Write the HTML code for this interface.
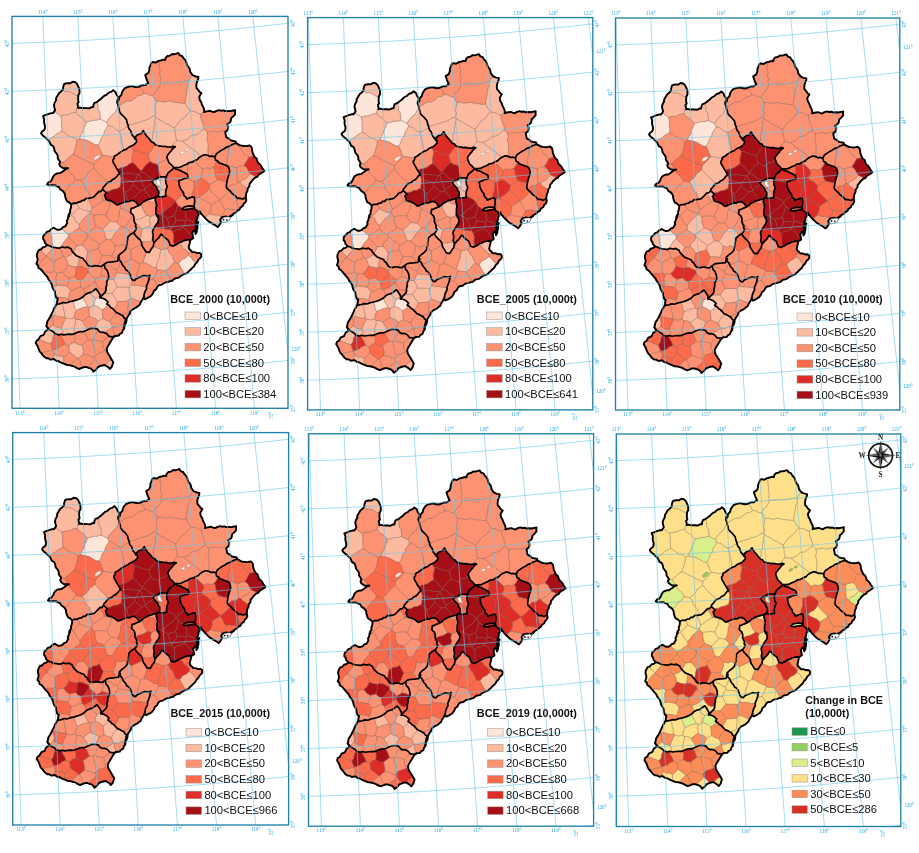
<!DOCTYPE html><html><head><meta charset="utf-8"><title>BCE maps</title>
<style>html,body{margin:0;padding:0;background:#fff}svg{display:block}text{font-family:"Liberation Sans",sans-serif}.g{font-family:"Liberation Serif",serif;font-size:5.1px;fill:#22a9e8}.lt{font-weight:bold;font-size:10.6px;fill:#111}.ll{font-size:11.2px;fill:#111}.cb{fill:none;stroke:#000;stroke-width:1.7;stroke-linejoin:round;stroke-linecap:round}.ob{fill:none;stroke:#000;stroke-width:1.9;stroke-linejoin:round}</style></head><body>
<svg width="919" height="853" viewBox="0 0 919 853">
<rect width="919" height="853" fill="#fff"/>
<defs>
<path id="k0" d="M79.4,138.8 83.1,139.4 86.6,140.3 88.6,141.1 91.1,142.5 95.0,144.7 98.0,145.1 100.0,142.2 101.2,138.3 103.8,134.5 104.3,131.8 106.5,128.3 108.2,125.2 106.6,122.2 103.3,120.7 100.2,119.1 96.2,120.3 93.3,120.2 89.7,121.3 86.4,122.0 85.3,125.3 83.9,128.0 82.9,132.1 81.1,134.8 79.4,138.8Z"/>
<path id="k1" d="M100.2,119.1 103.3,120.7 106.6,122.2 108.2,119.6 110.5,116.5 112.1,115.1 115.2,112.4 116.8,108.9 118.4,106.9 118.3,106.7 118.0,105.0 117.2,102.5 117.3,100.5 118.3,98.5 118.6,98.1 117.8,96.6 116.2,94.1 115.6,92.2 113.2,90.1 111.2,91.9 109.2,92.4 107.2,93.9 106.2,95.1 104.6,95.5 102.6,97.2 101.2,98.7 99.2,100.1 97.2,101.8 96.9,102.0 97.8,104.9 98.0,109.7 99.6,111.4 100.4,116.2 100.2,119.1Z"/>
<path id="k2" d="M77.9,105.9 77.4,103.7 78.7,102.2 78.1,100.1 78.2,98.0 78.3,95.8 74.9,94.8 72.1,93.0 69.3,91.6 65.7,91.6 62.3,90.0 61.2,91.5 59.1,93.1 57.6,95.6 56.1,98.1 56.1,100.1 54.5,103.1 54.0,105.0 54.4,107.7 55.1,110.1 54.4,111.2 57.7,113.9 60.7,116.0 65.1,114.9 68.8,114.7 71.2,113.2 76.0,112.2 76.7,108.5 77.9,105.9Z"/>
<path id="k3" d="M61.6,131.3 61.9,128.2 61.5,123.7 61.6,119.7 60.7,116.0 57.7,113.9 54.4,111.2 53.1,113.1 50.9,113.2 48.1,114.1 45.2,115.2 43.0,116.1 44.2,119.1 44.0,121.1 44.2,123.3 45.0,126.2 44.8,128.8 44.0,130.2 42.1,131.4 41.0,133.2 42.7,135.5 45.0,137.2 46.5,138.6 48.4,140.5 51.0,137.9 54.1,136.3 56.3,134.3 58.5,133.0 61.6,131.3Z"/>
<path id="k4" d="M94.2,164.2 97.3,161.2 99.5,158.9 102.5,155.4 100.7,151.3 100.0,149.0 98.0,145.1 95.0,144.7 91.1,142.5 88.6,141.1 86.6,140.3 83.1,139.4 79.4,138.8 76.9,140.1 76.5,143.5 75.7,146.7 74.2,151.8 72.9,154.6 76.8,155.9 79.1,157.5 82.3,159.0 85.1,160.3 87.3,161.5 91.7,163.7 94.2,164.2Z"/>
<path id="k5" d="M67.4,168.3 68.1,168.2 67.5,168.5 68.5,171.2 71.7,174.3 74.1,176.6 75.2,179.5 81.2,180.5 84.5,177.7 86.8,175.4 88.7,171.9 91.4,170.4 93.8,167.9 94.2,164.2 91.7,163.7 87.3,161.5 85.1,160.3 82.3,159.0 79.1,157.5 76.8,155.9 72.9,154.6 69.3,157.2 67.0,159.5 63.3,162.4 65.6,165.8 67.4,168.3Z"/>
<path id="k6" d="M63.3,162.4 60.0,162.4 59.2,163.9 60.1,166.2 63.1,168.2 65.9,168.3 67.4,168.3 65.6,165.8 63.3,162.4Z"/>
<path id="k7" d="M75.2,179.5 74.1,176.6 71.7,174.3 68.5,171.2 67.5,168.5 65.4,169.4 63.1,171.2 60.3,173.1 58.1,173.2 56.1,173.9 54.1,175.2 53.0,177.0 52.1,179.3 50.4,181.8 48.5,182.1 47.0,184.3 49.0,185.3 51.1,185.3 52.9,185.2 55.0,185.2 57.1,186.3 59.0,187.1 60.1,189.3 63.1,191.3 63.8,192.2 66.4,189.9 68.0,187.7 70.3,184.3 73.2,182.9 75.2,179.5Z"/>
<path id="k8" d="M75.2,179.5 73.2,182.9 70.3,184.3 68.0,187.7 66.4,189.9 63.8,192.2 64.9,193.9 65.1,196.3 66.1,199.6 67.1,201.3 69.0,202.3 71.1,204.3 73.4,203.2 76.1,203.3 78.5,202.1 80.8,201.7 82.1,200.3 84.1,200.3 86.1,198.3 88.1,198.3 91.4,197.8 91.8,197.7 89.5,195.2 88.8,191.7 86.1,189.7 84.1,186.0 83.4,183.1 81.2,180.5 75.2,179.5Z"/>
<path id="k9" d="M93.8,167.9 96.2,170.9 98.4,173.3 99.9,175.0 102.6,177.2 105.4,180.0 107.3,183.1 108.4,182.2 110.8,181.4 112.4,179.6 114.6,178.7 116.4,176.9 118.1,174.7 119.8,173.6 117.8,170.2 116.0,167.4 115.1,165.5 113.2,162.4 112.8,160.2 114.2,158.1 114.4,156.6 110.1,156.5 106.4,155.6 102.5,155.4 99.5,158.9 97.3,161.2 94.2,164.2 93.8,167.9Z"/>
<path id="k10" d="M114.4,156.6 114.4,156.1 116.8,154.9 119.1,153.2 120.7,152.0 123.8,150.1 123.8,150.1 123.1,147.2 122.2,143.0 121.8,140.4 121.0,136.9 120.2,133.7 119.2,131.0 115.5,129.5 112.8,126.9 108.2,125.2 106.5,128.3 104.3,131.8 103.8,134.5 101.2,138.3 100.0,142.2 98.0,145.1 100.0,149.0 100.7,151.3 102.5,155.4 106.4,155.6 110.1,156.5 114.4,156.6Z"/>
<path id="k11" d="M79.4,138.8 81.1,134.8 82.9,132.1 83.9,128.0 85.3,125.3 86.4,122.0 83.5,119.0 81.7,117.0 78.5,115.5 76.0,112.2 71.2,113.2 68.8,114.7 65.1,114.9 60.7,116.0 61.6,119.7 61.5,123.7 61.9,128.2 61.6,131.3 65.0,132.8 67.0,134.9 70.9,136.9 74.1,137.8 76.9,140.1 79.4,138.8Z"/>
<path id="k12" d="M72.9,154.6 74.2,151.8 75.7,146.7 76.5,143.5 76.9,140.1 74.1,137.8 70.9,136.9 67.0,134.9 65.0,132.8 61.6,131.3 58.5,133.0 56.3,134.3 54.1,136.3 51.0,137.9 48.4,140.5 49.2,141.3 50.1,143.2 50.8,144.9 53.0,145.8 54.1,148.2 54.6,151.1 55.8,152.7 57.1,154.2 57.9,156.7 57.7,158.2 59.1,160.2 60.2,162.1 60.0,162.4 63.3,162.4 67.0,159.5 69.3,157.2 72.9,154.6Z"/>
<path id="k13" d="M93.8,167.9 91.4,170.4 88.7,171.9 86.8,175.4 84.5,177.7 81.2,180.5 83.4,183.1 84.1,186.0 86.1,189.7 88.8,191.7 89.5,195.2 91.8,197.7 93.2,197.3 95.6,195.1 97.2,193.3 99.0,191.4 100.6,191.6 102.4,189.6 103.0,187.8 105.0,185.6 106.0,184.0 107.3,183.1 105.4,180.0 102.6,177.2 99.9,175.0 98.4,173.3 96.2,170.9 93.8,167.9Z"/>
<path id="k14" d="M106.6,122.2 108.2,125.2 112.8,126.9 115.5,129.5 119.2,131.0 122.5,130.1 124.7,128.3 128.2,126.6 128.2,125.6 127.2,123.2 126.5,119.7 125.2,118.1 123.9,116.6 121.2,114.1 119.6,112.0 119.2,109.1 118.4,106.9 116.8,108.9 115.2,112.4 112.1,115.1 110.5,116.5 108.2,119.6 106.6,122.2Z"/>
<path id="k15" d="M119.2,131.0 120.2,133.7 121.0,136.9 121.8,140.4 122.2,143.0 123.1,147.2 123.8,150.1 126.6,149.1 128.5,147.4 131.8,145.8 133.8,144.8 136.5,142.1 136.5,139.9 135.2,138.1 134.6,137.5 134.5,137.3 132.2,135.2 131.2,132.4 130.6,130.6 129.2,129.2 128.3,126.7 128.2,126.6 124.7,128.3 122.5,130.1 119.2,131.0Z"/>
<path id="k16" d="M78.3,95.8 78.3,95.4 79.5,93.1 79.5,90.6 79.2,88.6 78.1,86.1 77.0,83.8 75.1,82.1 72.6,81.7 70.3,83.3 68.1,83.1 65.8,83.4 64.1,84.1 63.1,87.2 63.1,89.1 62.3,90.0 65.7,91.6 69.3,91.6 72.1,93.0 74.9,94.8 78.3,95.8Z"/>
<path id="k17" d="M76.0,112.2 78.5,115.5 81.7,117.0 83.5,119.0 86.4,122.0 89.7,121.3 93.3,120.2 96.2,120.3 100.2,119.1 100.4,116.2 99.6,111.4 98.0,109.7 97.8,104.9 96.9,102.0 94.2,103.1 93.4,105.2 93.2,107.1 91.4,107.2 89.2,108.4 86.1,108.1 83.7,108.0 82.2,108.2 79.6,107.5 78.1,108.1 77.9,105.9 77.9,105.9 76.7,108.5 76.0,112.2Z"/>
<path id="k18" d="M193.2,75.3 192.3,74.8 190.3,72.0 189.8,69.7 189.3,68.0 187.6,66.0 186.8,64.0 186.3,62.0 185.1,59.9 183.3,58.0 182.2,56.0 179.9,55.3 178.3,53.0 176.6,53.6 174.2,54.3 172.3,54.0 169.6,55.7 167.3,56.0 165.5,58.1 165.3,60.0 163.0,59.7 161.1,60.4 159.1,60.8 159.1,64.8 159.4,67.1 160.1,71.1 159.4,74.6 160.9,77.2 160.0,80.1 160.7,83.5 165.0,82.9 168.4,82.4 171.0,83.0 174.0,82.6 178.4,82.5 182.0,81.8 185.7,80.9 188.7,81.1 190.5,77.6 193.2,75.3Z"/>
<path id="k19" d="M188.7,81.1 185.7,80.9 182.0,81.8 178.4,82.5 174.0,82.6 171.0,83.0 168.4,82.4 165.0,82.9 160.7,83.5 159.4,86.8 157.0,90.5 154.8,91.9 153.3,96.0 156.2,101.2 160.2,101.1 162.6,102.0 166.6,101.8 169.3,101.1 172.5,101.8 175.9,102.7 178.5,102.5 181.1,103.3 185.1,103.0 185.3,99.3 186.0,96.3 186.9,91.2 186.7,89.0 188.6,85.6 188.7,81.1Z"/>
<path id="k20" d="M155.0,115.9 156.0,111.9 154.8,109.1 156.0,104.4 156.2,101.2 153.3,96.0 149.6,95.2 146.9,93.7 143.9,93.4 141.6,95.1 137.2,96.0 135.1,98.3 130.7,101.0 127.4,101.0 124.6,102.2 121.9,104.0 118.2,106.4 118.3,106.7 119.2,109.1 119.6,112.0 121.2,114.1 123.9,116.6 125.2,118.1 126.5,119.7 127.2,123.2 128.1,125.5 132.2,124.4 134.6,123.3 138.4,122.6 142.1,121.1 146.0,120.1 147.9,119.2 152.2,116.7 155.0,115.9Z"/>
<path id="k21" d="M156.2,101.2 156.0,104.4 154.8,109.1 156.0,111.9 155.0,115.9 155.8,117.3 158.6,119.3 162.2,121.0 165.0,123.3 168.3,124.4 170.7,126.1 174.6,128.0 176.4,125.4 178.4,122.8 180.6,120.1 183.7,118.1 186.0,116.2 187.3,113.6 190.3,110.9 187.4,107.3 185.1,103.0 181.1,103.3 178.5,102.5 175.9,102.7 172.5,101.8 169.3,101.1 166.6,101.8 162.6,102.0 160.2,101.1 156.2,101.2Z"/>
<path id="k22" d="M200.5,114.0 200.8,118.1 202.0,121.0 203.5,125.2 204.3,129.1 207.1,132.1 211.0,131.7 214.3,130.9 216.7,132.0 220.2,131.6 223.7,130.5 227.0,130.6 227.5,130.1 228.2,128.2 228.2,126.4 227.2,124.2 230.2,122.1 230.8,120.7 231.2,118.1 233.2,116.4 235.2,114.1 235.0,112.5 235.2,110.1 233.2,110.5 230.2,111.1 228.4,110.9 225.2,111.1 223.8,110.4 220.8,110.7 219.2,110.1 216.5,110.8 214.2,112.1 212.8,111.8 209.9,110.8 208.2,111.1 206.3,111.4 204.2,112.1 204.2,111.6 200.5,114.0Z"/>
<path id="k23" d="M182.4,141.2 185.7,143.8 187.9,145.6 191.3,148.1 193.1,149.8 196.6,151.9 198.6,154.1 201.5,156.1 204.2,154.8 205.9,154.8 208.2,155.5 208.5,155.7 207.8,151.8 208.1,148.6 208.3,146.2 207.9,142.5 206.9,138.6 207.8,135.3 207.1,132.1 204.3,129.1 201.0,130.7 198.5,133.3 195.4,135.0 191.6,135.2 188.4,138.7 186.1,139.8 182.4,141.2Z"/>
<path id="k24" d="M176.5,140.6 173.8,143.6 171.0,147.2 173.2,146.3 175.3,146.8 172.6,148.8 171.1,151.1 170.0,152.1 168.5,154.1 167.3,155.5 167.0,157.7 168.0,160.2 169.1,162.9 171.3,164.8 173.7,167.5 177.4,167.5 179.9,167.3 182.1,166.2 184.0,165.3 186.8,164.2 188.9,162.7 192.1,162.2 194.3,160.8 197.5,159.5 198.8,157.8 201.5,156.1 201.5,156.1 198.6,154.1 196.6,151.9 193.1,149.8 191.3,148.1 187.9,145.6 185.7,143.8 182.4,141.2 176.5,140.6Z"/>
<path id="k25" d="M176.5,140.6 175.6,135.8 175.3,133.0 174.6,128.0 170.7,126.1 168.3,124.4 165.0,123.3 162.2,121.0 158.6,119.3 155.8,117.3 154.6,120.9 154.9,123.4 153.9,127.2 153.7,132.0 152.4,133.8 152.5,138.2 151.4,141.6 151.9,142.1 153.9,142.8 155.2,144.8 158.5,145.8 160.6,146.1 162.7,146.5 164.5,146.3 167.3,146.8 169.4,147.0 171.0,147.2 171.0,147.2 173.8,143.6 176.5,140.6Z"/>
<path id="k26" d="M207.1,132.1 207.8,135.3 206.9,138.6 207.9,142.5 208.3,146.2 208.1,148.6 207.8,151.8 208.5,155.7 209.9,156.4 212.2,156.1 214.9,156.8 216.2,154.1 217.9,152.6 219.6,151.5 222.0,149.9 224.3,148.8 226.4,147.3 229.6,146.1 231.8,144.7 233.6,144.1 236.1,142.9 235.6,141.4 232.3,140.8 230.2,140.2 229.0,138.7 226.2,137.2 225.8,134.9 225.2,132.2 227.0,130.6 223.7,130.5 220.2,131.6 216.7,132.0 214.3,130.9 211.0,131.7 207.1,132.1Z"/>
<path id="k27" d="M155.8,117.3 155.0,115.9 152.2,116.7 147.9,119.2 146.0,120.1 142.1,121.1 138.4,122.6 134.6,123.3 132.2,124.4 128.1,125.5 128.2,125.6 128.3,126.7 129.2,129.2 130.6,130.6 131.2,132.4 132.2,135.2 134.5,137.3 134.6,137.5 135.2,138.1 135.9,136.4 137.8,134.7 141.2,133.4 143.2,130.7 145.2,134.1 146.4,135.8 148.6,138.1 150.6,140.6 151.4,141.6 152.5,138.2 152.4,133.8 153.7,132.0 153.9,127.2 154.9,123.4 154.6,120.9 155.8,117.3Z"/>
<path id="k28" d="M174.6,128.0 175.3,133.0 175.6,135.8 176.5,140.6 182.4,141.2 186.1,139.8 188.4,138.7 191.6,135.2 195.4,135.0 198.5,133.3 201.0,130.7 204.3,129.1 203.5,125.2 202.0,121.0 200.8,118.1 200.5,114.0 197.7,113.3 194.6,111.5 190.3,110.9 187.3,113.6 186.0,116.2 183.7,118.1 180.6,120.1 178.4,122.8 176.4,125.4 174.6,128.0Z"/>
<path id="k29" d="M143.9,93.4 142.3,90.0 139.9,86.3 138.8,86.9 136.2,87.1 133.7,86.7 132.2,86.1 129.3,86.5 127.2,87.1 124.9,88.1 123.2,90.1 121.9,92.4 121.5,94.7 120.2,96.1 118.6,98.1 119.2,99.1 117.2,102.5 118.0,105.0 118.2,106.4 121.9,104.0 124.6,102.2 127.4,101.0 130.7,101.0 135.1,98.3 137.2,96.0 141.6,95.1 143.9,93.4Z"/>
<path id="k30" d="M190.3,110.9 194.6,111.5 197.7,113.3 200.5,114.0 204.2,111.6 204.1,109.1 203.2,107.1 201.8,104.1 201.2,102.1 199.9,100.2 199.2,97.1 200.0,95.4 201.4,93.1 199.6,91.9 198.4,90.1 196.5,88.0 196.3,86.1 196.5,83.3 197.3,81.1 198.2,78.8 198.4,77.0 196.0,76.5 194.3,76.0 193.2,75.3 190.5,77.6 188.7,81.1 188.6,85.6 186.7,89.0 186.9,91.2 186.0,96.3 185.3,99.3 185.1,103.0 187.4,107.3 190.3,110.9Z"/>
<path id="k31" d="M159.1,60.8 158.3,61.0 155.6,62.6 152.8,62.0 151.3,63.0 150.2,65.8 149.3,68.0 149.4,70.0 148.3,73.0 145.2,75.0 146.2,78.1 147.0,80.4 148.3,83.1 145.2,85.1 142.7,85.2 140.2,86.1 139.9,86.3 142.3,90.0 143.9,93.4 146.9,93.7 149.6,95.2 153.3,96.0 154.8,91.9 157.0,90.5 159.4,86.8 160.7,83.5 160.0,80.1 160.9,77.2 159.4,74.6 160.1,71.1 159.4,67.1 159.1,64.8 159.1,60.8Z"/>
<path id="k32" d="M226.3,165.0 230.5,166.0 232.8,166.6 236.2,167.8 239.8,166.4 244.0,165.4 246.6,161.3 248.7,157.4 246.6,155.3 243.7,153.3 241.7,149.6 240.8,148.1 237.9,145.5 235.3,143.3 233.6,144.1 231.8,144.7 229.6,146.1 229.4,146.2 228.3,149.4 228.5,154.6 227.1,156.7 227.2,161.2 226.3,165.0Z"/>
<path id="k33" d="M238.0,182.0 240.0,182.6 242.1,179.8 245.4,179.0 247.8,176.3 250.4,173.9 248.5,171.1 246.9,167.8 244.0,165.4 239.8,166.4 236.2,167.8 237.0,171.4 237.0,175.4 237.1,177.7 238.0,182.0Z"/>
<path id="k34" d="M240.0,182.6 238.0,182.0 235.1,184.4 230.8,185.0 227.0,188.1 228.3,189.6 230.3,191.0 231.6,193.0 233.1,194.1 235.0,195.6 237.6,198.3 240.2,198.2 241.7,199.0 243.7,198.7 245.7,197.6 245.8,197.6 245.7,197.0 246.0,195.5 246.3,193.0 247.5,190.8 247.6,189.7 245.4,187.1 241.8,184.9 240.0,182.6Z"/>
<path id="k35" d="M225.9,165.2 226.1,165.3 228.3,166.8 229.0,168.2 229.6,170.9 229.4,173.3 228.3,176.2 227.6,178.7 226.9,181.6 226.6,184.1 226.3,185.6 226.4,187.4 227.0,188.1 230.8,185.0 235.1,184.4 238.0,182.0 237.1,177.7 237.0,175.4 237.0,171.4 236.2,167.8 232.8,166.6 230.5,166.0 226.3,165.0 225.9,165.2Z"/>
<path id="k36" d="M248.7,157.4 246.6,161.3 244.0,165.4 246.9,167.8 248.5,171.1 250.4,173.9 253.4,175.2 256.4,177.0 257.4,176.7 258.4,174.9 261.7,172.9 264.4,170.9 262.4,168.2 261.0,165.7 259.7,164.2 257.9,162.7 257.1,160.2 256.6,158.6 254.4,156.8 254.1,156.2 248.7,157.4Z"/>
<path id="k37" d="M250.4,173.9 247.8,176.3 245.4,179.0 242.1,179.8 240.0,182.6 241.8,184.9 245.4,187.1 247.6,189.7 247.7,188.3 249.3,186.4 249.7,183.6 251.2,182.0 252.4,180.2 255.1,177.6 256.4,177.0 253.4,175.2 250.4,173.9Z"/>
<path id="k38" d="M226.3,165.0 227.2,161.2 227.1,156.7 228.5,154.6 228.3,149.4 229.4,146.2 226.4,147.3 224.3,148.8 222.0,149.9 219.6,151.5 217.9,152.6 216.2,154.1 214.9,156.8 215.6,160.2 217.6,160.9 218.9,162.8 222.0,163.9 224.3,164.8 225.9,165.2 226.3,165.0Z"/>
<path id="k39" d="M248.7,157.4 254.1,156.2 253.1,153.9 252.4,152.1 252.1,149.8 251.7,147.4 249.7,145.4 247.1,146.0 245.7,146.1 242.6,145.8 240.3,145.4 238.0,144.1 236.3,143.4 236.1,142.9 235.3,143.3 237.9,145.5 240.8,148.1 241.7,149.6 243.7,153.3 246.6,155.3 248.7,157.4Z"/>
<path id="k40" d="M194.0,181.5 198.2,179.9 201.1,178.7 201.0,175.1 202.8,172.2 202.4,169.2 199.2,165.9 196.1,163.2 194.1,160.9 192.1,162.2 189.0,162.7 187.5,166.2 187.8,169.9 186.7,173.9 187.4,174.2 188.0,177.6 188.0,177.6 190.6,180.0 194.0,181.5Z"/>
<path id="k41" d="M202.4,169.2 205.9,167.8 210.3,168.6 213.3,167.2 215.6,164.5 216.8,160.6 215.6,160.2 214.9,156.8 212.2,156.1 209.9,156.4 208.2,155.5 205.9,154.8 204.2,154.8 201.5,156.1 198.8,157.8 197.5,159.5 194.3,160.8 194.1,160.9 196.1,163.2 199.2,165.9 202.4,169.2Z"/>
<path id="k42" d="M226.9,181.6 226.9,181.6 227.6,178.7 228.3,176.2 229.4,173.3 229.6,170.9 229.0,168.2 228.3,166.8 226.1,165.3 224.3,164.8 222.0,163.9 218.9,162.8 217.6,160.9 216.8,160.6 215.6,164.5 213.3,167.2 214.5,169.8 214.8,172.9 216.2,177.5 217.7,179.6 222.7,180.9 226.9,181.6Z"/>
<path id="k43" d="M199.2,197.4 201.5,195.0 204.8,193.3 206.6,191.6 209.0,188.4 209.7,184.4 206.8,181.5 203.8,179.5 201.1,178.7 198.2,179.9 194.0,181.5 194.0,186.0 194.1,188.7 192.2,193.4 192.4,197.0 192.6,196.9 194.1,197.0 194.3,198.1 199.2,197.4Z"/>
<path id="k44" d="M194.0,181.5 190.6,180.0 188.0,177.6 186.2,178.1 183.3,178.9 181.7,179.8 178.7,180.9 179.1,183.3 179.3,185.6 180.8,189.1 182.0,190.9 183.4,192.6 184.0,195.6 186.1,197.4 186.7,199.0 190.1,197.6 192.4,197.0 192.2,193.4 194.1,188.7 194.0,186.0 194.0,181.5Z"/>
<path id="k45" d="M217.7,179.6 213.4,182.5 209.7,184.4 209.0,188.4 211.0,190.9 213.5,193.8 217.1,196.8 219.2,199.8 222.7,197.6 225.0,195.4 227.4,193.0 229.6,190.6 228.3,189.6 226.4,187.4 226.3,185.6 226.6,184.1 226.9,181.6 222.7,180.9 217.7,179.6Z"/>
<path id="k46" d="M209.4,213.7 211.2,208.6 211.1,204.9 207.9,202.0 204.8,200.7 202.7,199.8 199.2,197.4 194.3,198.1 194.5,198.6 194.7,201.7 194.4,203.6 194.1,205.7 194.7,209.0 197.4,211.0 198.6,212.8 198.8,212.9 198.8,212.4 199.5,211.0 200.8,213.0 202.8,215.7 204.6,217.5 209.4,213.7Z"/>
<path id="k47" d="M221.1,216.7 223.9,212.8 225.2,209.5 223.0,207.1 221.7,203.5 219.2,199.9 215.4,202.3 211.1,204.9 211.2,208.6 209.4,213.7 213.6,214.9 218.1,215.1 221.1,216.7Z"/>
<path id="k48" d="M219.2,199.8 219.2,199.9 221.7,203.5 223.0,207.1 225.2,209.5 227.8,208.9 231.6,209.3 235.6,209.9 238.3,209.4 238.0,206.6 237.0,203.2 236.4,199.7 236.1,196.7 235.0,195.6 233.1,194.1 231.6,193.0 230.3,191.0 229.6,190.6 227.4,193.0 225.0,195.4 222.7,197.6 219.2,199.8Z"/>
<path id="k49" d="M204.6,217.5 205.5,218.4 208.2,221.1 211.5,223.1 214.9,225.1 217.6,227.1 218.9,225.8 220.9,222.4 220.2,219.7 221.6,218.0 221.1,216.7 218.1,215.1 213.6,214.9 209.4,213.7 204.6,217.5Z"/>
<path id="k50" d="M219.2,199.9 219.2,199.8 217.1,196.8 213.5,193.8 211.0,190.9 209.0,188.4 206.6,191.6 204.8,193.3 201.5,195.0 199.2,197.4 202.7,199.8 204.8,200.7 207.9,202.0 211.1,204.9 215.4,202.3 219.2,199.9Z"/>
<path id="k51" d="M189.0,162.7 188.9,162.7 186.8,164.2 184.0,165.3 182.1,166.2 179.9,167.3 177.4,167.5 173.7,167.5 175.4,168.8 177.3,169.5 179.9,170.2 182.0,171.5 184.1,172.4 186.7,173.9 187.8,169.9 187.5,166.2 189.0,162.7Z"/>
<path id="k52" d="M238.3,209.4 238.8,210.0 239.5,209.6 240.3,207.7 242.9,205.8 243.7,203.7 245.2,202.6 246.3,200.3 245.8,197.6 245.7,197.6 243.7,198.7 241.7,199.0 240.2,198.2 237.6,198.3 236.1,196.7 236.4,199.7 237.0,203.2 238.0,206.6 238.3,209.4Z"/>
<path id="k53" d="M217.7,179.6 216.2,177.5 214.8,172.9 214.5,169.8 213.3,167.2 210.3,168.6 205.9,167.8 202.4,169.2 202.8,172.2 201.0,175.1 201.1,178.7 203.8,179.5 206.8,181.5 209.7,184.4 213.4,182.5 217.7,179.6Z"/>
<path id="k54" d="M238.3,209.4 235.6,209.9 231.6,209.3 227.8,208.9 225.2,209.5 223.9,212.8 221.1,216.7 221.6,218.0 222.2,217.1 225.6,216.4 228.3,217.1 230.9,215.7 233.6,213.7 236.0,212.3 237.0,211.0 238.8,210.0 238.3,209.4Z"/>
<path id="k55" d="M178.7,181.3 178.7,180.9 181.7,179.8 183.3,178.9 186.2,178.1 188.0,177.6 187.4,174.2 184.1,172.4 182.0,171.5 179.9,170.2 177.3,169.5 175.4,168.8 173.7,167.5 172.6,169.3 170.6,170.9 168.0,172.9 166.6,176.2 165.9,178.3 168.9,178.5 171.5,179.7 175.0,180.1 178.7,181.3Z"/>
<path id="k56" d="M165.9,178.3 165.5,179.5 165.9,181.6 166.0,183.5 167.3,186.3 166.3,188.9 165.9,190.9 165.5,192.9 165.8,195.1 169.9,196.9 172.7,198.4 175.6,201.3 177.5,198.6 180.8,196.3 183.5,193.1 183.4,192.6 182.0,190.9 180.8,189.1 179.3,185.6 179.1,183.3 178.7,181.3 175.0,180.1 171.5,179.7 168.9,178.5 165.9,178.3Z"/>
<path id="k57" d="M160.2,214.4 163.6,212.5 165.8,209.4 167.4,208.4 171.1,206.5 173.6,203.1 175.7,201.6 175.6,201.3 172.7,198.4 169.9,196.9 165.8,195.1 165.9,196.3 164.0,196.4 161.9,197.0 159.9,196.7 157.9,196.3 155.9,197.1 155.2,200.3 156.2,203.1 156.6,205.7 156.0,207.6 155.9,211.0 155.9,213.9 156.5,214.9 160.2,214.4Z"/>
<path id="k58" d="M194.4,207.5 194.1,205.7 194.4,203.6 194.7,201.7 194.5,198.6 194.1,197.0 192.6,196.9 190.1,197.6 186.7,199.0 186.1,197.4 184.0,195.6 183.5,193.1 180.8,196.3 177.5,198.6 175.6,201.3 175.7,201.6 177.7,205.2 182.6,208.5 184.1,207.0 188.8,205.9 193.9,206.3 193.6,207.7 194.4,207.5Z"/>
<path id="k59" d="M177.7,205.2 175.7,201.6 173.6,203.1 171.1,206.5 167.4,208.4 165.8,209.4 163.6,212.5 160.2,214.4 164.3,216.2 166.7,217.9 171.0,216.8 174.3,215.4 175.9,211.9 176.7,208.4 177.7,205.2Z"/>
<path id="k60" d="M185.2,221.0 186.5,219.7 185.4,216.6 186.0,213.2 184.4,209.7 184.1,209.5 182.1,209.0 182.6,208.5 177.7,205.2 176.7,208.4 175.9,211.9 174.3,215.4 175.9,220.1 181.1,220.3 185.2,221.0Z"/>
<path id="k61" d="M174.3,215.4 171.0,216.8 166.7,217.9 168.5,222.4 169.3,225.8 171.1,228.9 172.9,225.2 174.6,224.0 175.9,220.1 174.3,215.4Z"/>
<path id="k62" d="M171.0,229.6 171.1,228.9 169.3,225.8 168.5,222.4 166.7,217.9 164.3,216.2 160.2,214.4 156.5,214.9 157.2,216.4 157.9,215.0 157.9,217.4 158.6,219.0 157.9,222.4 155.9,225.0 154.4,227.6 157.1,227.5 161.6,228.2 164.1,228.9 166.9,229.1 171.0,229.6Z"/>
<path id="k63" d="M171.1,228.9 171.0,229.6 172.9,232.2 176.1,230.0 179.3,229.6 183.0,227.4 184.8,224.5 185.2,221.0 181.1,220.3 175.9,220.1 174.6,224.0 172.9,225.2 171.1,228.9Z"/>
<path id="k64" d="M184.4,209.7 186.0,213.2 185.4,216.6 186.5,219.7 190.0,220.5 193.1,221.9 196.2,222.3 196.1,221.7 197.4,218.9 197.5,216.4 198.8,214.6 198.8,212.9 198.6,212.8 197.4,211.0 194.7,209.0 194.4,207.5 193.6,207.7 193.5,208.3 188.8,209.0 184.8,209.7 184.7,209.7 184.4,209.7Z"/>
<path id="k65" d="M192.9,236.5 192.7,235.6 192.2,233.1 193.6,230.8 195.2,230.0 196.2,228.0 196.1,227.3 195.5,225.8 196.4,224.0 196.2,222.3 193.1,221.9 190.0,220.5 186.5,219.7 185.2,221.0 184.8,224.5 183.0,227.4 186.1,229.3 188.7,232.2 190.2,235.1 192.9,236.5Z"/>
<path id="k66" d="M172.9,232.2 171.0,229.6 166.9,229.1 164.1,228.9 161.6,228.2 157.1,227.5 154.4,227.6 153.9,228.4 152.6,231.1 152.6,232.6 153.2,235.1 153.1,237.1 152.6,239.1 153.3,240.6 153.9,243.1 155.2,241.5 156.6,239.8 158.7,237.9 160.0,235.7 161.1,234.1 162.8,235.2 164.1,237.1 166.3,238.6 168.1,240.1 169.1,242.2 170.1,245.1 173.1,246.1 174.3,245.5 173.6,241.7 173.6,239.0 173.8,235.8 172.9,232.2Z"/>
<path id="k67" d="M183.0,227.4 179.3,229.6 176.1,230.0 172.9,232.2 173.8,235.8 173.6,239.0 173.6,241.7 174.3,245.5 175.1,245.0 177.1,244.1 178.9,242.7 181.1,242.1 183.1,240.9 186.2,240.1 188.4,239.7 190.2,240.1 193.2,238.1 192.9,236.5 190.2,235.1 188.7,232.2 186.1,229.3 183.0,227.4Z"/>
<path id="k68" d="M188.2,255.3 188.3,253.3 185.9,250.1 182.8,248.1 181.0,245.0 178.2,243.3 177.1,244.1 175.1,245.0 173.1,246.1 170.3,245.1 167.4,248.5 169.4,253.0 171.9,255.1 173.2,258.3 174.9,262.5 178.6,263.4 181.7,259.6 185.8,257.7 188.2,255.3Z"/>
<path id="k69" d="M184.9,273.9 187.2,273.1 188.5,271.4 190.2,270.1 191.5,268.6 194.2,266.1 195.1,264.1 196.3,263.0 192.8,260.2 191.8,257.9 188.2,255.3 185.8,257.7 181.7,259.6 178.6,263.4 180.5,267.2 182.9,271.2 184.9,273.9Z"/>
<path id="k70" d="M130.5,249.7 134.3,247.8 137.9,246.3 141.7,243.9 141.6,242.8 140.5,240.4 137.8,237.8 135.2,235.1 133.8,232.4 130.5,234.4 127.8,237.1 127.6,239.8 127.1,241.8 127.3,244.1 126.5,246.5 126.4,246.6 130.5,249.7Z"/>
<path id="k71" d="M165.4,270.7 162.1,270.3 157.6,269.8 156.1,273.7 155.2,275.9 153.3,279.3 155.6,281.9 157.8,286.3 159.1,285.1 162.0,284.6 164.1,283.1 165.8,282.3 168.7,281.8 170.1,281.1 171.7,280.9 169.4,276.6 168.0,274.0 165.4,270.7Z"/>
<path id="k72" d="M121.8,263.6 121.9,264.0 123.1,265.9 124.5,267.2 125.8,269.9 127.7,270.8 129.1,272.6 130.5,275.9 131.1,278.1 132.5,279.9 134.5,280.6 136.0,278.9 136.3,278.8 136.7,274.8 137.6,270.8 138.7,268.6 139.5,264.0 136.4,261.8 131.3,259.1 128.3,260.7 124.4,262.4 121.8,263.6Z"/>
<path id="k73" d="M143.0,262.6 146.0,263.0 150.0,265.4 152.8,267.2 156.3,267.8 157.0,263.8 158.0,260.6 159.6,257.7 160.0,253.2 161.2,249.7 158.0,248.3 153.2,246.5 151.2,249.1 149.2,252.5 146.8,252.0 145.8,254.7 143.9,259.2 143.0,262.6Z"/>
<path id="k74" d="M126.4,246.6 126.0,248.7 124.5,250.5 123.1,251.9 121.1,253.2 118.4,255.8 118.4,255.8 119.4,257.8 118.4,259.5 119.5,260.1 121.1,261.9 121.8,263.6 124.4,262.4 128.3,260.7 131.3,259.1 131.1,254.7 130.5,249.7 126.4,246.6Z"/>
<path id="k75" d="M178.6,263.4 174.9,262.5 172.0,264.2 169.3,268.4 165.4,270.7 168.0,274.0 169.4,276.6 171.7,280.9 172.2,280.8 174.0,279.1 176.1,278.1 178.5,277.8 180.4,276.2 182.1,275.1 184.0,274.2 184.9,273.9 182.9,271.2 180.5,267.2 178.6,263.4Z"/>
<path id="k76" d="M161.2,249.7 167.4,248.5 170.3,245.1 170.1,245.1 169.1,242.2 168.1,240.1 166.3,238.6 164.1,237.1 162.8,235.2 161.1,234.1 160.0,235.7 158.7,237.9 156.6,239.8 155.2,241.5 153.9,243.1 153.2,246.5 153.2,246.5 158.0,248.3 161.2,249.7Z"/>
<path id="k77" d="M153.3,279.3 148.6,280.3 148.6,280.6 147.7,283.1 146.5,285.9 146.6,288.6 145.2,291.3 144.3,293.5 143.9,296.7 143.6,298.5 145.1,299.2 147.2,298.2 149.1,297.2 151.2,295.8 153.1,293.2 153.8,290.9 156.1,289.2 157.5,286.5 157.8,286.3 155.6,281.9 153.3,279.3Z"/>
<path id="k78" d="M153.3,279.3 155.2,275.9 156.1,273.7 157.6,269.8 156.3,267.8 152.8,267.2 150.0,265.4 146.0,263.0 143.0,262.6 139.5,264.0 138.7,268.6 137.6,270.8 136.7,274.8 136.3,278.8 137.8,277.9 141.2,276.6 143.8,275.6 145.9,275.9 147.9,276.3 149.9,275.2 149.4,277.1 148.6,280.3 153.3,279.3Z"/>
<path id="k79" d="M130.5,249.7 131.1,254.7 131.3,259.1 136.4,261.8 139.5,264.0 143.0,262.6 143.9,259.2 145.8,254.7 146.8,252.0 145.9,251.8 143.9,248.5 142.4,246.5 141.8,244.4 141.7,243.9 137.9,246.3 134.3,247.8 130.5,249.7Z"/>
<path id="k80" d="M188.3,253.3 191.2,251.0 190.5,250.0 189.2,249.1 188.7,247.1 189.2,245.1 189.8,243.0 190.2,240.1 188.4,239.7 186.2,240.1 183.1,240.9 181.1,242.1 178.9,242.7 178.2,243.3 181.0,245.0 182.8,248.1 185.9,250.1 188.3,253.3Z"/>
<path id="k81" d="M167.4,248.5 161.2,249.7 160.0,253.2 159.6,257.7 158.0,260.6 157.0,263.8 156.3,267.8 157.6,269.8 162.1,270.3 165.4,270.7 169.3,268.4 172.0,264.2 174.9,262.5 173.2,258.3 171.9,255.1 169.4,253.0 167.4,248.5Z"/>
<path id="k82" d="M196.3,263.0 197.2,262.1 198.6,259.4 200.2,258.1 201.3,256.5 201.2,254.1 199.6,252.9 197.2,253.1 194.5,252.1 192.2,252.1 191.2,251.0 188.3,253.3 188.2,255.3 191.8,257.9 192.8,260.2 196.3,263.0Z"/>
<path id="k83" d="M117.1,287.1 114.3,290.3 112.2,293.5 113.8,296.1 116.3,299.6 117.6,301.8 121.0,301.6 124.5,301.3 128.0,300.8 130.7,298.1 130.0,294.7 128.9,290.5 129.4,287.4 125.7,287.2 121.2,287.1 117.1,287.1Z"/>
<path id="k84" d="M116.3,269.6 113.2,269.0 111.2,266.7 107.8,265.7 104.3,264.3 104.0,264.5 104.5,266.0 105.3,268.6 106.8,269.9 108.0,272.6 108.5,274.8 108.7,277.9 107.9,279.3 113.7,279.3 115.1,275.8 117.5,272.4 116.3,269.6Z"/>
<path id="k85" d="M128.7,312.4 127.6,309.4 128.5,304.1 128.0,300.8 124.5,301.3 121.0,301.6 117.6,301.8 116.6,305.0 113.6,309.5 114.7,310.8 116.2,312.4 118.7,313.5 121.1,315.0 124.6,313.7 128.7,312.4Z"/>
<path id="k86" d="M131.1,284.7 129.4,287.4 128.9,290.5 130.0,294.7 130.7,298.1 134.4,299.3 138.3,301.0 141.5,301.2 141.8,300.7 142.7,299.2 143.1,298.2 143.1,298.2 143.9,296.7 144.3,293.5 145.2,291.3 146.6,288.6 146.6,286.6 142.3,286.5 139.5,285.5 134.2,285.4 131.1,284.7Z"/>
<path id="k87" d="M131.0,277.6 130.5,275.9 130.1,275.0 127.2,274.0 124.1,273.5 120.0,273.2 117.5,272.4 115.1,275.8 113.7,279.3 115.5,283.4 117.1,287.1 121.2,287.1 125.7,287.2 129.4,287.4 131.1,284.7 131.9,281.1 131.0,277.6Z"/>
<path id="k88" d="M146.6,286.6 146.5,285.9 147.7,283.1 148.6,280.6 149.4,277.1 149.9,275.2 147.9,276.3 145.9,275.9 143.8,275.6 141.2,276.6 137.8,277.9 136.0,278.9 134.5,280.6 132.5,279.9 131.1,278.1 131.0,277.6 131.9,281.1 131.1,284.7 134.2,285.4 139.5,285.5 142.3,286.5 146.6,286.6Z"/>
<path id="k89" d="M117.6,301.8 116.3,299.6 113.8,296.1 112.2,293.5 107.2,293.6 103.6,293.7 103.3,294.1 102.0,295.3 100.3,297.5 103.1,298.4 105.3,299.4 108.0,302.1 106.7,304.1 109.2,305.6 110.7,307.4 112.6,308.5 113.6,309.5 116.6,305.0 117.6,301.8Z"/>
<path id="k90" d="M129.9,313.3 130.5,311.4 131.6,310.2 133.8,308.7 136.5,307.4 138.0,306.0 139.8,304.7 140.5,302.6 141.5,301.2 138.3,301.0 134.4,299.3 130.7,298.1 128.0,300.8 128.5,304.1 127.6,309.4 128.7,312.4 129.9,313.3Z"/>
<path id="k91" d="M116.3,269.6 117.5,272.4 120.0,273.2 124.1,273.5 127.2,274.0 130.1,275.0 129.1,272.6 127.7,270.8 125.8,269.9 124.5,267.2 123.1,265.9 121.9,264.0 121.1,261.9 120.6,261.3 118.6,266.8 116.3,269.6Z"/>
<path id="k92" d="M112.2,293.5 114.3,290.3 117.1,287.1 115.5,283.4 113.7,279.3 107.9,279.3 107.7,279.7 106.7,281.9 106.8,284.5 106.0,287.3 106.0,290.1 105.3,292.0 103.6,293.7 107.2,293.6 112.2,293.5Z"/>
<path id="k93" d="M116.3,269.6 118.6,266.8 120.6,261.3 119.5,260.1 118.4,259.5 117.4,261.2 115.3,261.5 112.0,261.9 109.7,262.1 106.7,262.5 104.3,264.3 107.8,265.7 111.2,266.7 113.2,269.0 116.3,269.6Z"/>
<path id="k94" d="M128.7,312.4 124.6,313.7 121.1,315.0 121.2,315.0 122.7,315.5 123.8,317.5 125.4,318.8 125.7,320.2 126.1,322.2 126.5,320.8 126.7,318.3 128.5,315.4 129.8,313.6 129.9,313.3 128.7,312.4Z"/>
<path id="k95" d="M61.4,328.3 62.7,324.5 64.0,321.6 66.1,318.0 64.7,316.7 62.1,317.3 58.7,316.6 54.3,315.2 51.6,315.6 53.2,320.8 52.9,324.9 56.3,327.2 61.4,328.3Z"/>
<path id="k96" d="M76.3,310.5 80.3,308.6 83.9,307.3 87.8,306.8 85.8,303.0 84.1,300.4 82.5,297.2 79.9,298.7 77.8,299.5 75.9,300.1 72.6,301.1 72.0,301.2 73.7,303.2 74.8,307.7 76.3,310.5Z"/>
<path id="k97" d="M96.0,298.3 94.4,301.7 94.1,305.5 98.3,306.9 102.1,309.8 104.7,308.2 108.2,305.0 106.7,304.1 108.0,302.1 105.3,299.4 103.1,298.4 100.3,297.5 100.0,298.0 100.0,297.4 100.0,296.5 96.0,298.3Z"/>
<path id="k98" d="M102.1,309.8 98.3,306.9 94.1,305.5 89.5,307.4 89.0,311.1 89.5,316.1 92.3,317.9 95.7,318.8 97.9,321.1 103.0,318.5 102.6,314.8 102.1,309.8Z"/>
<path id="k99" d="M87.8,306.8 83.9,307.3 80.3,308.6 76.3,310.5 74.9,313.5 74.2,317.9 75.5,319.4 79.0,319.4 82.6,321.1 86.6,318.1 89.5,316.1 89.0,311.1 89.5,307.4 87.8,306.8Z"/>
<path id="k100" d="M74.2,317.9 74.9,313.5 76.3,310.5 74.8,307.7 73.7,303.2 72.0,301.2 70.5,301.4 67.4,302.5 65.2,302.8 63.4,302.5 62.5,302.8 63.1,306.2 63.6,310.0 64.5,312.3 64.7,316.7 66.1,318.0 70.2,318.9 74.2,317.9Z"/>
<path id="k101" d="M63.1,334.7 63.8,334.9 67.2,334.4 69.2,334.2 72.6,334.3 73.5,334.0 74.4,330.2 74.0,327.3 75.7,322.7 75.5,319.4 74.2,317.9 70.2,318.9 66.1,318.0 64.0,321.6 62.7,324.5 61.4,328.3 63.0,332.0 63.1,334.7Z"/>
<path id="k102" d="M113.1,327.1 117.4,327.0 120.8,325.3 124.3,325.6 124.4,325.5 124.4,324.5 124.8,322.6 125.4,320.2 125.4,322.3 124.8,324.7 124.9,324.4 125.9,323.1 126.1,322.2 125.7,320.2 125.4,318.8 123.8,317.5 122.7,315.5 121.2,315.0 118.7,313.5 116.7,312.6 114.1,315.5 112.1,317.8 110.2,321.7 112.6,326.8 113.1,327.1Z"/>
<path id="k103" d="M82.6,321.1 79.0,319.4 75.5,319.4 75.7,322.7 74.0,327.3 74.4,330.2 73.5,334.0 74.5,333.6 77.9,332.2 81.2,331.5 82.8,331.8 85.2,330.9 87.1,330.0 87.3,329.9 85.8,326.0 84.0,324.5 82.6,321.1Z"/>
<path id="k104" d="M112.6,326.8 110.2,321.7 106.3,320.3 103.0,318.5 97.9,321.1 95.9,325.6 95.0,328.5 95.5,328.6 97.3,328.9 99.3,331.5 101.6,332.5 103.3,332.2 104.4,332.7 106.6,330.8 109.6,329.3 112.6,326.8Z"/>
<path id="k105" d="M116.7,312.6 116.2,312.4 114.7,310.8 112.6,308.5 110.7,307.4 109.2,305.6 108.2,305.0 104.7,308.2 102.1,309.8 102.6,314.8 103.0,318.5 106.3,320.3 110.2,321.7 112.1,317.8 114.1,315.5 116.7,312.6Z"/>
<path id="k106" d="M100.0,296.5 100.0,294.7 98.0,291.4 96.0,288.7 93.3,290.7 90.8,292.4 90.2,292.5 92.9,296.1 96.0,298.3 100.0,296.5Z"/>
<path id="k107" d="M48.3,328.8 48.4,328.9 51.8,330.9 53.4,331.8 55.1,333.6 58.5,334.9 61.2,334.2 63.1,334.7 63.0,332.0 61.4,328.3 56.3,327.2 52.9,324.9 48.3,328.8Z"/>
<path id="k108" d="M97.9,321.1 95.7,318.8 92.3,317.9 89.5,316.1 86.6,318.1 82.6,321.1 84.0,324.5 85.8,326.0 87.3,329.9 89.3,328.9 90.7,328.4 93.3,328.2 95.0,328.5 95.9,325.6 97.9,321.1Z"/>
<path id="k109" d="M113.1,327.1 112.6,326.8 109.6,329.3 106.6,330.8 104.4,332.7 106.7,333.6 108.7,336.2 112.0,336.9 114.7,336.2 115.4,336.1 113.4,331.4 113.1,327.1Z"/>
<path id="k110" d="M51.6,315.6 54.3,315.2 58.7,316.6 62.1,317.3 64.7,316.7 64.5,312.3 63.6,310.0 63.1,306.2 62.5,302.8 61.1,303.4 57.8,304.1 56.5,304.4 56.2,304.9 55.1,306.8 53.9,308.6 53.1,310.8 52.1,313.1 51.1,314.8 51.0,315.1 51.6,315.6Z"/>
<path id="k111" d="M87.8,306.8 89.5,307.4 94.1,305.5 94.4,301.7 96.0,298.3 92.9,296.1 90.2,292.5 89.3,292.7 85.9,294.1 83.2,296.7 82.5,297.2 84.1,300.4 85.8,303.0 87.8,306.8Z"/>
<path id="k112" d="M124.4,325.6 124.4,327.1 123.8,329.1 123.9,326.4 124.3,325.6 120.8,325.3 117.4,327.0 113.1,327.1 113.4,331.4 115.4,336.1 116.8,335.8 118.7,335.6 119.8,334.0 122.0,332.9 122.9,330.1 124.1,328.9 124.6,326.4 124.7,325.6 124.4,325.6Z"/>
<path id="k113" d="M52.9,324.9 53.2,320.8 51.6,315.6 51.0,315.1 50.5,316.3 49.1,318.8 47.4,321.2 47.1,322.8 46.4,326.2 48.3,328.8 52.9,324.9Z"/>
<path id="k114" d="M64.9,344.2 63.4,340.4 61.3,337.1 61.2,334.2 58.5,334.9 55.1,333.6 54.8,333.3 53.0,337.4 52.6,340.7 50.5,343.7 52.8,349.6 55.7,349.0 58.9,347.7 61.0,345.6 64.9,344.2Z"/>
<path id="k115" d="M74.5,342.5 77.8,344.3 81.9,344.8 85.1,342.4 88.4,340.1 87.1,337.7 85.9,334.4 83.5,331.5 82.8,331.8 81.2,331.5 77.9,332.2 74.5,333.6 74.3,333.6 75.0,337.9 74.5,342.5Z"/>
<path id="k116" d="M81.9,344.8 77.8,344.3 74.5,342.5 71.2,343.4 68.8,345.9 69.3,352.0 71.7,353.8 74.4,355.8 77.5,358.3 78.4,358.3 83.1,354.4 83.6,351.9 82.8,347.8 81.9,344.8Z"/>
<path id="k117" d="M104.9,350.8 102.5,352.2 97.8,353.5 95.3,355.6 94.4,357.1 95.0,359.7 97.9,362.4 101.2,365.7 101.3,365.7 104.7,365.0 104.7,365.1 107.8,361.8 111.8,359.7 111.3,359.0 109.3,355.6 107.3,352.3 107.2,351.5 104.9,350.8Z"/>
<path id="k118" d="M52.7,350.0 52.8,349.6 50.5,343.7 46.0,342.3 42.7,340.7 38.5,339.4 38.4,339.6 36.5,340.7 35.7,342.9 37.7,346.3 38.6,348.8 39.1,350.3 40.0,351.9 41.3,353.2 45.2,351.6 49.7,350.7 52.7,350.0Z"/>
<path id="k119" d="M93.6,339.5 97.6,340.7 102.9,341.9 106.1,338.4 109.5,336.4 108.7,336.2 106.7,333.6 103.3,332.2 101.6,332.5 99.3,331.5 97.3,328.9 97.1,332.1 94.9,335.9 93.6,339.5Z"/>
<path id="k120" d="M92.3,340.3 88.4,340.1 85.1,342.4 81.9,344.8 82.8,347.8 83.6,351.9 83.1,354.4 87.7,355.0 91.3,356.6 94.4,357.1 95.3,355.6 95.0,350.8 94.4,347.4 92.9,344.3 92.3,340.3Z"/>
<path id="k121" d="M63.7,357.3 61.3,355.9 57.9,355.9 54.3,354.1 52.8,359.2 53.8,359.0 56.5,361.0 58.0,360.9 60.5,362.3 63.8,363.7 65.1,364.2 63.8,361.4 63.7,357.3Z"/>
<path id="k122" d="M83.1,354.4 78.4,358.3 80.2,361.0 80.8,364.3 82.6,367.7 83.9,367.1 86.6,367.0 88.1,367.6 89.9,364.7 93.2,362.6 95.0,359.7 94.4,357.1 91.3,356.6 87.7,355.0 83.1,354.4Z"/>
<path id="k123" d="M77.5,358.3 74.4,355.8 71.7,353.8 69.3,352.0 66.8,354.9 63.7,357.3 63.8,361.4 65.1,364.2 67.2,365.0 69.5,365.1 70.1,365.3 72.5,362.9 74.6,360.6 77.5,358.3Z"/>
<path id="k124" d="M93.6,339.5 94.9,335.9 97.1,332.1 97.3,328.9 97.3,328.9 95.5,328.6 93.3,328.2 90.7,328.4 89.3,328.9 87.1,330.0 85.2,330.9 83.5,331.5 85.9,334.4 87.1,337.7 88.4,340.1 92.3,340.3 93.6,339.5Z"/>
<path id="k125" d="M50.5,343.7 52.6,340.7 53.0,337.4 54.8,333.3 53.4,331.8 51.8,330.9 48.4,328.9 46.7,330.5 45.1,331.5 43.7,334.9 40.4,336.2 38.5,339.4 42.7,340.7 46.0,342.3 50.5,343.7Z"/>
<path id="k126" d="M64.9,344.2 68.8,345.9 71.2,343.4 74.5,342.5 75.0,337.9 74.3,333.6 72.6,334.3 69.2,334.2 67.2,334.4 63.8,334.9 61.2,334.2 61.2,334.2 61.3,337.1 63.4,340.4 64.9,344.2Z"/>
<path id="k127" d="M78.4,358.3 77.5,358.3 74.6,360.6 72.5,362.9 70.1,365.3 71.2,365.7 72.9,366.0 75.2,367.0 76.9,368.1 79.2,369.0 82.6,367.7 82.6,367.7 80.8,364.3 80.2,361.0 78.4,358.3Z"/>
<path id="k128" d="M102.9,341.9 103.2,346.8 104.9,350.8 107.2,351.5 106.7,348.9 107.6,346.7 108.7,344.9 110.7,341.6 112.7,338.2 114.7,336.2 112.0,336.9 109.5,336.4 106.1,338.4 102.9,341.9Z"/>
<path id="k129" d="M88.1,367.6 88.4,367.8 90.6,368.4 92.3,369.9 93.3,371.7 96.0,369.7 98.0,367.0 101.2,365.7 97.9,362.4 95.0,359.7 93.2,362.6 89.9,364.7 88.1,367.6Z"/>
<path id="k130" d="M54.3,354.1 52.7,350.0 49.7,350.7 45.2,351.6 41.3,353.2 41.7,353.6 43.7,356.3 46.4,358.3 48.2,358.3 50.4,359.6 52.8,359.2 54.3,354.1Z"/>
<path id="k131" d="M104.9,350.8 103.2,346.8 102.9,341.9 97.6,340.7 93.6,339.5 92.3,340.3 92.9,344.3 94.4,347.4 95.0,350.8 95.3,355.6 97.8,353.5 102.5,352.2 104.9,350.8Z"/>
<path id="k132" d="M68.8,345.9 64.9,344.2 61.0,345.6 58.9,347.7 55.7,349.0 52.8,349.6 52.7,350.0 54.3,354.1 57.9,355.9 61.3,355.9 63.7,357.3 66.8,354.9 69.3,352.0 68.8,345.9Z"/>
<path id="k133" d="M104.7,365.1 108.0,367.0 110.0,369.0 112.0,366.4 112.5,364.4 113.3,362.3 111.8,359.7 107.8,361.8 104.7,365.1Z"/>
<path id="k134" d="M99.5,288.0 102.4,289.3 106.0,288.8 106.0,287.3 106.8,284.5 106.7,281.9 107.7,279.7 108.5,278.2 104.6,276.3 100.8,275.6 95.4,278.9 95.1,282.0 97.1,285.4 99.5,288.0Z"/>
<path id="k135" d="M87.8,269.3 84.6,267.9 81.7,266.5 77.9,266.2 76.2,267.0 76.1,272.1 74.8,276.4 76.6,278.6 80.2,280.6 83.7,278.2 86.1,274.5 88.3,272.4 87.8,269.3Z"/>
<path id="k136" d="M69.0,277.9 74.8,276.4 76.1,272.1 76.2,267.0 72.8,266.5 68.1,265.0 65.5,269.8 62.6,272.2 65.5,275.9 69.0,277.9Z"/>
<path id="k137" d="M95.4,278.9 92.6,275.8 88.3,272.4 86.1,274.5 83.7,278.2 80.2,280.6 80.3,283.9 81.2,287.5 83.2,288.9 86.3,287.3 89.9,285.6 91.8,283.5 95.1,282.0 95.4,278.9Z"/>
<path id="k138" d="M37.8,265.4 38.3,265.9 38.4,267.9 40.4,269.0 42.4,271.2 43.7,272.7 47.3,271.9 51.0,272.5 54.4,271.1 53.5,267.9 53.9,264.7 54.2,261.2 50.5,259.5 46.4,256.5 43.4,258.3 40.0,263.1 37.8,265.4Z"/>
<path id="k139" d="M83.2,288.9 81.2,287.5 77.7,287.8 74.2,289.8 70.4,290.4 69.2,294.9 68.2,299.0 69.3,301.8 70.5,301.4 72.6,301.1 75.9,300.1 77.8,299.5 79.9,298.7 83.2,296.7 85.4,294.5 83.2,288.9Z"/>
<path id="k140" d="M62.9,256.2 65.3,257.3 69.4,255.6 73.8,253.0 72.0,251.1 71.2,249.1 67.8,247.1 65.3,247.7 63.1,247.1 61.6,247.2 60.0,247.9 61.9,252.9 62.9,256.2Z"/>
<path id="k141" d="M56.1,285.4 59.6,285.0 62.6,285.4 66.9,286.3 68.5,282.5 69.0,277.9 65.5,275.9 62.6,272.2 57.1,273.1 55.9,277.8 56.4,280.8 56.1,285.4Z"/>
<path id="k142" d="M100.8,275.6 101.9,271.1 101.8,266.1 101.3,266.5 98.8,266.2 97.3,265.9 94.2,265.7 91.9,266.5 90.2,266.1 87.8,269.3 88.3,272.4 92.6,275.8 95.4,278.9 100.8,275.6Z"/>
<path id="k143" d="M77.9,266.2 81.7,266.5 84.6,267.9 87.8,269.3 90.2,266.1 89.3,265.9 87.9,265.2 85.9,261.9 84.0,260.2 83.2,258.5 79.9,257.2 79.3,256.9 78.8,260.8 77.9,266.2Z"/>
<path id="k144" d="M54.4,271.1 51.0,272.5 47.3,271.9 43.7,272.7 44.5,273.8 45.8,275.2 47.8,277.6 48.4,279.3 49.8,281.0 50.7,282.3 51.8,284.6 52.5,287.6 53.0,288.4 56.1,285.4 56.4,280.8 55.9,277.8 57.1,273.1 54.4,271.1Z"/>
<path id="k145" d="M54.2,261.2 57.2,258.9 60.1,258.4 62.9,256.2 61.9,252.9 60.0,247.9 59.1,248.2 57.1,247.8 53.8,247.4 53.1,247.3 51.4,250.0 48.3,253.3 46.3,255.7 46.4,256.5 50.5,259.5 54.2,261.2Z"/>
<path id="k146" d="M62.6,272.2 65.5,269.8 68.1,265.0 66.9,260.4 65.3,257.3 62.9,256.2 60.1,258.4 57.2,258.9 54.2,261.2 53.9,264.7 53.5,267.9 54.4,271.1 57.1,273.1 62.6,272.2Z"/>
<path id="k147" d="M79.3,256.9 76.5,255.8 73.9,253.2 73.8,253.0 69.4,255.6 65.3,257.3 66.9,260.4 68.1,265.0 72.8,266.5 76.2,267.0 77.9,266.2 78.8,260.8 79.3,256.9Z"/>
<path id="k148" d="M68.2,299.0 69.2,294.9 70.4,290.4 66.9,286.3 62.6,285.4 59.6,285.0 56.1,285.4 53.0,288.4 53.8,290.0 54.9,291.4 55.1,294.0 55.6,295.9 58.4,297.0 61.4,297.4 64.4,297.7 68.2,299.0Z"/>
<path id="k149" d="M99.5,288.0 97.7,291.0 98.0,291.4 100.0,294.7 100.0,297.4 100.3,297.5 102.0,295.3 103.3,294.1 105.3,292.0 106.0,290.1 106.0,288.8 102.4,289.3 99.5,288.0Z"/>
<path id="k150" d="M46.4,256.5 46.3,255.7 43.3,252.9 40.4,249.6 39.1,249.8 38.1,251.4 37.0,253.8 36.8,256.2 37.7,259.2 37.2,261.9 36.4,263.9 37.8,265.4 40.0,263.1 43.4,258.3 46.4,256.5Z"/>
<path id="k151" d="M99.5,288.0 97.1,285.4 95.1,282.0 91.8,283.5 89.9,285.6 86.3,287.3 83.2,288.9 85.4,294.5 85.9,294.1 89.3,292.7 90.8,292.4 93.3,290.7 96.0,288.7 97.7,291.0 99.5,288.0Z"/>
<path id="k152" d="M68.2,299.0 64.4,297.7 61.4,297.4 58.4,297.0 55.6,295.9 55.8,296.6 56.5,298.0 57.8,298.7 57.1,301.2 57.1,302.8 56.5,304.4 57.8,304.1 61.1,303.4 63.4,302.5 65.2,302.8 67.4,302.5 69.3,301.8 68.2,299.0Z"/>
<path id="k153" d="M74.8,276.4 69.0,277.9 68.5,282.5 66.9,286.3 70.4,290.4 74.2,289.8 77.7,287.8 81.2,287.5 80.3,283.9 80.2,280.6 76.6,278.6 74.8,276.4Z"/>
<path id="k154" d="M100.8,275.6 104.6,276.3 108.5,278.2 108.7,277.9 108.5,274.8 108.0,272.6 106.8,269.9 105.3,268.6 104.5,266.0 104.0,264.5 101.8,266.1 101.9,271.1 100.8,275.6Z"/>
<path id="k155" d="M46.3,255.7 48.3,253.3 51.4,250.0 53.1,247.3 51.8,247.1 50.3,246.0 47.1,245.1 44.8,246.9 43.1,247.1 40.9,249.5 40.4,249.6 43.3,252.9 46.3,255.7Z"/>
<path id="k156" d="M87.9,252.2 86.9,255.7 86.8,258.1 85.5,261.5 85.9,261.9 87.9,265.2 89.3,265.9 91.9,266.5 94.2,265.7 97.3,265.9 97.5,265.9 99.8,262.3 100.8,259.1 102.2,255.5 99.7,250.9 98.3,248.1 95.7,249.7 91.9,250.2 87.9,252.2Z"/>
<path id="k157" d="M68.3,236.9 68.4,234.6 64.4,231.3 61.5,228.7 61.1,229.1 59.5,229.6 57.1,229.7 53.8,227.7 51.1,229.1 49.8,230.6 50.4,234.0 51.7,236.6 51.6,241.4 52.6,244.6 53.4,247.4 53.8,247.4 57.1,247.8 59.0,248.2 61.4,246.0 63.6,242.4 65.8,239.7 68.3,236.9Z"/>
<path id="k158" d="M110.4,239.9 112.8,237.3 113.9,235.1 116.4,231.4 118.5,229.4 120.8,226.5 116.8,222.2 110.8,221.3 108.2,223.7 104.8,227.0 102.6,229.0 103.8,231.5 105.0,235.6 106.5,239.3 110.4,239.9Z"/>
<path id="k159" d="M110.7,201.7 107.8,200.7 103.7,200.5 100.7,202.2 98.0,203.6 94.4,206.8 92.0,207.9 90.5,211.6 90.7,212.5 93.8,215.5 97.8,214.7 101.9,214.5 106.2,214.9 107.2,212.0 109.2,208.5 109.8,204.7 110.7,201.7Z"/>
<path id="k160" d="M103.7,200.5 102.4,197.7 100.8,195.2 98.1,192.3 97.2,193.3 95.6,195.1 93.2,197.3 91.4,197.8 88.7,198.2 89.5,202.1 90.9,204.5 92.0,207.9 94.4,206.8 98.0,203.6 100.7,202.2 103.7,200.5Z"/>
<path id="k161" d="M79.1,228.3 75.6,230.0 72.2,232.8 68.4,234.6 68.3,236.9 70.3,239.4 73.9,242.3 76.7,245.8 82.2,245.3 83.7,240.9 86.3,239.6 87.8,235.4 87.4,233.7 84.2,232.4 82.1,230.7 79.1,228.3Z"/>
<path id="k162" d="M90.7,212.5 90.5,211.6 86.6,211.1 82.2,209.5 78.9,207.7 76.6,210.1 73.8,213.3 70.9,215.1 73.9,217.1 76.2,222.2 79.1,224.2 81.9,221.2 83.5,218.6 86.0,216.6 88.2,214.5 90.7,212.5Z"/>
<path id="k163" d="M98.3,248.1 99.7,250.9 102.2,255.5 107.1,255.3 111.7,256.1 113.6,252.4 114.7,248.5 115.0,244.7 113.1,242.6 110.4,239.9 106.5,239.3 102.4,242.7 99.4,244.2 98.3,248.1Z"/>
<path id="k164" d="M82.2,245.3 76.7,245.8 74.9,249.6 73.4,252.7 73.9,253.2 76.5,255.8 79.9,257.2 83.2,258.5 84.0,260.2 85.5,261.5 86.8,258.1 86.9,255.7 87.9,252.2 84.9,247.5 82.2,245.3Z"/>
<path id="k165" d="M115.7,261.4 117.4,261.2 118.4,259.5 117.8,259.2 118.4,255.8 118.4,255.8 118.4,255.8 121.1,253.2 123.1,251.9 124.5,250.5 126.0,248.7 126.5,246.5 126.7,245.7 122.0,244.5 119.6,245.9 115.0,244.7 114.7,248.5 113.6,252.4 111.7,256.1 113.9,257.9 115.7,261.4Z"/>
<path id="k166" d="M124.7,227.4 127.5,223.7 129.4,220.4 131.1,218.4 133.0,214.8 130.5,212.4 130.6,211.8 127.3,210.8 123.7,209.3 121.0,208.0 119.4,210.9 119.4,214.9 118.4,218.6 116.8,222.2 120.8,226.5 124.7,227.4Z"/>
<path id="k167" d="M124.7,227.4 120.8,226.5 118.5,229.4 116.4,231.4 113.9,235.1 112.8,237.3 110.4,239.9 113.1,242.6 115.0,244.7 119.6,245.9 122.0,244.5 126.7,245.7 127.3,244.1 127.1,241.8 127.6,239.8 127.8,237.1 130.5,234.4 131.2,234.0 128.5,230.0 124.7,227.4Z"/>
<path id="k168" d="M97.5,265.9 98.8,266.2 101.3,266.5 104.0,264.5 106.7,262.5 109.7,262.1 112.0,261.9 115.3,261.5 115.7,261.4 113.9,257.9 111.7,256.1 107.1,255.3 102.2,255.5 100.8,259.1 99.8,262.3 97.5,265.9Z"/>
<path id="k169" d="M121.0,208.0 123.7,209.3 127.3,210.8 130.6,211.8 130.8,210.9 131.1,208.3 132.7,208.2 135.2,207.0 138.5,205.7 137.3,203.9 135.8,201.7 132.5,200.3 130.9,200.5 128.5,201.7 126.4,201.6 123.8,202.3 120.4,203.7 119.0,204.2 121.0,208.0Z"/>
<path id="k170" d="M96.1,226.6 94.5,222.3 94.1,219.9 93.8,215.5 90.7,212.5 88.2,214.5 86.0,216.6 83.5,218.6 81.9,221.2 79.1,224.2 79.1,228.3 82.1,230.7 84.2,232.4 87.4,233.7 90.7,230.6 93.3,229.4 96.1,226.6Z"/>
<path id="k171" d="M49.8,230.6 49.3,231.1 47.1,231.7 45.4,233.9 43.7,235.1 43.1,237.0 43.1,239.1 44.3,240.4 45.1,243.1 47.1,245.1 50.3,246.0 51.8,247.1 53.4,247.4 52.6,244.6 51.6,241.4 51.7,236.6 50.4,234.0 49.8,230.6Z"/>
<path id="k172" d="M70.9,215.1 68.9,214.9 69.1,216.3 68.5,215.0 68.1,217.4 67.8,219.0 66.7,221.1 67.2,223.0 65.2,226.4 63.0,227.1 61.5,228.7 64.4,231.3 68.4,234.6 72.2,232.8 75.6,230.0 79.1,228.3 79.1,224.2 76.2,222.2 73.9,217.1 70.9,215.1Z"/>
<path id="k173" d="M124.7,227.4 128.5,230.0 131.2,234.0 133.8,232.4 135.4,230.6 136.5,228.4 135.5,226.4 135.8,224.4 134.9,223.0 133.8,220.3 134.1,218.2 133.2,215.0 133.0,214.8 131.1,218.4 129.4,220.4 127.5,223.7 124.7,227.4Z"/>
<path id="k174" d="M87.8,235.4 86.3,239.6 83.7,240.9 82.2,245.3 84.9,247.5 87.9,252.2 91.9,250.2 95.7,249.7 98.3,248.1 99.4,244.2 96.7,241.5 93.8,240.4 90.3,237.0 87.8,235.4Z"/>
<path id="k175" d="M59.0,248.2 59.1,248.2 61.6,247.2 63.1,247.1 65.3,247.7 67.8,247.1 71.2,249.1 72.0,251.1 73.4,252.7 74.9,249.6 76.7,245.8 73.9,242.3 70.3,239.4 68.3,236.9 65.8,239.7 63.6,242.4 61.4,246.0 59.0,248.2Z"/>
<path id="k176" d="M78.9,207.7 82.2,209.5 86.6,211.1 90.5,211.6 92.0,207.9 90.9,204.5 89.5,202.1 88.7,198.2 88.1,198.3 86.1,198.3 84.1,200.3 82.1,200.3 80.8,201.7 78.5,202.1 77.1,202.8 78.9,207.7Z"/>
<path id="k177" d="M106.5,239.3 105.0,235.6 103.8,231.5 102.6,229.0 99.0,227.5 96.1,226.6 93.3,229.4 90.7,230.6 87.4,233.7 87.8,235.4 90.3,237.0 93.8,240.4 96.7,241.5 99.4,244.2 102.4,242.7 106.5,239.3Z"/>
<path id="k178" d="M103.7,200.5 107.8,200.7 110.7,201.7 111.9,201.3 109.7,200.3 107.8,200.3 105.7,199.0 105.5,197.3 104.4,195.0 106.4,193.0 103.7,190.3 102.4,189.6 100.6,191.6 99.0,191.4 98.1,192.3 100.8,195.2 102.4,197.7 103.7,200.5Z"/>
<path id="k179" d="M121.0,208.0 119.0,204.2 117.1,205.0 115.6,204.1 113.7,202.3 112.0,201.4 111.9,201.3 110.7,201.7 109.8,204.7 109.2,208.5 107.2,212.0 106.2,214.9 107.7,218.5 110.8,221.3 116.8,222.2 118.4,218.6 119.4,214.9 119.4,210.9 121.0,208.0Z"/>
<path id="k180" d="M106.2,214.9 101.9,214.5 97.8,214.7 93.8,215.5 94.1,219.9 94.5,222.3 96.1,226.6 99.0,227.5 102.6,229.0 104.8,227.0 108.2,223.7 110.8,221.3 107.7,218.5 106.2,214.9Z"/>
<path id="k181" d="M70.9,215.1 73.8,213.3 76.6,210.1 78.9,207.7 77.1,202.8 76.1,203.3 73.4,203.2 71.1,204.3 71.2,206.0 70.9,207.9 70.1,210.3 70.1,212.9 68.8,214.1 68.9,214.9 70.9,215.1Z"/>
<path id="k182" d="M132.2,162.4 131.9,157.3 132.9,153.6 133.3,150.2 130.5,146.5 128.5,147.4 126.6,149.1 123.8,150.1 120.7,152.0 119.1,153.2 116.8,154.9 114.4,156.1 114.2,158.1 112.8,160.2 113.2,162.4 115.1,165.5 116.0,167.4 117.3,169.5 120.8,167.7 124.4,167.1 127.1,165.8 129.0,164.3 132.2,162.4Z"/>
<path id="k183" d="M133.3,150.2 136.5,150.4 141.6,152.7 144.9,153.4 148.3,154.1 150.5,151.2 152.5,148.5 155.2,144.7 153.9,142.8 151.9,142.1 150.6,140.6 148.6,138.1 146.4,135.8 145.2,134.1 143.2,130.7 141.2,133.4 137.8,134.7 135.9,136.4 135.2,138.1 136.5,139.9 136.5,142.1 133.8,144.8 131.8,145.8 130.5,146.5 133.3,150.2Z"/>
<path id="k184" d="M150.1,161.4 148.9,157.4 148.3,154.1 144.9,153.4 141.6,152.7 136.5,150.4 133.3,150.2 132.9,153.6 131.9,157.3 132.2,162.4 135.7,164.9 138.2,168.4 141.2,170.8 143.4,168.6 145.5,165.3 147.8,163.5 150.1,161.4Z"/>
<path id="k185" d="M148.3,154.1 148.9,157.4 150.1,161.4 153.1,163.3 157.5,164.4 160.8,161.5 164.0,161.0 167.3,158.4 167.0,157.7 167.3,155.5 168.5,154.1 170.0,152.1 171.1,151.1 172.6,148.8 175.3,146.8 173.2,146.3 171.0,147.2 169.4,147.0 167.3,146.8 164.5,146.3 162.7,146.5 160.6,146.1 158.5,145.8 155.2,144.8 155.2,144.7 152.5,148.5 150.5,151.2 148.3,154.1Z"/>
<path id="k186" d="M157.5,164.4 158.5,167.4 158.9,170.9 159.4,173.4 161.0,176.9 161.9,176.9 164.9,176.9 166.6,176.2 168.0,172.9 170.6,170.9 172.6,169.3 173.7,167.5 171.3,164.8 169.1,162.9 168.0,160.2 167.3,158.4 164.0,161.0 160.8,161.5 157.5,164.4Z"/>
<path id="k187" d="M141.2,170.8 138.2,168.4 135.7,164.9 132.2,162.4 129.0,164.3 127.1,165.8 124.4,167.1 120.8,167.7 117.3,169.5 117.8,170.2 118.8,171.9 119.9,173.5 124.6,173.6 127.7,173.0 132.1,173.9 134.9,174.0 139.0,174.5 139.3,174.3 141.1,171.6 141.2,170.8Z"/>
<path id="k188" d="M157.5,164.4 153.1,163.3 150.1,161.4 147.8,163.5 145.5,165.3 143.4,168.6 141.2,170.8 141.1,171.6 145.4,173.3 147.8,176.1 151.9,177.9 154.8,179.4 156.2,179.2 157.9,177.8 159.5,176.9 161.0,176.9 159.4,173.4 158.9,170.9 158.5,167.4 157.5,164.4Z"/>
<path id="k189" d="M119.9,173.5 118.8,171.9 119.8,173.6 118.1,174.7 116.4,176.9 114.6,178.7 112.4,179.6 110.8,181.4 108.4,182.2 106.0,184.0 105.0,185.6 103.0,187.8 102.4,189.6 103.7,190.3 105.2,191.7 109.2,191.3 113.3,189.3 116.2,189.1 120.2,187.0 120.9,181.7 121.2,178.5 119.9,173.5Z"/>
<path id="k190" d="M133.2,182.1 135.9,179.8 136.5,176.9 139.0,174.5 134.9,174.0 132.1,173.9 127.7,173.0 124.6,173.6 119.9,173.5 121.2,178.5 124.7,179.5 128.5,180.4 133.2,182.1Z"/>
<path id="k191" d="M141.1,171.6 139.3,174.3 140.6,177.8 142.3,182.4 143.2,185.7 144.7,188.9 146.7,186.9 149.9,184.7 153.0,183.1 151.9,181.6 153.9,179.6 154.8,179.4 151.9,177.9 147.8,176.1 145.4,173.3 141.1,171.6Z"/>
<path id="k192" d="M141.3,190.5 144.3,189.8 144.7,188.9 143.2,185.7 142.3,182.4 140.6,177.8 139.3,174.3 139.0,174.5 136.5,176.9 135.9,179.8 133.2,182.1 133.2,184.9 135.7,186.6 138.2,189.3 141.3,190.5Z"/>
<path id="k193" d="M133.2,184.9 133.2,182.1 128.5,180.4 124.7,179.5 121.2,178.5 120.9,181.7 120.2,187.0 123.2,189.3 125.6,192.5 128.0,191.1 130.8,188.4 133.2,184.9Z"/>
<path id="k194" d="M141.3,190.5 138.2,189.3 135.7,186.6 133.2,184.9 130.8,188.4 128.0,191.1 125.6,192.5 126.9,198.0 128.4,201.7 128.5,201.7 129.6,201.1 131.9,198.7 136.3,195.5 137.9,193.4 141.3,190.5Z"/>
<path id="k195" d="M120.2,187.0 116.2,189.1 113.3,189.3 109.2,191.3 105.2,191.7 106.4,193.0 104.4,195.0 105.5,197.3 105.7,199.0 107.8,200.3 109.7,200.3 112.0,201.4 113.7,202.3 115.6,204.1 117.1,205.0 120.4,203.7 123.8,202.3 126.4,201.6 128.4,201.7 126.9,198.0 125.6,192.5 123.2,189.3 120.2,187.0Z"/>
<path id="k196" d="M144.3,189.8 141.3,190.5 137.9,193.4 136.3,195.5 131.9,198.7 129.6,201.1 130.9,200.5 132.5,200.3 135.8,201.7 137.3,203.9 138.5,205.7 141.2,203.7 143.2,201.8 145.2,201.0 147.9,199.5 149.9,199.0 150.4,198.8 149.5,196.0 146.4,192.5 144.3,189.8Z"/>
<path id="k197" d="M144.7,188.9 144.3,189.8 146.4,192.5 149.5,196.0 150.4,198.8 151.5,198.5 154.6,197.6 155.9,197.1 155.9,197.0 157.9,196.3 158.8,193.7 158.6,190.9 157.3,189.6 156.6,186.9 153.9,184.3 153.0,183.1 149.9,184.7 146.7,186.9 144.7,188.9Z"/>
<path id="k198" d="M159.0,187.1 161.9,189.4 165.9,191.1 165.9,190.9 166.3,188.9 167.3,186.3 166.0,183.5 165.9,181.6 165.5,179.5 166.6,176.2 164.9,176.9 161.9,176.9 160.9,176.9 161.1,179.8 159.4,184.2 159.0,187.1Z"/>
<path id="k199" d="M159.0,187.1 156.8,188.0 157.3,189.6 158.6,190.9 158.8,193.7 157.9,196.3 159.9,196.7 161.9,197.0 164.0,196.4 165.9,196.3 165.5,192.9 165.9,191.1 161.9,189.4 159.0,187.1Z"/>
<path id="k200" d="M160.9,176.9 159.5,176.9 157.9,177.8 156.2,179.2 153.9,179.6 151.9,181.6 153.9,184.3 156.6,186.9 156.8,188.0 159.0,187.1 159.4,184.2 161.1,179.8 160.9,176.9Z"/>
<path id="k201" d="M150.5,216.5 146.7,215.2 144.2,216.9 141.1,218.5 137.0,219.5 134.2,221.2 137.1,223.9 139.9,227.3 142.8,228.8 145.8,227.6 149.5,226.7 150.3,223.6 149.3,220.5 150.5,216.5Z"/>
<path id="k202" d="M156.1,214.2 155.9,213.9 155.9,211.0 156.0,207.6 156.6,205.7 156.5,205.3 153.2,202.4 150.6,202.1 147.4,199.8 145.2,201.0 143.2,201.8 141.2,203.7 140.9,203.9 142.4,208.1 144.2,211.9 146.7,215.2 150.5,216.5 156.1,214.2Z"/>
<path id="k203" d="M141.2,241.9 141.6,242.8 141.8,244.4 142.4,246.5 143.9,248.5 145.9,251.8 149.2,252.5 151.2,249.1 153.2,246.5 153.9,243.1 153.4,240.9 149.6,241.3 146.0,241.9 141.2,241.9Z"/>
<path id="k204" d="M149.5,226.7 145.8,227.6 142.8,228.8 141.6,231.8 140.4,237.0 140.1,240.0 140.5,240.4 141.2,241.9 146.0,241.9 149.6,241.3 153.4,240.9 153.3,240.6 152.6,239.1 153.1,237.1 153.2,235.1 152.6,232.6 152.6,231.1 153.2,229.9 149.5,226.7Z"/>
<path id="k205" d="M134.2,221.2 137.0,219.5 141.1,218.5 144.2,216.9 146.7,215.2 144.2,211.9 142.4,208.1 140.9,203.9 138.5,205.7 135.2,207.0 132.7,208.2 131.1,208.3 130.8,210.9 130.5,212.4 133.2,215.0 134.1,218.2 133.8,220.3 134.2,221.2 134.2,221.2Z"/>
<path id="k206" d="M150.5,216.5 149.3,220.5 150.3,223.6 149.5,226.7 153.2,229.9 153.9,228.4 155.9,225.0 157.9,222.4 158.6,219.0 157.9,217.4 157.9,215.0 157.2,216.4 156.1,214.2 150.5,216.5Z"/>
<path id="k207" d="M134.2,221.2 134.2,221.2 134.9,223.0 135.8,224.4 135.5,226.4 136.5,228.4 135.4,230.6 133.8,232.4 135.2,235.1 137.8,237.8 140.1,240.0 140.4,237.0 141.6,231.8 142.8,228.8 139.9,227.3 137.1,223.9 134.2,221.2Z"/>
<path id="k208" d="M156.5,205.3 156.2,203.1 155.2,200.3 155.9,197.1 154.6,197.6 151.5,198.5 149.9,199.0 147.9,199.5 147.4,199.8 150.6,202.1 153.2,202.4 156.5,205.3Z"/>
<path id="k209" d="M184.8,209.7 188.8,209.0 193.5,208.3 193.9,206.3 188.8,205.9 184.1,207.0 182.1,209.0 184.8,209.7Z"/>
<g id="cl" fill="none" stroke="#7a6f6a" stroke-opacity="0.7" stroke-width="0.4" stroke-linejoin="round"><use href="#k0"/><use href="#k1"/><use href="#k2"/><use href="#k3"/><use href="#k4"/><use href="#k5"/><use href="#k6"/><use href="#k7"/><use href="#k8"/><use href="#k9"/><use href="#k10"/><use href="#k11"/><use href="#k12"/><use href="#k13"/><use href="#k14"/><use href="#k15"/><use href="#k16"/><use href="#k17"/><use href="#k18"/><use href="#k19"/><use href="#k20"/><use href="#k21"/><use href="#k22"/><use href="#k23"/><use href="#k24"/><use href="#k25"/><use href="#k26"/><use href="#k27"/><use href="#k28"/><use href="#k29"/><use href="#k30"/><use href="#k31"/><use href="#k32"/><use href="#k33"/><use href="#k34"/><use href="#k35"/><use href="#k36"/><use href="#k37"/><use href="#k38"/><use href="#k39"/><use href="#k40"/><use href="#k41"/><use href="#k42"/><use href="#k43"/><use href="#k44"/><use href="#k45"/><use href="#k46"/><use href="#k47"/><use href="#k48"/><use href="#k49"/><use href="#k50"/><use href="#k51"/><use href="#k52"/><use href="#k53"/><use href="#k54"/><use href="#k55"/><use href="#k56"/><use href="#k57"/><use href="#k58"/><use href="#k59"/><use href="#k60"/><use href="#k61"/><use href="#k62"/><use href="#k63"/><use href="#k64"/><use href="#k65"/><use href="#k66"/><use href="#k67"/><use href="#k68"/><use href="#k69"/><use href="#k70"/><use href="#k71"/><use href="#k72"/><use href="#k73"/><use href="#k74"/><use href="#k75"/><use href="#k76"/><use href="#k77"/><use href="#k78"/><use href="#k79"/><use href="#k80"/><use href="#k81"/><use href="#k82"/><use href="#k83"/><use href="#k84"/><use href="#k85"/><use href="#k86"/><use href="#k87"/><use href="#k88"/><use href="#k89"/><use href="#k90"/><use href="#k91"/><use href="#k92"/><use href="#k93"/><use href="#k94"/><use href="#k95"/><use href="#k96"/><use href="#k97"/><use href="#k98"/><use href="#k99"/><use href="#k100"/><use href="#k101"/><use href="#k102"/><use href="#k103"/><use href="#k104"/><use href="#k105"/><use href="#k106"/><use href="#k107"/><use href="#k108"/><use href="#k109"/><use href="#k110"/><use href="#k111"/><use href="#k112"/><use href="#k113"/><use href="#k114"/><use href="#k115"/><use href="#k116"/><use href="#k117"/><use href="#k118"/><use href="#k119"/><use href="#k120"/><use href="#k121"/><use href="#k122"/><use href="#k123"/><use href="#k124"/><use href="#k125"/><use href="#k126"/><use href="#k127"/><use href="#k128"/><use href="#k129"/><use href="#k130"/><use href="#k131"/><use href="#k132"/><use href="#k133"/><use href="#k134"/><use href="#k135"/><use href="#k136"/><use href="#k137"/><use href="#k138"/><use href="#k139"/><use href="#k140"/><use href="#k141"/><use href="#k142"/><use href="#k143"/><use href="#k144"/><use href="#k145"/><use href="#k146"/><use href="#k147"/><use href="#k148"/><use href="#k149"/><use href="#k150"/><use href="#k151"/><use href="#k152"/><use href="#k153"/><use href="#k154"/><use href="#k155"/><use href="#k156"/><use href="#k157"/><use href="#k158"/><use href="#k159"/><use href="#k160"/><use href="#k161"/><use href="#k162"/><use href="#k163"/><use href="#k164"/><use href="#k165"/><use href="#k166"/><use href="#k167"/><use href="#k168"/><use href="#k169"/><use href="#k170"/><use href="#k171"/><use href="#k172"/><use href="#k173"/><use href="#k174"/><use href="#k175"/><use href="#k176"/><use href="#k177"/><use href="#k178"/><use href="#k179"/><use href="#k180"/><use href="#k181"/><use href="#k182"/><use href="#k183"/><use href="#k184"/><use href="#k185"/><use href="#k186"/><use href="#k187"/><use href="#k188"/><use href="#k189"/><use href="#k190"/><use href="#k191"/><use href="#k192"/><use href="#k193"/><use href="#k194"/><use href="#k195"/><use href="#k196"/><use href="#k197"/><use href="#k198"/><use href="#k199"/><use href="#k200"/><use href="#k201"/><use href="#k202"/><use href="#k203"/><use href="#k204"/><use href="#k205"/><use href="#k206"/><use href="#k207"/><use href="#k208"/><use href="#k209"/></g>
<path id="ob" d="M64.1,84.1 65.8,83.4 68.1,83.1 70.3,83.3 72.6,81.7 75.1,82.1 77.0,83.8 78.1,86.1 79.2,88.6 79.5,90.6 79.5,93.1 78.3,95.4 78.2,98.0 78.1,100.1 78.7,102.2 77.4,103.7 77.9,105.9 78.1,108.1 79.6,107.5 82.2,108.2 83.7,108.0 86.1,108.1 89.2,108.4 91.4,107.2 93.2,107.1 93.4,105.2 94.2,103.1 97.2,101.8 99.2,100.1 101.2,98.7 102.6,97.2 104.6,95.5 106.2,95.1 107.2,93.9 109.2,92.4 111.2,91.9 113.2,90.1 115.6,92.2 116.2,94.1 117.8,96.6 119.2,99.1 117.2,102.5 117.3,100.5 118.3,98.5 120.2,96.1 121.5,94.7 121.9,92.4 123.2,90.1 124.9,88.1 127.2,87.1 129.3,86.5 132.2,86.1 133.7,86.7 136.2,87.1 138.8,86.9 140.2,86.1 142.7,85.2 145.2,85.1 148.3,83.1 147.0,80.4 146.2,78.1 145.2,75.0 148.3,73.0 149.4,70.0 149.3,68.0 150.2,65.8 151.3,63.0 152.8,62.0 155.6,62.6 158.3,61.0 161.1,60.4 163.0,59.7 165.3,60.0 165.5,58.1 167.3,56.0 169.6,55.7 172.3,54.0 174.2,54.3 176.6,53.6 178.3,53.0 179.9,55.3 182.2,56.0 183.3,58.0 185.1,59.9 186.3,62.0 186.8,64.0 187.6,66.0 189.3,68.0 189.8,69.7 190.3,72.0 192.3,74.8 194.3,76.0 196.0,76.5 198.4,77.0 198.2,78.8 197.3,81.1 196.5,83.3 196.3,86.1 196.5,88.0 198.4,90.1 199.6,91.9 201.4,93.1 200.0,95.4 199.2,97.1 199.9,100.2 201.2,102.1 201.8,104.1 203.2,107.1 204.1,109.1 204.2,112.1 206.3,111.4 208.2,111.1 209.9,110.8 212.8,111.8 214.2,112.1 216.5,110.8 219.2,110.1 220.8,110.7 223.8,110.4 225.2,111.1 228.4,110.9 230.2,111.1 233.2,110.5 235.2,110.1 235.0,112.5 235.2,114.1 233.2,116.4 231.2,118.1 230.8,120.7 230.2,122.1 227.2,124.2 228.2,126.4 228.2,128.2 227.5,130.1 225.2,132.2 225.8,134.9 226.2,137.2 229.0,138.7 230.2,140.2 232.3,140.8 235.6,141.4 236.3,143.4 238.0,144.1 240.3,145.4 242.6,145.8 245.7,146.1 247.1,146.0 249.7,145.4 251.7,147.4 252.1,149.8 252.4,152.1 253.1,153.9 254.4,156.8 256.6,158.6 257.1,160.2 257.9,162.7 259.7,164.2 261.0,165.7 262.4,168.2 264.4,170.9 261.7,172.9 258.4,174.9 257.4,176.7 255.1,177.6 252.4,180.2 251.2,182.0 249.7,183.6 249.3,186.4 247.7,188.3 247.5,190.8 246.3,193.0 246.0,195.5 245.7,197.0 246.3,200.3 245.2,202.6 243.7,203.7 242.9,205.8 240.3,207.7 239.5,209.6 237.0,211.0 236.0,212.3 233.6,213.7 230.9,215.7 228.3,217.1 225.6,216.4 222.2,217.1 220.2,219.7 220.9,222.4 218.9,225.8 217.6,227.1 214.9,225.1 211.5,223.1 208.2,221.1 205.5,218.4 202.8,215.7 200.8,213.0 199.5,211.0 198.8,212.4 198.8,214.6 197.5,216.4 197.4,218.9 196.1,221.7 196.4,224.0 195.5,225.8 196.8,229.1 196.8,231.8 195.5,234.1 195.2,231.5 196.6,230.3 197.4,228.6 197.5,226.3 197.4,224.3 198.2,222.0 197.4,224.5 196.0,226.3 196.2,228.0 195.2,230.0 193.6,230.8 192.2,233.1 192.7,235.6 193.2,238.1 190.2,240.1 189.8,243.0 189.2,245.1 188.7,247.1 189.2,249.1 190.5,250.0 192.2,252.1 194.5,252.1 197.2,253.1 199.6,252.9 201.2,254.1 201.3,256.5 200.2,258.1 198.6,259.4 197.2,262.1 195.1,264.1 194.2,266.1 191.5,268.6 190.2,270.1 188.5,271.4 187.2,273.1 184.0,274.2 182.1,275.1 180.4,276.2 178.5,277.8 176.1,278.1 174.0,279.1 172.2,280.8 170.1,281.1 168.7,281.8 165.8,282.3 164.1,283.1 162.0,284.6 159.1,285.1 157.5,286.5 156.1,289.2 153.8,290.9 153.1,293.2 151.2,295.8 149.1,297.2 147.2,298.2 145.1,299.2 143.1,298.2 143.9,296.7 142.7,299.2 141.8,300.7 140.5,302.6 139.8,304.7 138.0,306.0 136.5,307.4 133.8,308.7 131.6,310.2 130.5,311.4 129.8,313.6 128.5,315.4 126.7,318.3 126.5,320.8 125.9,323.1 124.9,324.4 123.9,326.4 123.8,329.1 124.4,327.1 124.4,324.5 124.8,322.6 125.4,320.2 125.4,322.3 124.7,324.9 124.6,326.4 124.1,328.9 122.9,330.1 122.0,332.9 119.8,334.0 118.7,335.6 116.8,335.8 114.7,336.2 112.7,338.2 110.7,341.6 108.7,344.9 107.6,346.7 106.7,348.9 107.3,352.3 109.3,355.6 111.3,359.0 113.3,362.3 112.5,364.4 112.0,366.4 110.0,369.0 108.0,367.0 104.7,365.0 101.3,365.7 98.0,367.0 96.0,369.7 93.3,371.7 92.3,369.9 90.6,368.4 88.4,367.8 86.6,367.0 83.9,367.1 82.6,367.7 79.2,369.0 76.9,368.1 75.2,367.0 72.9,366.0 71.2,365.7 69.5,365.1 67.2,365.0 63.8,363.7 60.5,362.3 58.0,360.9 56.5,361.0 53.8,359.0 50.4,359.6 48.2,358.3 46.4,358.3 43.7,356.3 41.7,353.6 40.0,351.9 39.1,350.3 38.6,348.8 37.7,346.3 35.7,342.9 36.5,340.7 38.4,339.6 40.4,336.2 43.7,334.9 45.1,331.5 46.7,330.5 48.4,328.9 46.4,326.2 47.1,322.8 47.4,321.2 49.1,318.8 50.5,316.3 51.1,314.8 52.1,313.1 53.1,310.8 53.9,308.6 55.1,306.8 56.2,304.9 57.1,302.8 57.1,301.2 57.8,298.7 56.5,298.0 55.8,296.6 55.1,294.0 54.9,291.4 53.8,290.0 52.5,287.6 51.8,284.6 50.7,282.3 49.8,281.0 48.4,279.3 47.8,277.6 45.8,275.2 44.5,273.8 42.4,271.2 40.4,269.0 38.4,267.9 38.3,265.9 36.4,263.9 37.2,261.9 37.7,259.2 36.8,256.2 37.0,253.8 38.1,251.4 39.1,249.8 40.9,249.5 43.1,247.1 44.8,246.9 47.1,245.1 45.1,243.1 44.3,240.4 43.1,239.1 43.1,237.0 43.7,235.1 45.4,233.9 47.1,231.7 49.3,231.1 51.1,229.1 53.8,227.7 57.1,229.7 59.5,229.6 61.1,229.1 63.0,227.1 65.2,226.4 67.2,223.0 66.7,221.1 67.8,219.0 68.1,217.4 68.5,215.0 69.1,216.3 68.8,214.1 70.1,212.9 70.1,210.3 70.9,207.9 71.2,206.0 71.1,204.3 69.0,202.3 67.1,201.3 66.1,199.6 65.1,196.3 64.9,193.9 63.1,191.3 60.1,189.3 59.0,187.1 57.1,186.3 55.0,185.2 52.9,185.2 51.1,185.3 49.0,185.3 47.0,184.3 48.5,182.1 50.4,181.8 52.1,179.3 53.0,177.0 54.1,175.2 56.1,173.9 58.1,173.2 60.3,173.1 63.1,171.2 65.4,169.4 68.1,168.2 65.9,168.3 63.1,168.2 60.1,166.2 59.2,163.9 60.2,162.1 59.1,160.2 57.7,158.2 57.9,156.7 57.1,154.2 55.8,152.7 54.6,151.1 54.1,148.2 53.0,145.8 50.8,144.9 50.1,143.2 49.2,141.3 46.5,138.6 45.0,137.2 42.7,135.5 41.0,133.2 42.1,131.4 44.0,130.2 44.8,128.8 45.0,126.2 44.2,123.3 44.0,121.1 44.2,119.1 43.0,116.1 45.2,115.2 48.1,114.1 50.9,113.2 53.1,113.1 55.1,110.1 54.4,107.7 54.0,105.0 54.5,103.1 56.1,100.1 56.1,98.1 57.6,95.6 59.1,93.1 61.2,91.5 63.1,89.1 63.1,87.2Z"/>
</defs>
<g id="panel1">
<clipPath id="c0"><rect x="12.0" y="16.4" width="276.0" height="391.9"/></clipPath>
<rect x="12.0" y="16.4" width="276.0" height="391.9" fill="#fff"/>
<g transform="translate(0.00,0.00)">
<use href="#ob" fill="#fc9272"/>
<g fill="#fee5d9" stroke="#fee5d9" stroke-width="0.3"><use href="#k0"/><use href="#k1"/><use href="#k3"/><use href="#k69"/><use href="#k96"/><use href="#k97"/><use href="#k157"/></g>
<g fill="#fcbba1" stroke="#fcbba1" stroke-width="0.3"><use href="#k2"/><use href="#k10"/><use href="#k11"/><use href="#k12"/><use href="#k14"/><use href="#k15"/><use href="#k16"/><use href="#k17"/><use href="#k20"/><use href="#k21"/><use href="#k23"/><use href="#k24"/><use href="#k25"/><use href="#k27"/><use href="#k28"/><use href="#k30"/><use href="#k37"/><use href="#k49"/><use href="#k73"/><use href="#k80"/><use href="#k81"/><use href="#k83"/><use href="#k86"/><use href="#k87"/><use href="#k89"/><use href="#k92"/><use href="#k98"/><use href="#k100"/><use href="#k101"/><use href="#k103"/><use href="#k104"/><use href="#k106"/><use href="#k107"/><use href="#k110"/><use href="#k111"/><use href="#k116"/><use href="#k121"/><use href="#k125"/><use href="#k133"/><use href="#k147"/><use href="#k148"/><use href="#k155"/><use href="#k158"/><use href="#k162"/><use href="#k164"/><use href="#k172"/><use href="#k176"/><use href="#k181"/><use href="#k198"/><use href="#k199"/><use href="#k200"/><use href="#k201"/><use href="#k204"/><use href="#k205"/><use href="#k206"/><use href="#k208"/></g>
<g fill="#fc9272" stroke="#fc9272" stroke-width="0.3"><use href="#k4"/><use href="#k5"/><use href="#k6"/><use href="#k7"/><use href="#k8"/><use href="#k9"/><use href="#k13"/><use href="#k18"/><use href="#k19"/><use href="#k22"/><use href="#k26"/><use href="#k29"/><use href="#k31"/><use href="#k32"/><use href="#k33"/><use href="#k34"/><use href="#k35"/><use href="#k38"/><use href="#k39"/><use href="#k40"/><use href="#k41"/><use href="#k44"/><use href="#k45"/><use href="#k46"/><use href="#k47"/><use href="#k48"/><use href="#k50"/><use href="#k51"/><use href="#k52"/><use href="#k53"/><use href="#k54"/><use href="#k58"/><use href="#k68"/><use href="#k70"/><use href="#k71"/><use href="#k72"/><use href="#k74"/><use href="#k75"/><use href="#k76"/><use href="#k77"/><use href="#k78"/><use href="#k79"/><use href="#k82"/><use href="#k84"/><use href="#k85"/><use href="#k88"/><use href="#k90"/><use href="#k91"/><use href="#k93"/><use href="#k94"/><use href="#k95"/><use href="#k99"/><use href="#k102"/><use href="#k105"/><use href="#k108"/><use href="#k109"/><use href="#k112"/><use href="#k113"/><use href="#k115"/><use href="#k117"/><use href="#k118"/><use href="#k119"/><use href="#k120"/><use href="#k122"/><use href="#k123"/><use href="#k124"/><use href="#k126"/><use href="#k127"/><use href="#k128"/><use href="#k129"/><use href="#k130"/><use href="#k131"/><use href="#k132"/><use href="#k134"/><use href="#k136"/><use href="#k137"/><use href="#k138"/><use href="#k139"/><use href="#k140"/><use href="#k141"/><use href="#k142"/><use href="#k143"/><use href="#k144"/><use href="#k145"/><use href="#k146"/><use href="#k149"/><use href="#k150"/><use href="#k151"/><use href="#k152"/><use href="#k153"/><use href="#k154"/><use href="#k156"/><use href="#k159"/><use href="#k160"/><use href="#k161"/><use href="#k163"/><use href="#k165"/><use href="#k166"/><use href="#k167"/><use href="#k168"/><use href="#k169"/><use href="#k170"/><use href="#k171"/><use href="#k173"/><use href="#k174"/><use href="#k175"/><use href="#k177"/><use href="#k178"/><use href="#k179"/><use href="#k180"/><use href="#k182"/><use href="#k185"/><use href="#k186"/><use href="#k189"/><use href="#k202"/><use href="#k203"/><use href="#k207"/><use href="#k209"/></g>
<g fill="#fb6a4a" stroke="#fb6a4a" stroke-width="0.3"><use href="#k42"/><use href="#k43"/><use href="#k55"/><use href="#k56"/><use href="#k66"/><use href="#k114"/><use href="#k135"/><use href="#k183"/><use href="#k184"/></g>
<g fill="#de2d26" stroke="#de2d26" stroke-width="0.3"><use href="#k36"/><use href="#k57"/></g>
<g fill="#a50f15" stroke="#a50f15" stroke-width="0.3"><use href="#k59"/><use href="#k60"/><use href="#k61"/><use href="#k62"/><use href="#k63"/><use href="#k64"/><use href="#k65"/><use href="#k67"/><use href="#k187"/><use href="#k188"/><use href="#k190"/><use href="#k191"/><use href="#k192"/><use href="#k193"/><use href="#k194"/><use href="#k195"/><use href="#k196"/><use href="#k197"/></g>
<use href="#cl"/>
<path d="M180.2,152.6 l2.6,-1.6 l1.6,0.8 l-1.4,1.9 l-2.4,0.6Z M185.6,149.6 l2.3,-1.3 l1.3,0.9 l-1.5,1.6 l-2,0.3Z" fill="#ffffff" stroke="#6a5a55" stroke-width="0.3"/>
<path d="M156.4,180.6 l1.8,-0.9 l1.6,0.9 l0.5,2.4 l1.2,2 l-1.8,0.7 l-2,-1 l-0.9,-2Z" fill="#ffffff" stroke="#6a5a55" stroke-width="0.3"/>
<path d="M93.6,158.6 l2.2,-2.6 l3.2,-1.2 l1.4,1.4 l-2.4,2.6 l-3.2,1.6Z" fill="#fee5d9" stroke="#7a6f6a" stroke-width="0.35"/>
<path class="cb" d="M117.2,102.5 118.0,105.0 118.3,106.7 119.2,109.1 119.6,112.0 121.2,114.1 123.9,116.6 125.2,118.1 126.5,119.7 127.2,123.2 128.2,125.6 128.3,126.7 129.2,129.2 130.6,130.6 131.2,132.4 132.2,135.2 134.5,137.3 135.2,139.2 133.2,136.1 135.2,138.1 M143.2,130.7 145.2,134.1 146.4,135.8 148.6,138.1 150.6,140.6 151.9,142.1 153.9,142.8 155.2,144.8 158.5,145.8 160.6,146.1 162.7,146.5 164.5,146.3 167.3,146.8 169.4,147.0 171.0,147.2 173.2,146.3 175.3,146.8 172.6,148.8 171.1,151.1 170.0,152.1 168.5,154.1 167.3,155.5 167.0,157.7 168.0,160.2 169.1,162.9 171.3,164.8 173.7,167.5 172.6,169.3 170.6,170.9 168.0,172.9 166.6,176.2 164.9,176.9 161.9,176.9 159.5,176.9 157.9,177.8 156.2,179.2 153.9,179.6 151.9,181.6 153.9,184.3 156.6,186.9 157.3,189.6 158.6,190.9 158.8,193.7 157.9,196.3 154.6,197.6 151.5,198.5 149.9,199.0 147.9,199.5 145.2,201.0 143.2,201.8 141.2,203.7 138.5,205.7 137.3,203.9 135.8,201.7 132.5,200.3 130.9,200.5 128.5,201.7 126.4,201.6 123.8,202.3 120.4,203.7 117.1,205.0 115.6,204.1 113.7,202.3 112.0,201.4 109.7,200.3 107.8,200.3 105.7,199.0 105.5,197.3 104.4,195.0 106.4,193.0 103.7,190.3 102.4,189.6 103.0,187.8 105.0,185.6 106.0,184.0 108.4,182.2 110.8,181.4 112.4,179.6 114.6,178.7 116.4,176.9 118.1,174.7 119.8,173.6 117.8,170.2 116.0,167.4 115.1,165.5 113.2,162.4 112.8,160.2 114.2,158.1 114.4,156.1 116.8,154.9 119.1,153.2 120.7,152.0 123.8,150.1 126.6,149.1 128.5,147.4 131.8,145.8 133.8,144.8 136.5,142.1 136.5,139.9 135.2,138.1 135.9,136.4 137.8,134.7 141.2,133.4 143.2,130.7 M71.1,204.3 73.4,203.2 76.1,203.3 78.5,202.1 80.8,201.7 82.1,200.3 84.1,200.3 86.1,198.3 88.1,198.3 91.4,197.8 93.2,197.3 95.6,195.1 97.2,193.3 99.0,191.4 100.6,191.6 102.4,189.6 M151.9,181.6 153.9,179.6 156.2,179.2 157.9,177.8 159.5,176.9 161.9,176.9 164.9,176.9 166.6,176.2 165.5,179.5 165.9,181.6 166.0,183.5 167.3,186.3 166.3,188.9 165.9,190.9 165.5,192.9 165.9,196.3 164.0,196.4 161.9,197.0 159.9,196.7 157.9,196.3 158.8,193.7 158.6,190.9 157.3,189.6 156.6,186.9 153.9,184.3 151.9,181.6 M173.7,167.5 175.4,168.8 177.3,169.5 179.9,170.2 182.0,171.5 184.1,172.4 187.4,174.2 188.0,177.6 186.2,178.1 183.3,178.9 181.7,179.8 178.7,180.9 179.1,183.3 179.3,185.6 180.8,189.1 182.0,190.9 183.4,192.6 184.0,195.6 186.1,197.4 186.7,199.0 190.1,197.6 192.6,196.9 194.1,197.0 194.5,198.6 194.7,201.7 194.4,203.6 194.1,205.7 194.7,209.0 197.4,211.0 198.6,212.8 200.8,213.7 M173.7,167.5 172.6,169.3 170.6,170.9 168.0,172.9 166.6,176.2 165.5,179.5 165.9,181.6 166.0,183.5 167.3,186.3 166.3,188.9 165.9,190.9 165.5,192.9 165.9,196.3 164.0,196.4 161.9,197.0 159.9,196.7 157.9,196.3 155.9,197.0 155.2,200.3 156.2,203.1 156.6,205.7 156.0,207.6 155.9,211.0 155.9,213.9 157.2,216.4 157.9,215.0 M157.9,215.0 157.9,217.4 158.6,219.0 157.9,222.4 155.9,225.0 153.9,228.4 152.6,231.1 152.6,232.6 153.2,235.1 153.1,237.1 152.6,239.1 153.3,240.6 153.9,243.1 155.2,241.5 156.6,239.8 158.7,237.9 160.0,235.7 161.1,234.1 162.8,235.2 164.1,237.1 166.3,238.6 168.1,240.1 169.1,242.2 170.1,245.1 173.1,246.1 175.1,245.0 177.1,244.1 178.9,242.7 181.1,242.1 183.1,240.9 186.2,240.1 188.4,239.7 190.2,240.1 M182.1,209.0 184.1,207.0 188.8,205.9 193.9,206.3 193.5,208.3 188.8,209.0 184.8,209.7 182.1,209.0 M173.7,167.5 177.4,167.5 179.9,167.3 182.1,166.2 184.0,165.3 186.8,164.2 188.9,162.7 192.1,162.2 194.3,160.8 197.5,159.5 198.8,157.8 201.5,156.1 204.2,154.8 205.9,154.8 208.2,155.5 209.9,156.4 212.2,156.1 214.9,156.8 216.2,154.1 217.9,152.6 219.6,151.5 222.0,149.9 224.3,148.8 226.4,147.3 229.6,146.1 231.8,144.7 233.6,144.1 236.3,142.8 M214.9,156.8 215.6,160.2 217.6,160.9 218.9,162.8 222.0,163.9 224.3,164.8 226.1,165.3 228.3,166.8 229.0,168.2 229.6,170.9 229.4,173.3 228.3,176.2 227.6,178.7 226.9,181.6 226.6,184.1 226.3,185.6 226.4,187.4 228.3,189.6 230.3,191.0 231.6,193.0 233.1,194.1 235.0,195.6 237.6,198.3 240.2,198.2 241.7,199.0 243.7,198.7 245.7,197.6 M133.2,215.0 134.1,218.2 133.8,220.3 134.9,223.0 135.8,224.4 135.5,226.4 136.5,228.4 135.4,230.6 133.8,232.4 135.2,235.1 137.8,237.8 140.5,240.4 141.6,242.8 141.8,244.4 142.4,246.5 143.9,248.5 145.9,251.8 149.2,252.5 151.2,249.1 153.2,246.5 153.9,243.1 M133.8,232.4 130.5,234.4 127.8,237.1 127.6,239.8 127.1,241.8 127.3,244.1 126.5,246.5 126.0,248.7 124.5,250.5 123.1,251.9 121.1,253.2 118.4,255.8 M47.1,245.1 50.3,246.0 51.8,247.1 53.8,247.4 57.1,247.8 59.1,248.2 61.6,247.2 63.1,247.1 65.3,247.7 67.8,247.1 71.2,249.1 72.0,251.1 73.9,253.2 76.5,255.8 79.9,257.2 83.2,258.5 84.0,260.2 85.9,261.9 87.9,265.2 89.3,265.9 91.9,266.5 94.2,265.7 97.3,265.9 98.8,266.2 101.3,266.5 104.0,264.5 106.7,262.5 109.7,262.1 112.0,261.9 115.3,261.5 117.4,261.2 119.4,257.8 118.4,255.8 M118.4,255.8 117.8,259.2 119.5,260.1 121.1,261.9 121.9,264.0 123.1,265.9 124.5,267.2 125.8,269.9 127.7,270.8 129.1,272.6 130.5,275.9 131.1,278.1 132.5,279.9 134.5,280.6 136.0,278.9 137.8,277.9 141.2,276.6 143.8,275.6 145.9,275.9 147.9,276.3 149.9,275.2 149.4,277.1 148.6,280.6 147.7,283.1 146.5,285.9 146.6,288.6 145.2,291.3 144.3,293.5 143.9,296.7 M104.0,264.5 104.5,266.0 105.3,268.6 106.8,269.9 108.0,272.6 108.5,274.8 108.7,277.9 107.7,279.7 106.7,281.9 106.8,284.5 106.0,287.3 106.0,290.1 105.3,292.0 103.3,294.1 102.0,295.3 100.0,298.0 M57.8,304.1 61.1,303.4 63.4,302.5 65.2,302.8 67.4,302.5 70.5,301.4 72.6,301.1 75.9,300.1 77.8,299.5 79.9,298.7 83.2,296.7 85.9,294.1 89.3,292.7 90.8,292.4 93.3,290.7 96.0,288.7 98.0,291.4 100.0,294.7 100.0,297.4 M100.0,297.4 103.1,298.4 105.3,299.4 108.0,302.1 106.7,304.1 109.2,305.6 110.7,307.4 112.6,308.5 114.7,310.8 116.2,312.4 118.7,313.5 121.2,315.0 122.7,315.5 123.8,317.5 125.4,318.8 125.7,320.2 M46.4,326.2 48.4,328.9 51.8,330.9 53.4,331.8 55.1,333.6 58.5,334.9 61.2,334.2 63.8,334.9 67.2,334.4 69.2,334.2 72.6,334.3 74.5,333.6 77.9,332.2 81.2,331.5 82.8,331.8 85.2,330.9 87.1,330.0 89.3,328.9 90.7,328.4 93.3,328.2 95.5,328.6 97.3,328.9 99.3,331.5 101.6,332.5 103.3,332.2 106.7,333.6 108.7,336.2 112.0,336.9 114.7,336.2 M138.5,205.7 135.2,207.0 132.7,208.2 131.1,208.3 130.8,210.9 130.5,212.4 133.2,215.0"/>
<use href="#ob" class="ob"/>
<path d="M221.2,219.6 l2.6,-2.4 l4.4,-0.6 l2.4,0.8 l-1,2.8 l-3.6,1.8 l-3.6,0.4Z" fill="#fff" stroke="#000" stroke-width="0.5"/>
<circle cx="223.6" cy="219.6" r="0.9"/><circle cx="226.8" cy="219.9" r="0.8"/><path d="M229.5,216.4 l3.6,-2.2 l0.8,1 l-3,2.3Z"/>
</g>
<g clip-path="url(#c0)" fill="none" stroke="#6cc9ec" stroke-width="0.85" stroke-opacity="0.72">
<path d="M-27.2,14.4 -19.1,410.3 M7.8,14.4 20.1,410.3 M42.7,14.4 59.2,410.3 M77.7,14.4 98.3,410.3 M112.7,14.4 137.4,410.3 M147.7,14.4 176.6,410.3 M182.7,14.4 215.7,410.3 M217.6,14.4 254.8,410.3 M252.6,14.4 293.9,410.3 M287.6,14.4 333.0,410.3 M322.6,14.4 372.2,410.3 M8.0,474.9 36.4,474.0 64.8,472.9 93.2,471.6 121.6,470.1 150.0,468.3 178.4,466.4 206.8,464.2 235.2,461.8 263.6,459.3 292.0,456.4 M8.0,427.0 36.4,426.1 64.8,424.9 93.2,423.6 121.6,422.1 150.0,420.3 178.4,418.3 206.8,416.2 235.2,413.8 263.6,411.1 292.0,408.3 M8.0,379.0 36.4,378.1 64.8,377.0 93.2,375.7 121.6,374.1 150.0,372.3 178.4,370.3 206.8,368.1 235.2,365.7 263.6,363.0 292.0,360.1 M8.0,331.1 36.4,330.2 64.8,329.1 93.2,327.7 121.6,326.1 150.0,324.3 178.4,322.3 206.8,320.0 235.2,317.6 263.6,314.9 292.0,312.0 M8.0,283.2 36.4,282.3 64.8,281.1 93.2,279.7 121.6,278.1 150.0,276.3 178.4,274.2 206.8,272.0 235.2,269.5 263.6,266.7 292.0,263.8 M8.0,235.3 36.4,234.3 64.8,233.2 93.2,231.8 121.6,230.1 150.0,228.3 178.4,226.2 206.8,223.9 235.2,221.4 263.6,218.6 292.0,215.6 M8.0,187.4 36.4,186.4 64.8,185.2 93.2,183.8 121.6,182.1 150.0,180.3 178.4,178.2 206.8,175.8 235.2,173.3 263.6,170.5 292.0,167.4 M8.0,139.4 36.4,138.5 64.8,137.3 93.2,135.8 121.6,134.2 150.0,132.3 178.4,130.1 206.8,127.7 235.2,125.1 263.6,122.3 292.0,119.2 M8.0,91.5 36.4,90.5 64.8,89.3 93.2,87.8 121.6,86.2 150.0,84.2 178.4,82.1 206.8,79.7 235.2,77.0 263.6,74.1 292.0,71.0 M8.0,43.6 36.4,42.6 64.8,41.4 93.2,39.9 121.6,38.2 150.0,36.2 178.4,34.0 206.8,31.6 235.2,28.9 263.6,26.0 292.0,22.8 M8.0,-4.3 36.4,-5.3 64.8,-6.6 93.2,-8.1 121.6,-9.8 150.0,-11.8 178.4,-14.1 206.8,-16.5 235.2,-19.2 263.6,-22.2 292.0,-25.4"/>
</g>
<rect x="12.0" y="16.4" width="276.0" height="391.9" fill="none" stroke="#2181ab" stroke-width="1.35"/>
<text class="g" x="20.0" y="414.5" text-anchor="middle">113°</text>
<text class="g" x="42.8" y="13.8" text-anchor="middle">114°</text>
<text class="g" x="59.1" y="414.5" text-anchor="middle">114°</text>
<text class="g" x="77.8" y="13.8" text-anchor="middle">115°</text>
<text class="g" x="98.2" y="414.5" text-anchor="middle">115°</text>
<text class="g" x="112.8" y="13.8" text-anchor="middle">116°</text>
<text class="g" x="137.3" y="414.5" text-anchor="middle">116°</text>
<text class="g" x="147.8" y="13.8" text-anchor="middle">117°</text>
<text class="g" x="176.4" y="414.5" text-anchor="middle">117°</text>
<text class="g" x="182.8" y="13.8" text-anchor="middle">118°</text>
<text class="g" x="215.5" y="414.5" text-anchor="middle">118°</text>
<text class="g" x="217.8" y="13.8" text-anchor="middle">119°</text>
<text class="g" x="254.6" y="414.5" text-anchor="middle">119°</text>
<text class="g" x="252.8" y="13.8" text-anchor="middle">120°</text>
<text class="g" transform="translate(294.6,408.7) rotate(-90)" text-anchor="middle">35°</text>
<text class="g" transform="translate(8.8,378.9) rotate(-90)" text-anchor="middle">36°</text>
<text class="g" transform="translate(294.6,360.6) rotate(-90)" text-anchor="middle">36°</text>
<text class="g" transform="translate(8.8,331.0) rotate(-90)" text-anchor="middle">37°</text>
<text class="g" transform="translate(294.6,312.4) rotate(-90)" text-anchor="middle">37°</text>
<text class="g" transform="translate(8.8,283.1) rotate(-90)" text-anchor="middle">38°</text>
<text class="g" transform="translate(294.6,264.2) rotate(-90)" text-anchor="middle">38°</text>
<text class="g" transform="translate(8.8,235.2) rotate(-90)" text-anchor="middle">39°</text>
<text class="g" transform="translate(294.6,216.0) rotate(-90)" text-anchor="middle">39°</text>
<text class="g" transform="translate(8.8,187.2) rotate(-90)" text-anchor="middle">40°</text>
<text class="g" transform="translate(294.6,167.9) rotate(-90)" text-anchor="middle">40°</text>
<text class="g" transform="translate(8.8,139.3) rotate(-90)" text-anchor="middle">41°</text>
<text class="g" transform="translate(294.6,119.7) rotate(-90)" text-anchor="middle">41°</text>
<text class="g" transform="translate(8.8,91.4) rotate(-90)" text-anchor="middle">42°</text>
<text class="g" transform="translate(294.6,71.5) rotate(-90)" text-anchor="middle">42°</text>
<text class="g" transform="translate(8.8,43.5) rotate(-90)" text-anchor="middle">43°</text>
<text class="g" transform="translate(294.6,23.3) rotate(-90)" text-anchor="middle">43°</text>
<text class="g" transform="translate(272.5,415.3) rotate(-90)" text-anchor="middle">35°</text>
<text class="g" x="291.4" y="350.6">120°</text>
<text class="lt" x="170.3" y="303.1" textLength="99.7" lengthAdjust="spacingAndGlyphs">BCE_2000 (10,000t)</text>
<rect x="185.0" y="312.0" width="15.7" height="7.5" fill="#fee5d9" stroke="#9a8f8c" stroke-width="0.5"/>
<text class="ll" x="203.3" y="319.5">0&lt;BCE≤10</text>
<rect x="185.0" y="327.7" width="15.7" height="7.5" fill="#fcbba1" stroke="#9a8f8c" stroke-width="0.5"/>
<text class="ll" x="203.3" y="335.2">10&lt;BCE≤20</text>
<rect x="185.0" y="343.4" width="15.7" height="7.5" fill="#fc9272" stroke="#9a8f8c" stroke-width="0.5"/>
<text class="ll" x="203.3" y="350.9">20&lt;BCE≤50</text>
<rect x="185.0" y="359.0" width="15.7" height="7.5" fill="#fb6a4a" stroke="#9a8f8c" stroke-width="0.5"/>
<text class="ll" x="203.3" y="366.5">50&lt;BCE≤80</text>
<rect x="185.0" y="374.7" width="15.7" height="7.5" fill="#de2d26" stroke="#9a8f8c" stroke-width="0.5"/>
<text class="ll" x="203.3" y="382.2">80&lt;BCE≤100</text>
<rect x="185.0" y="390.4" width="15.7" height="7.5" fill="#a50f15" stroke="#9a8f8c" stroke-width="0.5"/>
<text class="ll" x="203.3" y="397.9">100&lt;BCE≤384</text>
</g>
<g id="panel2">
<clipPath id="c1"><rect x="307.6" y="17.6" width="285.2" height="392.3"/></clipPath>
<rect x="307.6" y="17.6" width="285.2" height="392.3" fill="#fff"/>
<g transform="translate(300.50,1.10)">
<use href="#ob" fill="#fc9272"/>
<g fill="#fee5d9" stroke="#fee5d9" stroke-width="0.3"><use href="#k0"/><use href="#k1"/><use href="#k2"/><use href="#k3"/><use href="#k69"/><use href="#k96"/><use href="#k97"/><use href="#k157"/></g>
<g fill="#fcbba1" stroke="#fcbba1" stroke-width="0.3"><use href="#k10"/><use href="#k11"/><use href="#k12"/><use href="#k14"/><use href="#k15"/><use href="#k16"/><use href="#k17"/><use href="#k20"/><use href="#k21"/><use href="#k23"/><use href="#k24"/><use href="#k25"/><use href="#k27"/><use href="#k28"/><use href="#k30"/><use href="#k37"/><use href="#k80"/><use href="#k81"/><use href="#k83"/><use href="#k86"/><use href="#k87"/><use href="#k89"/><use href="#k92"/><use href="#k98"/><use href="#k100"/><use href="#k101"/><use href="#k103"/><use href="#k106"/><use href="#k107"/><use href="#k110"/><use href="#k111"/><use href="#k121"/><use href="#k125"/><use href="#k133"/><use href="#k147"/><use href="#k148"/><use href="#k155"/><use href="#k158"/><use href="#k162"/><use href="#k164"/><use href="#k198"/><use href="#k199"/><use href="#k200"/><use href="#k202"/><use href="#k203"/><use href="#k207"/></g>
<g fill="#fc9272" stroke="#fc9272" stroke-width="0.3"><use href="#k4"/><use href="#k5"/><use href="#k6"/><use href="#k7"/><use href="#k8"/><use href="#k9"/><use href="#k13"/><use href="#k18"/><use href="#k19"/><use href="#k22"/><use href="#k26"/><use href="#k29"/><use href="#k31"/><use href="#k32"/><use href="#k33"/><use href="#k35"/><use href="#k38"/><use href="#k39"/><use href="#k41"/><use href="#k47"/><use href="#k48"/><use href="#k49"/><use href="#k68"/><use href="#k70"/><use href="#k71"/><use href="#k72"/><use href="#k73"/><use href="#k74"/><use href="#k75"/><use href="#k76"/><use href="#k77"/><use href="#k78"/><use href="#k79"/><use href="#k82"/><use href="#k84"/><use href="#k85"/><use href="#k88"/><use href="#k90"/><use href="#k91"/><use href="#k93"/><use href="#k94"/><use href="#k95"/><use href="#k99"/><use href="#k102"/><use href="#k104"/><use href="#k105"/><use href="#k108"/><use href="#k109"/><use href="#k112"/><use href="#k113"/><use href="#k117"/><use href="#k118"/><use href="#k119"/><use href="#k120"/><use href="#k122"/><use href="#k123"/><use href="#k124"/><use href="#k126"/><use href="#k127"/><use href="#k128"/><use href="#k129"/><use href="#k130"/><use href="#k131"/><use href="#k132"/><use href="#k134"/><use href="#k138"/><use href="#k139"/><use href="#k140"/><use href="#k141"/><use href="#k142"/><use href="#k143"/><use href="#k144"/><use href="#k145"/><use href="#k146"/><use href="#k149"/><use href="#k150"/><use href="#k151"/><use href="#k152"/><use href="#k153"/><use href="#k154"/><use href="#k156"/><use href="#k159"/><use href="#k160"/><use href="#k161"/><use href="#k163"/><use href="#k165"/><use href="#k166"/><use href="#k167"/><use href="#k168"/><use href="#k169"/><use href="#k170"/><use href="#k171"/><use href="#k172"/><use href="#k173"/><use href="#k174"/><use href="#k175"/><use href="#k176"/><use href="#k177"/><use href="#k178"/><use href="#k179"/><use href="#k180"/><use href="#k181"/><use href="#k182"/><use href="#k189"/><use href="#k201"/><use href="#k204"/><use href="#k205"/><use href="#k206"/><use href="#k208"/><use href="#k209"/></g>
<g fill="#fb6a4a" stroke="#fb6a4a" stroke-width="0.3"><use href="#k34"/><use href="#k40"/><use href="#k44"/><use href="#k45"/><use href="#k46"/><use href="#k50"/><use href="#k51"/><use href="#k52"/><use href="#k53"/><use href="#k54"/><use href="#k55"/><use href="#k56"/><use href="#k58"/><use href="#k66"/><use href="#k115"/><use href="#k116"/><use href="#k135"/><use href="#k136"/><use href="#k137"/><use href="#k185"/><use href="#k186"/></g>
<g fill="#de2d26" stroke="#de2d26" stroke-width="0.3"><use href="#k36"/><use href="#k42"/><use href="#k43"/><use href="#k114"/><use href="#k183"/><use href="#k184"/></g>
<g fill="#a50f15" stroke="#a50f15" stroke-width="0.3"><use href="#k57"/><use href="#k59"/><use href="#k60"/><use href="#k61"/><use href="#k62"/><use href="#k63"/><use href="#k64"/><use href="#k65"/><use href="#k67"/><use href="#k187"/><use href="#k188"/><use href="#k190"/><use href="#k191"/><use href="#k192"/><use href="#k193"/><use href="#k194"/><use href="#k195"/><use href="#k196"/><use href="#k197"/></g>
<use href="#cl"/>
<path d="M180.2,152.6 l2.6,-1.6 l1.6,0.8 l-1.4,1.9 l-2.4,0.6Z M185.6,149.6 l2.3,-1.3 l1.3,0.9 l-1.5,1.6 l-2,0.3Z" fill="#ffffff" stroke="#6a5a55" stroke-width="0.3"/>
<path d="M156.4,180.6 l1.8,-0.9 l1.6,0.9 l0.5,2.4 l1.2,2 l-1.8,0.7 l-2,-1 l-0.9,-2Z" fill="#ffffff" stroke="#6a5a55" stroke-width="0.3"/>
<path d="M93.6,158.6 l2.2,-2.6 l3.2,-1.2 l1.4,1.4 l-2.4,2.6 l-3.2,1.6Z" fill="#fee5d9" stroke="#7a6f6a" stroke-width="0.35"/>
<path class="cb" d="M117.2,102.5 118.0,105.0 118.3,106.7 119.2,109.1 119.6,112.0 121.2,114.1 123.9,116.6 125.2,118.1 126.5,119.7 127.2,123.2 128.2,125.6 128.3,126.7 129.2,129.2 130.6,130.6 131.2,132.4 132.2,135.2 134.5,137.3 135.2,139.2 133.2,136.1 135.2,138.1 M143.2,130.7 145.2,134.1 146.4,135.8 148.6,138.1 150.6,140.6 151.9,142.1 153.9,142.8 155.2,144.8 158.5,145.8 160.6,146.1 162.7,146.5 164.5,146.3 167.3,146.8 169.4,147.0 171.0,147.2 173.2,146.3 175.3,146.8 172.6,148.8 171.1,151.1 170.0,152.1 168.5,154.1 167.3,155.5 167.0,157.7 168.0,160.2 169.1,162.9 171.3,164.8 173.7,167.5 172.6,169.3 170.6,170.9 168.0,172.9 166.6,176.2 164.9,176.9 161.9,176.9 159.5,176.9 157.9,177.8 156.2,179.2 153.9,179.6 151.9,181.6 153.9,184.3 156.6,186.9 157.3,189.6 158.6,190.9 158.8,193.7 157.9,196.3 154.6,197.6 151.5,198.5 149.9,199.0 147.9,199.5 145.2,201.0 143.2,201.8 141.2,203.7 138.5,205.7 137.3,203.9 135.8,201.7 132.5,200.3 130.9,200.5 128.5,201.7 126.4,201.6 123.8,202.3 120.4,203.7 117.1,205.0 115.6,204.1 113.7,202.3 112.0,201.4 109.7,200.3 107.8,200.3 105.7,199.0 105.5,197.3 104.4,195.0 106.4,193.0 103.7,190.3 102.4,189.6 103.0,187.8 105.0,185.6 106.0,184.0 108.4,182.2 110.8,181.4 112.4,179.6 114.6,178.7 116.4,176.9 118.1,174.7 119.8,173.6 117.8,170.2 116.0,167.4 115.1,165.5 113.2,162.4 112.8,160.2 114.2,158.1 114.4,156.1 116.8,154.9 119.1,153.2 120.7,152.0 123.8,150.1 126.6,149.1 128.5,147.4 131.8,145.8 133.8,144.8 136.5,142.1 136.5,139.9 135.2,138.1 135.9,136.4 137.8,134.7 141.2,133.4 143.2,130.7 M71.1,204.3 73.4,203.2 76.1,203.3 78.5,202.1 80.8,201.7 82.1,200.3 84.1,200.3 86.1,198.3 88.1,198.3 91.4,197.8 93.2,197.3 95.6,195.1 97.2,193.3 99.0,191.4 100.6,191.6 102.4,189.6 M151.9,181.6 153.9,179.6 156.2,179.2 157.9,177.8 159.5,176.9 161.9,176.9 164.9,176.9 166.6,176.2 165.5,179.5 165.9,181.6 166.0,183.5 167.3,186.3 166.3,188.9 165.9,190.9 165.5,192.9 165.9,196.3 164.0,196.4 161.9,197.0 159.9,196.7 157.9,196.3 158.8,193.7 158.6,190.9 157.3,189.6 156.6,186.9 153.9,184.3 151.9,181.6 M173.7,167.5 175.4,168.8 177.3,169.5 179.9,170.2 182.0,171.5 184.1,172.4 187.4,174.2 188.0,177.6 186.2,178.1 183.3,178.9 181.7,179.8 178.7,180.9 179.1,183.3 179.3,185.6 180.8,189.1 182.0,190.9 183.4,192.6 184.0,195.6 186.1,197.4 186.7,199.0 190.1,197.6 192.6,196.9 194.1,197.0 194.5,198.6 194.7,201.7 194.4,203.6 194.1,205.7 194.7,209.0 197.4,211.0 198.6,212.8 200.8,213.7 M173.7,167.5 172.6,169.3 170.6,170.9 168.0,172.9 166.6,176.2 165.5,179.5 165.9,181.6 166.0,183.5 167.3,186.3 166.3,188.9 165.9,190.9 165.5,192.9 165.9,196.3 164.0,196.4 161.9,197.0 159.9,196.7 157.9,196.3 155.9,197.0 155.2,200.3 156.2,203.1 156.6,205.7 156.0,207.6 155.9,211.0 155.9,213.9 157.2,216.4 157.9,215.0 M157.9,215.0 157.9,217.4 158.6,219.0 157.9,222.4 155.9,225.0 153.9,228.4 152.6,231.1 152.6,232.6 153.2,235.1 153.1,237.1 152.6,239.1 153.3,240.6 153.9,243.1 155.2,241.5 156.6,239.8 158.7,237.9 160.0,235.7 161.1,234.1 162.8,235.2 164.1,237.1 166.3,238.6 168.1,240.1 169.1,242.2 170.1,245.1 173.1,246.1 175.1,245.0 177.1,244.1 178.9,242.7 181.1,242.1 183.1,240.9 186.2,240.1 188.4,239.7 190.2,240.1 M182.1,209.0 184.1,207.0 188.8,205.9 193.9,206.3 193.5,208.3 188.8,209.0 184.8,209.7 182.1,209.0 M173.7,167.5 177.4,167.5 179.9,167.3 182.1,166.2 184.0,165.3 186.8,164.2 188.9,162.7 192.1,162.2 194.3,160.8 197.5,159.5 198.8,157.8 201.5,156.1 204.2,154.8 205.9,154.8 208.2,155.5 209.9,156.4 212.2,156.1 214.9,156.8 216.2,154.1 217.9,152.6 219.6,151.5 222.0,149.9 224.3,148.8 226.4,147.3 229.6,146.1 231.8,144.7 233.6,144.1 236.3,142.8 M214.9,156.8 215.6,160.2 217.6,160.9 218.9,162.8 222.0,163.9 224.3,164.8 226.1,165.3 228.3,166.8 229.0,168.2 229.6,170.9 229.4,173.3 228.3,176.2 227.6,178.7 226.9,181.6 226.6,184.1 226.3,185.6 226.4,187.4 228.3,189.6 230.3,191.0 231.6,193.0 233.1,194.1 235.0,195.6 237.6,198.3 240.2,198.2 241.7,199.0 243.7,198.7 245.7,197.6 M133.2,215.0 134.1,218.2 133.8,220.3 134.9,223.0 135.8,224.4 135.5,226.4 136.5,228.4 135.4,230.6 133.8,232.4 135.2,235.1 137.8,237.8 140.5,240.4 141.6,242.8 141.8,244.4 142.4,246.5 143.9,248.5 145.9,251.8 149.2,252.5 151.2,249.1 153.2,246.5 153.9,243.1 M133.8,232.4 130.5,234.4 127.8,237.1 127.6,239.8 127.1,241.8 127.3,244.1 126.5,246.5 126.0,248.7 124.5,250.5 123.1,251.9 121.1,253.2 118.4,255.8 M47.1,245.1 50.3,246.0 51.8,247.1 53.8,247.4 57.1,247.8 59.1,248.2 61.6,247.2 63.1,247.1 65.3,247.7 67.8,247.1 71.2,249.1 72.0,251.1 73.9,253.2 76.5,255.8 79.9,257.2 83.2,258.5 84.0,260.2 85.9,261.9 87.9,265.2 89.3,265.9 91.9,266.5 94.2,265.7 97.3,265.9 98.8,266.2 101.3,266.5 104.0,264.5 106.7,262.5 109.7,262.1 112.0,261.9 115.3,261.5 117.4,261.2 119.4,257.8 118.4,255.8 M118.4,255.8 117.8,259.2 119.5,260.1 121.1,261.9 121.9,264.0 123.1,265.9 124.5,267.2 125.8,269.9 127.7,270.8 129.1,272.6 130.5,275.9 131.1,278.1 132.5,279.9 134.5,280.6 136.0,278.9 137.8,277.9 141.2,276.6 143.8,275.6 145.9,275.9 147.9,276.3 149.9,275.2 149.4,277.1 148.6,280.6 147.7,283.1 146.5,285.9 146.6,288.6 145.2,291.3 144.3,293.5 143.9,296.7 M104.0,264.5 104.5,266.0 105.3,268.6 106.8,269.9 108.0,272.6 108.5,274.8 108.7,277.9 107.7,279.7 106.7,281.9 106.8,284.5 106.0,287.3 106.0,290.1 105.3,292.0 103.3,294.1 102.0,295.3 100.0,298.0 M57.8,304.1 61.1,303.4 63.4,302.5 65.2,302.8 67.4,302.5 70.5,301.4 72.6,301.1 75.9,300.1 77.8,299.5 79.9,298.7 83.2,296.7 85.9,294.1 89.3,292.7 90.8,292.4 93.3,290.7 96.0,288.7 98.0,291.4 100.0,294.7 100.0,297.4 M100.0,297.4 103.1,298.4 105.3,299.4 108.0,302.1 106.7,304.1 109.2,305.6 110.7,307.4 112.6,308.5 114.7,310.8 116.2,312.4 118.7,313.5 121.2,315.0 122.7,315.5 123.8,317.5 125.4,318.8 125.7,320.2 M46.4,326.2 48.4,328.9 51.8,330.9 53.4,331.8 55.1,333.6 58.5,334.9 61.2,334.2 63.8,334.9 67.2,334.4 69.2,334.2 72.6,334.3 74.5,333.6 77.9,332.2 81.2,331.5 82.8,331.8 85.2,330.9 87.1,330.0 89.3,328.9 90.7,328.4 93.3,328.2 95.5,328.6 97.3,328.9 99.3,331.5 101.6,332.5 103.3,332.2 106.7,333.6 108.7,336.2 112.0,336.9 114.7,336.2 M138.5,205.7 135.2,207.0 132.7,208.2 131.1,208.3 130.8,210.9 130.5,212.4 133.2,215.0"/>
<use href="#ob" class="ob"/>
<path d="M221.2,219.6 l2.6,-2.4 l4.4,-0.6 l2.4,0.8 l-1,2.8 l-3.6,1.8 l-3.6,0.4Z" fill="#fff" stroke="#000" stroke-width="0.5"/>
<circle cx="223.6" cy="219.6" r="0.9"/><circle cx="226.8" cy="219.9" r="0.8"/><path d="M229.5,216.4 l3.6,-2.2 l0.8,1 l-3,2.3Z"/>
</g>
<g clip-path="url(#c1)" fill="none" stroke="#6cc9ec" stroke-width="0.85" stroke-opacity="0.72">
<path d="M273.3,15.6 281.5,411.9 M308.3,15.6 320.6,411.9 M343.2,15.6 359.7,411.9 M378.2,15.6 398.8,411.9 M413.2,15.6 438.0,411.9 M448.2,15.6 477.1,411.9 M483.2,15.6 516.2,411.9 M518.2,15.6 555.3,411.9 M553.1,15.6 594.5,411.9 M588.1,15.6 633.6,411.9 M623.1,15.6 672.7,411.9 M303.6,476.1 332.9,475.2 362.2,474.1 391.6,472.8 420.9,471.2 450.2,469.4 479.5,467.4 508.8,465.2 538.2,462.7 567.5,460.0 596.8,457.1 M303.6,428.2 332.9,427.3 362.2,426.2 391.6,424.8 420.9,423.2 450.2,421.4 479.5,419.4 508.8,417.1 538.2,414.6 567.5,411.9 596.8,408.9 M303.6,380.3 332.9,379.4 362.2,378.2 391.6,376.9 420.9,375.3 450.2,373.4 479.5,371.4 508.8,369.1 538.2,366.5 567.5,363.8 596.8,360.8 M303.6,332.3 332.9,331.4 362.2,330.3 391.6,328.9 420.9,327.3 450.2,325.4 479.5,323.3 508.8,321.0 538.2,318.4 567.5,315.6 596.8,312.6 M303.6,284.4 332.9,283.5 362.2,282.3 391.6,280.9 420.9,279.3 450.2,277.4 479.5,275.3 508.8,272.9 538.2,270.3 567.5,267.5 596.8,264.4 M303.6,236.5 332.9,235.6 362.2,234.4 391.6,233.0 420.9,231.3 450.2,229.4 479.5,227.3 508.8,224.9 538.2,222.2 567.5,219.4 596.8,216.2 M303.6,188.6 332.9,187.6 362.2,186.4 391.6,185.0 420.9,183.3 450.2,181.4 479.5,179.2 508.8,176.8 538.2,174.1 567.5,171.2 596.8,168.0 M303.6,140.7 332.9,139.7 362.2,138.5 391.6,137.0 420.9,135.3 450.2,133.4 479.5,131.2 508.8,128.7 538.2,126.0 567.5,123.0 596.8,119.8 M303.6,92.8 332.9,91.8 362.2,90.5 391.6,89.1 420.9,87.3 450.2,85.3 479.5,83.1 508.8,80.6 538.2,77.9 567.5,74.9 596.8,71.6 M303.6,44.8 332.9,43.8 362.2,42.6 391.6,41.1 420.9,39.3 450.2,37.3 479.5,35.1 508.8,32.5 538.2,29.7 567.5,26.7 596.8,23.4 M303.6,-3.1 332.9,-4.1 362.2,-5.4 391.6,-6.9 420.9,-8.7 450.2,-10.7 479.5,-13.0 508.8,-15.6 538.2,-18.4 567.5,-21.5 596.8,-24.8"/>
</g>
<rect x="307.6" y="17.6" width="285.2" height="392.3" fill="none" stroke="#2181ab" stroke-width="1.35"/>
<text class="g" x="308.3" y="15.0" text-anchor="middle">113°</text>
<text class="g" x="320.5" y="416.1" text-anchor="middle">113°</text>
<text class="g" x="343.3" y="15.0" text-anchor="middle">114°</text>
<text class="g" x="359.6" y="416.1" text-anchor="middle">114°</text>
<text class="g" x="378.3" y="15.0" text-anchor="middle">115°</text>
<text class="g" x="398.7" y="416.1" text-anchor="middle">115°</text>
<text class="g" x="413.3" y="15.0" text-anchor="middle">116°</text>
<text class="g" x="437.8" y="416.1" text-anchor="middle">116°</text>
<text class="g" x="448.3" y="15.0" text-anchor="middle">117°</text>
<text class="g" x="476.9" y="416.1" text-anchor="middle">117°</text>
<text class="g" x="483.3" y="15.0" text-anchor="middle">118°</text>
<text class="g" x="516.0" y="416.1" text-anchor="middle">118°</text>
<text class="g" x="518.3" y="15.0" text-anchor="middle">119°</text>
<text class="g" x="555.2" y="416.1" text-anchor="middle">119°</text>
<text class="g" x="553.4" y="15.0" text-anchor="middle">120°</text>
<text class="g" x="588.4" y="15.0" text-anchor="middle">121°</text>
<text class="g" transform="translate(599.4,409.4) rotate(-90)" text-anchor="middle">35°</text>
<text class="g" transform="translate(304.4,380.2) rotate(-90)" text-anchor="middle">36°</text>
<text class="g" transform="translate(599.4,361.2) rotate(-90)" text-anchor="middle">36°</text>
<text class="g" transform="translate(304.4,332.2) rotate(-90)" text-anchor="middle">37°</text>
<text class="g" transform="translate(599.4,313.0) rotate(-90)" text-anchor="middle">37°</text>
<text class="g" transform="translate(304.4,284.3) rotate(-90)" text-anchor="middle">38°</text>
<text class="g" transform="translate(599.4,264.9) rotate(-90)" text-anchor="middle">38°</text>
<text class="g" transform="translate(304.4,236.4) rotate(-90)" text-anchor="middle">39°</text>
<text class="g" transform="translate(599.4,216.7) rotate(-90)" text-anchor="middle">39°</text>
<text class="g" transform="translate(304.4,188.5) rotate(-90)" text-anchor="middle">40°</text>
<text class="g" transform="translate(599.4,168.5) rotate(-90)" text-anchor="middle">40°</text>
<text class="g" transform="translate(304.4,140.6) rotate(-90)" text-anchor="middle">41°</text>
<text class="g" transform="translate(599.4,120.3) rotate(-90)" text-anchor="middle">41°</text>
<text class="g" transform="translate(304.4,92.6) rotate(-90)" text-anchor="middle">42°</text>
<text class="g" transform="translate(599.4,72.1) rotate(-90)" text-anchor="middle">42°</text>
<text class="g" transform="translate(304.4,44.7) rotate(-90)" text-anchor="middle">43°</text>
<text class="g" transform="translate(599.4,23.9) rotate(-90)" text-anchor="middle">43°</text>
<text class="g" transform="translate(577.3,416.9) rotate(-90)" text-anchor="middle">35°</text>
<text class="g" x="596.2" y="392.9">120°</text>
<text class="g" x="596.2" y="53.3">121°</text>
<text class="lt" x="476.8" y="303.1" textLength="100.2" lengthAdjust="spacingAndGlyphs">BCE_2005 (10,000t)</text>
<rect x="486.7" y="312.0" width="15.5" height="7.5" fill="#fee5d9" stroke="#9a8f8c" stroke-width="0.5"/>
<text class="ll" x="505.0" y="319.5">0&lt;BCE≤10</text>
<rect x="486.7" y="327.7" width="15.5" height="7.5" fill="#fcbba1" stroke="#9a8f8c" stroke-width="0.5"/>
<text class="ll" x="505.0" y="335.2">10&lt;BCE≤20</text>
<rect x="486.7" y="343.4" width="15.5" height="7.5" fill="#fc9272" stroke="#9a8f8c" stroke-width="0.5"/>
<text class="ll" x="505.0" y="350.9">20&lt;BCE≤50</text>
<rect x="486.7" y="359.0" width="15.5" height="7.5" fill="#fb6a4a" stroke="#9a8f8c" stroke-width="0.5"/>
<text class="ll" x="505.0" y="366.5">50&lt;BCE≤80</text>
<rect x="486.7" y="374.7" width="15.5" height="7.5" fill="#de2d26" stroke="#9a8f8c" stroke-width="0.5"/>
<text class="ll" x="505.0" y="382.2">80&lt;BCE≤100</text>
<rect x="486.7" y="390.4" width="15.5" height="7.5" fill="#a50f15" stroke="#9a8f8c" stroke-width="0.5"/>
<text class="ll" x="505.0" y="397.9">100&lt;BCE≤641</text>
</g>
<g id="panel3">
<clipPath id="c2"><rect x="615.5" y="18.0" width="284.3" height="392.0"/></clipPath>
<rect x="615.5" y="18.0" width="284.3" height="392.0" fill="#fff"/>
<g transform="translate(608.00,1.35)">
<use href="#ob" fill="#fc9272"/>
<g fill="#fee5d9" stroke="#fee5d9" stroke-width="0.3"><use href="#k0"/><use href="#k3"/><use href="#k97"/><use href="#k157"/></g>
<g fill="#fcbba1" stroke="#fcbba1" stroke-width="0.3"><use href="#k1"/><use href="#k2"/><use href="#k9"/><use href="#k10"/><use href="#k13"/><use href="#k14"/><use href="#k16"/><use href="#k17"/><use href="#k37"/><use href="#k69"/><use href="#k83"/><use href="#k86"/><use href="#k89"/><use href="#k96"/><use href="#k99"/><use href="#k102"/><use href="#k105"/><use href="#k108"/><use href="#k109"/><use href="#k112"/><use href="#k113"/><use href="#k163"/><use href="#k167"/><use href="#k170"/><use href="#k171"/><use href="#k174"/><use href="#k175"/><use href="#k177"/><use href="#k178"/></g>
<g fill="#fc9272" stroke="#fc9272" stroke-width="0.3"><use href="#k6"/><use href="#k7"/><use href="#k8"/><use href="#k11"/><use href="#k12"/><use href="#k15"/><use href="#k18"/><use href="#k19"/><use href="#k20"/><use href="#k21"/><use href="#k22"/><use href="#k23"/><use href="#k24"/><use href="#k25"/><use href="#k26"/><use href="#k27"/><use href="#k28"/><use href="#k29"/><use href="#k30"/><use href="#k31"/><use href="#k32"/><use href="#k33"/><use href="#k35"/><use href="#k38"/><use href="#k39"/><use href="#k41"/><use href="#k49"/><use href="#k71"/><use href="#k72"/><use href="#k74"/><use href="#k76"/><use href="#k77"/><use href="#k78"/><use href="#k79"/><use href="#k82"/><use href="#k84"/><use href="#k85"/><use href="#k87"/><use href="#k88"/><use href="#k90"/><use href="#k91"/><use href="#k92"/><use href="#k93"/><use href="#k94"/><use href="#k98"/><use href="#k100"/><use href="#k101"/><use href="#k103"/><use href="#k104"/><use href="#k106"/><use href="#k107"/><use href="#k110"/><use href="#k111"/><use href="#k118"/><use href="#k119"/><use href="#k120"/><use href="#k122"/><use href="#k124"/><use href="#k127"/><use href="#k128"/><use href="#k130"/><use href="#k131"/><use href="#k138"/><use href="#k139"/><use href="#k140"/><use href="#k141"/><use href="#k142"/><use href="#k143"/><use href="#k145"/><use href="#k146"/><use href="#k152"/><use href="#k153"/><use href="#k154"/><use href="#k158"/><use href="#k159"/><use href="#k160"/><use href="#k161"/><use href="#k162"/><use href="#k164"/><use href="#k165"/><use href="#k166"/><use href="#k168"/><use href="#k169"/><use href="#k172"/><use href="#k173"/><use href="#k176"/><use href="#k179"/><use href="#k180"/><use href="#k181"/><use href="#k189"/><use href="#k198"/><use href="#k199"/><use href="#k200"/><use href="#k201"/><use href="#k204"/><use href="#k205"/><use href="#k206"/><use href="#k208"/></g>
<g fill="#fb6a4a" stroke="#fb6a4a" stroke-width="0.3"><use href="#k4"/><use href="#k5"/><use href="#k34"/><use href="#k45"/><use href="#k47"/><use href="#k48"/><use href="#k51"/><use href="#k52"/><use href="#k53"/><use href="#k54"/><use href="#k68"/><use href="#k70"/><use href="#k73"/><use href="#k75"/><use href="#k80"/><use href="#k81"/><use href="#k95"/><use href="#k115"/><use href="#k116"/><use href="#k117"/><use href="#k121"/><use href="#k123"/><use href="#k125"/><use href="#k126"/><use href="#k129"/><use href="#k132"/><use href="#k133"/><use href="#k134"/><use href="#k137"/><use href="#k144"/><use href="#k147"/><use href="#k148"/><use href="#k149"/><use href="#k150"/><use href="#k151"/><use href="#k155"/><use href="#k156"/><use href="#k182"/><use href="#k202"/><use href="#k203"/><use href="#k207"/><use href="#k209"/></g>
<g fill="#de2d26" stroke="#de2d26" stroke-width="0.3"><use href="#k40"/><use href="#k43"/><use href="#k44"/><use href="#k46"/><use href="#k50"/><use href="#k55"/><use href="#k66"/><use href="#k135"/><use href="#k136"/></g>
<g fill="#a50f15" stroke="#a50f15" stroke-width="0.3"><use href="#k36"/><use href="#k42"/><use href="#k56"/><use href="#k57"/><use href="#k58"/><use href="#k59"/><use href="#k60"/><use href="#k61"/><use href="#k62"/><use href="#k63"/><use href="#k64"/><use href="#k65"/><use href="#k67"/><use href="#k114"/><use href="#k183"/><use href="#k184"/><use href="#k185"/><use href="#k186"/><use href="#k187"/><use href="#k188"/><use href="#k190"/><use href="#k191"/><use href="#k192"/><use href="#k193"/><use href="#k194"/><use href="#k195"/><use href="#k196"/><use href="#k197"/></g>
<use href="#cl"/>
<path d="M180.2,152.6 l2.6,-1.6 l1.6,0.8 l-1.4,1.9 l-2.4,0.6Z M185.6,149.6 l2.3,-1.3 l1.3,0.9 l-1.5,1.6 l-2,0.3Z" fill="#ffffff" stroke="#6a5a55" stroke-width="0.3"/>
<path d="M156.4,180.6 l1.8,-0.9 l1.6,0.9 l0.5,2.4 l1.2,2 l-1.8,0.7 l-2,-1 l-0.9,-2Z" fill="#ffffff" stroke="#6a5a55" stroke-width="0.3"/>
<path d="M93.6,158.6 l2.2,-2.6 l3.2,-1.2 l1.4,1.4 l-2.4,2.6 l-3.2,1.6Z" fill="#fee5d9" stroke="#7a6f6a" stroke-width="0.35"/>
<path class="cb" d="M117.2,102.5 118.0,105.0 118.3,106.7 119.2,109.1 119.6,112.0 121.2,114.1 123.9,116.6 125.2,118.1 126.5,119.7 127.2,123.2 128.2,125.6 128.3,126.7 129.2,129.2 130.6,130.6 131.2,132.4 132.2,135.2 134.5,137.3 135.2,139.2 133.2,136.1 135.2,138.1 M143.2,130.7 145.2,134.1 146.4,135.8 148.6,138.1 150.6,140.6 151.9,142.1 153.9,142.8 155.2,144.8 158.5,145.8 160.6,146.1 162.7,146.5 164.5,146.3 167.3,146.8 169.4,147.0 171.0,147.2 173.2,146.3 175.3,146.8 172.6,148.8 171.1,151.1 170.0,152.1 168.5,154.1 167.3,155.5 167.0,157.7 168.0,160.2 169.1,162.9 171.3,164.8 173.7,167.5 172.6,169.3 170.6,170.9 168.0,172.9 166.6,176.2 164.9,176.9 161.9,176.9 159.5,176.9 157.9,177.8 156.2,179.2 153.9,179.6 151.9,181.6 153.9,184.3 156.6,186.9 157.3,189.6 158.6,190.9 158.8,193.7 157.9,196.3 154.6,197.6 151.5,198.5 149.9,199.0 147.9,199.5 145.2,201.0 143.2,201.8 141.2,203.7 138.5,205.7 137.3,203.9 135.8,201.7 132.5,200.3 130.9,200.5 128.5,201.7 126.4,201.6 123.8,202.3 120.4,203.7 117.1,205.0 115.6,204.1 113.7,202.3 112.0,201.4 109.7,200.3 107.8,200.3 105.7,199.0 105.5,197.3 104.4,195.0 106.4,193.0 103.7,190.3 102.4,189.6 103.0,187.8 105.0,185.6 106.0,184.0 108.4,182.2 110.8,181.4 112.4,179.6 114.6,178.7 116.4,176.9 118.1,174.7 119.8,173.6 117.8,170.2 116.0,167.4 115.1,165.5 113.2,162.4 112.8,160.2 114.2,158.1 114.4,156.1 116.8,154.9 119.1,153.2 120.7,152.0 123.8,150.1 126.6,149.1 128.5,147.4 131.8,145.8 133.8,144.8 136.5,142.1 136.5,139.9 135.2,138.1 135.9,136.4 137.8,134.7 141.2,133.4 143.2,130.7 M71.1,204.3 73.4,203.2 76.1,203.3 78.5,202.1 80.8,201.7 82.1,200.3 84.1,200.3 86.1,198.3 88.1,198.3 91.4,197.8 93.2,197.3 95.6,195.1 97.2,193.3 99.0,191.4 100.6,191.6 102.4,189.6 M151.9,181.6 153.9,179.6 156.2,179.2 157.9,177.8 159.5,176.9 161.9,176.9 164.9,176.9 166.6,176.2 165.5,179.5 165.9,181.6 166.0,183.5 167.3,186.3 166.3,188.9 165.9,190.9 165.5,192.9 165.9,196.3 164.0,196.4 161.9,197.0 159.9,196.7 157.9,196.3 158.8,193.7 158.6,190.9 157.3,189.6 156.6,186.9 153.9,184.3 151.9,181.6 M173.7,167.5 175.4,168.8 177.3,169.5 179.9,170.2 182.0,171.5 184.1,172.4 187.4,174.2 188.0,177.6 186.2,178.1 183.3,178.9 181.7,179.8 178.7,180.9 179.1,183.3 179.3,185.6 180.8,189.1 182.0,190.9 183.4,192.6 184.0,195.6 186.1,197.4 186.7,199.0 190.1,197.6 192.6,196.9 194.1,197.0 194.5,198.6 194.7,201.7 194.4,203.6 194.1,205.7 194.7,209.0 197.4,211.0 198.6,212.8 200.8,213.7 M173.7,167.5 172.6,169.3 170.6,170.9 168.0,172.9 166.6,176.2 165.5,179.5 165.9,181.6 166.0,183.5 167.3,186.3 166.3,188.9 165.9,190.9 165.5,192.9 165.9,196.3 164.0,196.4 161.9,197.0 159.9,196.7 157.9,196.3 155.9,197.0 155.2,200.3 156.2,203.1 156.6,205.7 156.0,207.6 155.9,211.0 155.9,213.9 157.2,216.4 157.9,215.0 M157.9,215.0 157.9,217.4 158.6,219.0 157.9,222.4 155.9,225.0 153.9,228.4 152.6,231.1 152.6,232.6 153.2,235.1 153.1,237.1 152.6,239.1 153.3,240.6 153.9,243.1 155.2,241.5 156.6,239.8 158.7,237.9 160.0,235.7 161.1,234.1 162.8,235.2 164.1,237.1 166.3,238.6 168.1,240.1 169.1,242.2 170.1,245.1 173.1,246.1 175.1,245.0 177.1,244.1 178.9,242.7 181.1,242.1 183.1,240.9 186.2,240.1 188.4,239.7 190.2,240.1 M182.1,209.0 184.1,207.0 188.8,205.9 193.9,206.3 193.5,208.3 188.8,209.0 184.8,209.7 182.1,209.0 M173.7,167.5 177.4,167.5 179.9,167.3 182.1,166.2 184.0,165.3 186.8,164.2 188.9,162.7 192.1,162.2 194.3,160.8 197.5,159.5 198.8,157.8 201.5,156.1 204.2,154.8 205.9,154.8 208.2,155.5 209.9,156.4 212.2,156.1 214.9,156.8 216.2,154.1 217.9,152.6 219.6,151.5 222.0,149.9 224.3,148.8 226.4,147.3 229.6,146.1 231.8,144.7 233.6,144.1 236.3,142.8 M214.9,156.8 215.6,160.2 217.6,160.9 218.9,162.8 222.0,163.9 224.3,164.8 226.1,165.3 228.3,166.8 229.0,168.2 229.6,170.9 229.4,173.3 228.3,176.2 227.6,178.7 226.9,181.6 226.6,184.1 226.3,185.6 226.4,187.4 228.3,189.6 230.3,191.0 231.6,193.0 233.1,194.1 235.0,195.6 237.6,198.3 240.2,198.2 241.7,199.0 243.7,198.7 245.7,197.6 M133.2,215.0 134.1,218.2 133.8,220.3 134.9,223.0 135.8,224.4 135.5,226.4 136.5,228.4 135.4,230.6 133.8,232.4 135.2,235.1 137.8,237.8 140.5,240.4 141.6,242.8 141.8,244.4 142.4,246.5 143.9,248.5 145.9,251.8 149.2,252.5 151.2,249.1 153.2,246.5 153.9,243.1 M133.8,232.4 130.5,234.4 127.8,237.1 127.6,239.8 127.1,241.8 127.3,244.1 126.5,246.5 126.0,248.7 124.5,250.5 123.1,251.9 121.1,253.2 118.4,255.8 M47.1,245.1 50.3,246.0 51.8,247.1 53.8,247.4 57.1,247.8 59.1,248.2 61.6,247.2 63.1,247.1 65.3,247.7 67.8,247.1 71.2,249.1 72.0,251.1 73.9,253.2 76.5,255.8 79.9,257.2 83.2,258.5 84.0,260.2 85.9,261.9 87.9,265.2 89.3,265.9 91.9,266.5 94.2,265.7 97.3,265.9 98.8,266.2 101.3,266.5 104.0,264.5 106.7,262.5 109.7,262.1 112.0,261.9 115.3,261.5 117.4,261.2 119.4,257.8 118.4,255.8 M118.4,255.8 117.8,259.2 119.5,260.1 121.1,261.9 121.9,264.0 123.1,265.9 124.5,267.2 125.8,269.9 127.7,270.8 129.1,272.6 130.5,275.9 131.1,278.1 132.5,279.9 134.5,280.6 136.0,278.9 137.8,277.9 141.2,276.6 143.8,275.6 145.9,275.9 147.9,276.3 149.9,275.2 149.4,277.1 148.6,280.6 147.7,283.1 146.5,285.9 146.6,288.6 145.2,291.3 144.3,293.5 143.9,296.7 M104.0,264.5 104.5,266.0 105.3,268.6 106.8,269.9 108.0,272.6 108.5,274.8 108.7,277.9 107.7,279.7 106.7,281.9 106.8,284.5 106.0,287.3 106.0,290.1 105.3,292.0 103.3,294.1 102.0,295.3 100.0,298.0 M57.8,304.1 61.1,303.4 63.4,302.5 65.2,302.8 67.4,302.5 70.5,301.4 72.6,301.1 75.9,300.1 77.8,299.5 79.9,298.7 83.2,296.7 85.9,294.1 89.3,292.7 90.8,292.4 93.3,290.7 96.0,288.7 98.0,291.4 100.0,294.7 100.0,297.4 M100.0,297.4 103.1,298.4 105.3,299.4 108.0,302.1 106.7,304.1 109.2,305.6 110.7,307.4 112.6,308.5 114.7,310.8 116.2,312.4 118.7,313.5 121.2,315.0 122.7,315.5 123.8,317.5 125.4,318.8 125.7,320.2 M46.4,326.2 48.4,328.9 51.8,330.9 53.4,331.8 55.1,333.6 58.5,334.9 61.2,334.2 63.8,334.9 67.2,334.4 69.2,334.2 72.6,334.3 74.5,333.6 77.9,332.2 81.2,331.5 82.8,331.8 85.2,330.9 87.1,330.0 89.3,328.9 90.7,328.4 93.3,328.2 95.5,328.6 97.3,328.9 99.3,331.5 101.6,332.5 103.3,332.2 106.7,333.6 108.7,336.2 112.0,336.9 114.7,336.2 M138.5,205.7 135.2,207.0 132.7,208.2 131.1,208.3 130.8,210.9 130.5,212.4 133.2,215.0"/>
<use href="#ob" class="ob"/>
<path d="M221.2,219.6 l2.6,-2.4 l4.4,-0.6 l2.4,0.8 l-1,2.8 l-3.6,1.8 l-3.6,0.4Z" fill="#fff" stroke="#000" stroke-width="0.5"/>
<circle cx="223.6" cy="219.6" r="0.9"/><circle cx="226.8" cy="219.9" r="0.8"/><path d="M229.5,216.4 l3.6,-2.2 l0.8,1 l-3,2.3Z"/>
</g>
<g clip-path="url(#c2)" fill="none" stroke="#6cc9ec" stroke-width="0.85" stroke-opacity="0.72">
<path d="M580.8,16.0 589.0,412.0 M615.8,16.0 628.1,412.0 M650.7,16.0 667.2,412.0 M685.7,16.0 706.3,412.0 M720.7,16.0 745.5,412.0 M755.7,16.0 784.6,412.0 M790.7,16.0 823.7,412.0 M825.7,16.0 862.8,412.0 M860.7,16.0 902.0,412.0 M895.6,16.0 941.1,412.0 M930.6,16.0 980.2,412.0 M611.5,476.3 640.7,475.5 670.0,474.4 699.2,473.0 728.4,471.5 757.6,469.7 786.9,467.7 816.1,465.5 845.3,463.0 874.6,460.3 903.8,457.4 M611.5,428.4 640.7,427.5 670.0,426.4 699.2,425.1 728.4,423.5 757.6,421.7 786.9,419.7 816.1,417.4 845.3,414.9 874.6,412.2 903.8,409.2 M611.5,380.5 640.7,379.6 670.0,378.5 699.2,377.1 728.4,375.5 757.6,373.7 786.9,371.6 816.1,369.3 845.3,366.8 874.6,364.1 903.8,361.1 M611.5,332.6 640.7,331.7 670.0,330.5 699.2,329.1 728.4,327.5 757.6,325.7 786.9,323.6 816.1,321.3 845.3,318.7 874.6,315.9 903.8,312.9 M611.5,284.7 640.7,283.7 670.0,282.6 699.2,281.2 728.4,279.5 757.6,277.7 786.9,275.6 816.1,273.2 845.3,270.6 874.6,267.8 903.8,264.7 M611.5,236.8 640.7,235.8 670.0,234.6 699.2,233.2 728.4,231.6 757.6,229.7 786.9,227.5 816.1,225.1 845.3,222.5 874.6,219.6 903.8,216.5 M611.5,188.8 640.7,187.9 670.0,186.7 699.2,185.3 728.4,183.6 757.6,181.6 786.9,179.5 816.1,177.1 845.3,174.4 874.6,171.5 903.8,168.3 M611.5,140.9 640.7,139.9 670.0,138.7 699.2,137.3 728.4,135.6 757.6,133.6 786.9,131.4 816.1,129.0 845.3,126.3 874.6,123.3 903.8,120.1 M611.5,93.0 640.7,92.0 670.0,90.8 699.2,89.3 728.4,87.6 757.6,85.6 786.9,83.4 816.1,80.9 845.3,78.2 874.6,75.2 903.8,71.9 M611.5,45.1 640.7,44.1 670.0,42.8 699.2,41.3 728.4,39.6 757.6,37.6 786.9,35.3 816.1,32.8 845.3,30.0 874.6,27.0 903.8,23.7 M611.5,-2.8 640.7,-3.9 670.0,-5.1 699.2,-6.6 728.4,-8.4 757.6,-10.5 786.9,-12.7 816.1,-15.3 845.3,-18.1 874.6,-21.2 903.8,-24.5"/>
</g>
<rect x="615.5" y="18.0" width="284.3" height="392.0" fill="none" stroke="#2181ab" stroke-width="1.35"/>
<text class="g" x="615.8" y="15.4" text-anchor="middle">113°</text>
<text class="g" x="628.0" y="416.2" text-anchor="middle">113°</text>
<text class="g" x="650.8" y="15.4" text-anchor="middle">114°</text>
<text class="g" x="667.1" y="416.2" text-anchor="middle">114°</text>
<text class="g" x="685.8" y="15.4" text-anchor="middle">115°</text>
<text class="g" x="706.2" y="416.2" text-anchor="middle">115°</text>
<text class="g" x="720.8" y="15.4" text-anchor="middle">116°</text>
<text class="g" x="745.3" y="416.2" text-anchor="middle">116°</text>
<text class="g" x="755.8" y="15.4" text-anchor="middle">117°</text>
<text class="g" x="784.4" y="416.2" text-anchor="middle">117°</text>
<text class="g" x="790.9" y="15.4" text-anchor="middle">118°</text>
<text class="g" x="823.5" y="416.2" text-anchor="middle">118°</text>
<text class="g" x="825.9" y="15.4" text-anchor="middle">119°</text>
<text class="g" x="862.6" y="416.2" text-anchor="middle">119°</text>
<text class="g" x="860.9" y="15.4" text-anchor="middle">120°</text>
<text class="g" x="895.9" y="15.4" text-anchor="middle">121°</text>
<text class="g" transform="translate(906.4,409.7) rotate(-90)" text-anchor="middle">35°</text>
<text class="g" transform="translate(612.3,380.4) rotate(-90)" text-anchor="middle">36°</text>
<text class="g" transform="translate(906.4,361.5) rotate(-90)" text-anchor="middle">36°</text>
<text class="g" transform="translate(612.3,332.5) rotate(-90)" text-anchor="middle">37°</text>
<text class="g" transform="translate(906.4,313.3) rotate(-90)" text-anchor="middle">37°</text>
<text class="g" transform="translate(612.3,284.6) rotate(-90)" text-anchor="middle">38°</text>
<text class="g" transform="translate(906.4,265.2) rotate(-90)" text-anchor="middle">38°</text>
<text class="g" transform="translate(612.3,236.6) rotate(-90)" text-anchor="middle">39°</text>
<text class="g" transform="translate(906.4,217.0) rotate(-90)" text-anchor="middle">39°</text>
<text class="g" transform="translate(612.3,188.7) rotate(-90)" text-anchor="middle">40°</text>
<text class="g" transform="translate(906.4,168.8) rotate(-90)" text-anchor="middle">40°</text>
<text class="g" transform="translate(612.3,140.8) rotate(-90)" text-anchor="middle">41°</text>
<text class="g" transform="translate(906.4,120.6) rotate(-90)" text-anchor="middle">41°</text>
<text class="g" transform="translate(612.3,92.9) rotate(-90)" text-anchor="middle">42°</text>
<text class="g" transform="translate(906.4,72.4) rotate(-90)" text-anchor="middle">42°</text>
<text class="g" transform="translate(612.3,45.0) rotate(-90)" text-anchor="middle">43°</text>
<text class="g" transform="translate(906.4,24.2) rotate(-90)" text-anchor="middle">43°</text>
<text class="g" transform="translate(884.3,417.0) rotate(-90)" text-anchor="middle">35°</text>
<text class="g" x="903.2" y="388.4">120°</text>
<text class="g" x="903.2" y="49.2">121°</text>
<text class="lt" x="782.9" y="303.1" textLength="99.8" lengthAdjust="spacingAndGlyphs">BCE_2010 (10,000t)</text>
<rect x="797.0" y="313.0" width="15.8" height="7.5" fill="#fee5d9" stroke="#9a8f8c" stroke-width="0.5"/>
<text class="ll" x="815.3" y="320.5">0&lt;BCE≤10</text>
<rect x="797.0" y="328.6" width="15.8" height="7.5" fill="#fcbba1" stroke="#9a8f8c" stroke-width="0.5"/>
<text class="ll" x="815.3" y="336.1">10&lt;BCE≤20</text>
<rect x="797.0" y="344.3" width="15.8" height="7.5" fill="#fc9272" stroke="#9a8f8c" stroke-width="0.5"/>
<text class="ll" x="815.3" y="351.8">20&lt;BCE≤50</text>
<rect x="797.0" y="359.9" width="15.8" height="7.5" fill="#fb6a4a" stroke="#9a8f8c" stroke-width="0.5"/>
<text class="ll" x="815.3" y="367.4">50&lt;BCE≤80</text>
<rect x="797.0" y="375.6" width="15.8" height="7.5" fill="#de2d26" stroke="#9a8f8c" stroke-width="0.5"/>
<text class="ll" x="815.3" y="383.1">80&lt;BCE≤100</text>
<rect x="797.0" y="391.2" width="15.8" height="7.5" fill="#a50f15" stroke="#9a8f8c" stroke-width="0.5"/>
<text class="ll" x="815.3" y="398.7">100&lt;BCE≤939</text>
</g>
<g id="panel4">
<clipPath id="c3"><rect x="12.7" y="432.6" width="275.9" height="392.4"/></clipPath>
<rect x="12.7" y="432.6" width="275.9" height="392.4" fill="#fff"/>
<g transform="translate(1.00,416.00)">
<use href="#ob" fill="#fc9272"/>
<g fill="#fee5d9" stroke="#fee5d9" stroke-width="0.3"><use href="#k0"/></g>
<g fill="#fcbba1" stroke="#fcbba1" stroke-width="0.3"><use href="#k1"/><use href="#k2"/><use href="#k3"/><use href="#k13"/><use href="#k16"/><use href="#k17"/><use href="#k69"/><use href="#k96"/><use href="#k97"/><use href="#k102"/><use href="#k105"/><use href="#k108"/><use href="#k109"/><use href="#k113"/></g>
<g fill="#fc9272" stroke="#fc9272" stroke-width="0.3"><use href="#k6"/><use href="#k7"/><use href="#k8"/><use href="#k9"/><use href="#k10"/><use href="#k11"/><use href="#k12"/><use href="#k14"/><use href="#k15"/><use href="#k18"/><use href="#k19"/><use href="#k20"/><use href="#k21"/><use href="#k22"/><use href="#k23"/><use href="#k24"/><use href="#k25"/><use href="#k26"/><use href="#k27"/><use href="#k28"/><use href="#k29"/><use href="#k30"/><use href="#k31"/><use href="#k33"/><use href="#k35"/><use href="#k37"/><use href="#k41"/><use href="#k49"/><use href="#k71"/><use href="#k72"/><use href="#k74"/><use href="#k76"/><use href="#k77"/><use href="#k78"/><use href="#k79"/><use href="#k82"/><use href="#k84"/><use href="#k85"/><use href="#k87"/><use href="#k88"/><use href="#k90"/><use href="#k91"/><use href="#k93"/><use href="#k94"/><use href="#k98"/><use href="#k99"/><use href="#k100"/><use href="#k101"/><use href="#k103"/><use href="#k104"/><use href="#k106"/><use href="#k107"/><use href="#k110"/><use href="#k111"/><use href="#k112"/><use href="#k119"/><use href="#k120"/><use href="#k122"/><use href="#k124"/><use href="#k127"/><use href="#k128"/><use href="#k130"/><use href="#k131"/><use href="#k138"/><use href="#k139"/><use href="#k141"/><use href="#k142"/><use href="#k145"/><use href="#k152"/><use href="#k153"/><use href="#k154"/><use href="#k157"/><use href="#k158"/><use href="#k159"/><use href="#k160"/><use href="#k162"/><use href="#k164"/><use href="#k165"/><use href="#k172"/><use href="#k176"/><use href="#k179"/><use href="#k180"/><use href="#k181"/><use href="#k204"/><use href="#k205"/><use href="#k206"/><use href="#k208"/></g>
<g fill="#fb6a4a" stroke="#fb6a4a" stroke-width="0.3"><use href="#k4"/><use href="#k5"/><use href="#k32"/><use href="#k38"/><use href="#k39"/><use href="#k45"/><use href="#k47"/><use href="#k51"/><use href="#k52"/><use href="#k53"/><use href="#k54"/><use href="#k73"/><use href="#k75"/><use href="#k80"/><use href="#k81"/><use href="#k83"/><use href="#k86"/><use href="#k89"/><use href="#k92"/><use href="#k95"/><use href="#k117"/><use href="#k118"/><use href="#k121"/><use href="#k123"/><use href="#k125"/><use href="#k126"/><use href="#k129"/><use href="#k132"/><use href="#k133"/><use href="#k140"/><use href="#k143"/><use href="#k144"/><use href="#k146"/><use href="#k147"/><use href="#k148"/><use href="#k149"/><use href="#k150"/><use href="#k151"/><use href="#k155"/><use href="#k161"/><use href="#k163"/><use href="#k166"/><use href="#k167"/><use href="#k168"/><use href="#k169"/><use href="#k170"/><use href="#k171"/><use href="#k173"/><use href="#k174"/><use href="#k175"/><use href="#k177"/><use href="#k178"/><use href="#k189"/><use href="#k198"/><use href="#k199"/><use href="#k200"/><use href="#k202"/><use href="#k203"/><use href="#k207"/></g>
<g fill="#de2d26" stroke="#de2d26" stroke-width="0.3"><use href="#k34"/><use href="#k40"/><use href="#k43"/><use href="#k44"/><use href="#k46"/><use href="#k48"/><use href="#k50"/><use href="#k68"/><use href="#k70"/><use href="#k115"/><use href="#k116"/><use href="#k134"/><use href="#k136"/><use href="#k137"/><use href="#k182"/><use href="#k201"/><use href="#k209"/></g>
<g fill="#a50f15" stroke="#a50f15" stroke-width="0.3"><use href="#k36"/><use href="#k42"/><use href="#k55"/><use href="#k56"/><use href="#k57"/><use href="#k58"/><use href="#k59"/><use href="#k60"/><use href="#k61"/><use href="#k62"/><use href="#k63"/><use href="#k64"/><use href="#k65"/><use href="#k66"/><use href="#k67"/><use href="#k114"/><use href="#k135"/><use href="#k156"/><use href="#k183"/><use href="#k184"/><use href="#k185"/><use href="#k186"/><use href="#k187"/><use href="#k188"/><use href="#k190"/><use href="#k191"/><use href="#k192"/><use href="#k193"/><use href="#k194"/><use href="#k195"/><use href="#k196"/><use href="#k197"/></g>
<use href="#cl"/>
<path d="M180.2,152.6 l2.6,-1.6 l1.6,0.8 l-1.4,1.9 l-2.4,0.6Z M185.6,149.6 l2.3,-1.3 l1.3,0.9 l-1.5,1.6 l-2,0.3Z" fill="#ffffff" stroke="#6a5a55" stroke-width="0.3"/>
<path d="M156.4,180.6 l1.8,-0.9 l1.6,0.9 l0.5,2.4 l1.2,2 l-1.8,0.7 l-2,-1 l-0.9,-2Z" fill="#ffffff" stroke="#6a5a55" stroke-width="0.3"/>
<path d="M93.6,158.6 l2.2,-2.6 l3.2,-1.2 l1.4,1.4 l-2.4,2.6 l-3.2,1.6Z" fill="#fee5d9" stroke="#7a6f6a" stroke-width="0.35"/>
<path class="cb" d="M117.2,102.5 118.0,105.0 118.3,106.7 119.2,109.1 119.6,112.0 121.2,114.1 123.9,116.6 125.2,118.1 126.5,119.7 127.2,123.2 128.2,125.6 128.3,126.7 129.2,129.2 130.6,130.6 131.2,132.4 132.2,135.2 134.5,137.3 135.2,139.2 133.2,136.1 135.2,138.1 M143.2,130.7 145.2,134.1 146.4,135.8 148.6,138.1 150.6,140.6 151.9,142.1 153.9,142.8 155.2,144.8 158.5,145.8 160.6,146.1 162.7,146.5 164.5,146.3 167.3,146.8 169.4,147.0 171.0,147.2 173.2,146.3 175.3,146.8 172.6,148.8 171.1,151.1 170.0,152.1 168.5,154.1 167.3,155.5 167.0,157.7 168.0,160.2 169.1,162.9 171.3,164.8 173.7,167.5 172.6,169.3 170.6,170.9 168.0,172.9 166.6,176.2 164.9,176.9 161.9,176.9 159.5,176.9 157.9,177.8 156.2,179.2 153.9,179.6 151.9,181.6 153.9,184.3 156.6,186.9 157.3,189.6 158.6,190.9 158.8,193.7 157.9,196.3 154.6,197.6 151.5,198.5 149.9,199.0 147.9,199.5 145.2,201.0 143.2,201.8 141.2,203.7 138.5,205.7 137.3,203.9 135.8,201.7 132.5,200.3 130.9,200.5 128.5,201.7 126.4,201.6 123.8,202.3 120.4,203.7 117.1,205.0 115.6,204.1 113.7,202.3 112.0,201.4 109.7,200.3 107.8,200.3 105.7,199.0 105.5,197.3 104.4,195.0 106.4,193.0 103.7,190.3 102.4,189.6 103.0,187.8 105.0,185.6 106.0,184.0 108.4,182.2 110.8,181.4 112.4,179.6 114.6,178.7 116.4,176.9 118.1,174.7 119.8,173.6 117.8,170.2 116.0,167.4 115.1,165.5 113.2,162.4 112.8,160.2 114.2,158.1 114.4,156.1 116.8,154.9 119.1,153.2 120.7,152.0 123.8,150.1 126.6,149.1 128.5,147.4 131.8,145.8 133.8,144.8 136.5,142.1 136.5,139.9 135.2,138.1 135.9,136.4 137.8,134.7 141.2,133.4 143.2,130.7 M71.1,204.3 73.4,203.2 76.1,203.3 78.5,202.1 80.8,201.7 82.1,200.3 84.1,200.3 86.1,198.3 88.1,198.3 91.4,197.8 93.2,197.3 95.6,195.1 97.2,193.3 99.0,191.4 100.6,191.6 102.4,189.6 M151.9,181.6 153.9,179.6 156.2,179.2 157.9,177.8 159.5,176.9 161.9,176.9 164.9,176.9 166.6,176.2 165.5,179.5 165.9,181.6 166.0,183.5 167.3,186.3 166.3,188.9 165.9,190.9 165.5,192.9 165.9,196.3 164.0,196.4 161.9,197.0 159.9,196.7 157.9,196.3 158.8,193.7 158.6,190.9 157.3,189.6 156.6,186.9 153.9,184.3 151.9,181.6 M173.7,167.5 175.4,168.8 177.3,169.5 179.9,170.2 182.0,171.5 184.1,172.4 187.4,174.2 188.0,177.6 186.2,178.1 183.3,178.9 181.7,179.8 178.7,180.9 179.1,183.3 179.3,185.6 180.8,189.1 182.0,190.9 183.4,192.6 184.0,195.6 186.1,197.4 186.7,199.0 190.1,197.6 192.6,196.9 194.1,197.0 194.5,198.6 194.7,201.7 194.4,203.6 194.1,205.7 194.7,209.0 197.4,211.0 198.6,212.8 200.8,213.7 M173.7,167.5 172.6,169.3 170.6,170.9 168.0,172.9 166.6,176.2 165.5,179.5 165.9,181.6 166.0,183.5 167.3,186.3 166.3,188.9 165.9,190.9 165.5,192.9 165.9,196.3 164.0,196.4 161.9,197.0 159.9,196.7 157.9,196.3 155.9,197.0 155.2,200.3 156.2,203.1 156.6,205.7 156.0,207.6 155.9,211.0 155.9,213.9 157.2,216.4 157.9,215.0 M157.9,215.0 157.9,217.4 158.6,219.0 157.9,222.4 155.9,225.0 153.9,228.4 152.6,231.1 152.6,232.6 153.2,235.1 153.1,237.1 152.6,239.1 153.3,240.6 153.9,243.1 155.2,241.5 156.6,239.8 158.7,237.9 160.0,235.7 161.1,234.1 162.8,235.2 164.1,237.1 166.3,238.6 168.1,240.1 169.1,242.2 170.1,245.1 173.1,246.1 175.1,245.0 177.1,244.1 178.9,242.7 181.1,242.1 183.1,240.9 186.2,240.1 188.4,239.7 190.2,240.1 M182.1,209.0 184.1,207.0 188.8,205.9 193.9,206.3 193.5,208.3 188.8,209.0 184.8,209.7 182.1,209.0 M173.7,167.5 177.4,167.5 179.9,167.3 182.1,166.2 184.0,165.3 186.8,164.2 188.9,162.7 192.1,162.2 194.3,160.8 197.5,159.5 198.8,157.8 201.5,156.1 204.2,154.8 205.9,154.8 208.2,155.5 209.9,156.4 212.2,156.1 214.9,156.8 216.2,154.1 217.9,152.6 219.6,151.5 222.0,149.9 224.3,148.8 226.4,147.3 229.6,146.1 231.8,144.7 233.6,144.1 236.3,142.8 M214.9,156.8 215.6,160.2 217.6,160.9 218.9,162.8 222.0,163.9 224.3,164.8 226.1,165.3 228.3,166.8 229.0,168.2 229.6,170.9 229.4,173.3 228.3,176.2 227.6,178.7 226.9,181.6 226.6,184.1 226.3,185.6 226.4,187.4 228.3,189.6 230.3,191.0 231.6,193.0 233.1,194.1 235.0,195.6 237.6,198.3 240.2,198.2 241.7,199.0 243.7,198.7 245.7,197.6 M133.2,215.0 134.1,218.2 133.8,220.3 134.9,223.0 135.8,224.4 135.5,226.4 136.5,228.4 135.4,230.6 133.8,232.4 135.2,235.1 137.8,237.8 140.5,240.4 141.6,242.8 141.8,244.4 142.4,246.5 143.9,248.5 145.9,251.8 149.2,252.5 151.2,249.1 153.2,246.5 153.9,243.1 M133.8,232.4 130.5,234.4 127.8,237.1 127.6,239.8 127.1,241.8 127.3,244.1 126.5,246.5 126.0,248.7 124.5,250.5 123.1,251.9 121.1,253.2 118.4,255.8 M47.1,245.1 50.3,246.0 51.8,247.1 53.8,247.4 57.1,247.8 59.1,248.2 61.6,247.2 63.1,247.1 65.3,247.7 67.8,247.1 71.2,249.1 72.0,251.1 73.9,253.2 76.5,255.8 79.9,257.2 83.2,258.5 84.0,260.2 85.9,261.9 87.9,265.2 89.3,265.9 91.9,266.5 94.2,265.7 97.3,265.9 98.8,266.2 101.3,266.5 104.0,264.5 106.7,262.5 109.7,262.1 112.0,261.9 115.3,261.5 117.4,261.2 119.4,257.8 118.4,255.8 M118.4,255.8 117.8,259.2 119.5,260.1 121.1,261.9 121.9,264.0 123.1,265.9 124.5,267.2 125.8,269.9 127.7,270.8 129.1,272.6 130.5,275.9 131.1,278.1 132.5,279.9 134.5,280.6 136.0,278.9 137.8,277.9 141.2,276.6 143.8,275.6 145.9,275.9 147.9,276.3 149.9,275.2 149.4,277.1 148.6,280.6 147.7,283.1 146.5,285.9 146.6,288.6 145.2,291.3 144.3,293.5 143.9,296.7 M104.0,264.5 104.5,266.0 105.3,268.6 106.8,269.9 108.0,272.6 108.5,274.8 108.7,277.9 107.7,279.7 106.7,281.9 106.8,284.5 106.0,287.3 106.0,290.1 105.3,292.0 103.3,294.1 102.0,295.3 100.0,298.0 M57.8,304.1 61.1,303.4 63.4,302.5 65.2,302.8 67.4,302.5 70.5,301.4 72.6,301.1 75.9,300.1 77.8,299.5 79.9,298.7 83.2,296.7 85.9,294.1 89.3,292.7 90.8,292.4 93.3,290.7 96.0,288.7 98.0,291.4 100.0,294.7 100.0,297.4 M100.0,297.4 103.1,298.4 105.3,299.4 108.0,302.1 106.7,304.1 109.2,305.6 110.7,307.4 112.6,308.5 114.7,310.8 116.2,312.4 118.7,313.5 121.2,315.0 122.7,315.5 123.8,317.5 125.4,318.8 125.7,320.2 M46.4,326.2 48.4,328.9 51.8,330.9 53.4,331.8 55.1,333.6 58.5,334.9 61.2,334.2 63.8,334.9 67.2,334.4 69.2,334.2 72.6,334.3 74.5,333.6 77.9,332.2 81.2,331.5 82.8,331.8 85.2,330.9 87.1,330.0 89.3,328.9 90.7,328.4 93.3,328.2 95.5,328.6 97.3,328.9 99.3,331.5 101.6,332.5 103.3,332.2 106.7,333.6 108.7,336.2 112.0,336.9 114.7,336.2 M138.5,205.7 135.2,207.0 132.7,208.2 131.1,208.3 130.8,210.9 130.5,212.4 133.2,215.0"/>
<use href="#ob" class="ob"/>
<path d="M221.2,219.6 l2.6,-2.4 l4.4,-0.6 l2.4,0.8 l-1,2.8 l-3.6,1.8 l-3.6,0.4Z" fill="#fff" stroke="#000" stroke-width="0.5"/>
<circle cx="223.6" cy="219.6" r="0.9"/><circle cx="226.8" cy="219.9" r="0.8"/><path d="M229.5,216.4 l3.6,-2.2 l0.8,1 l-3,2.3Z"/>
</g>
<g clip-path="url(#c3)" fill="none" stroke="#6cc9ec" stroke-width="0.85" stroke-opacity="0.72">
<path d="M-26.2,430.6 -18.0,827.0 M8.8,430.6 21.1,827.0 M43.7,430.6 60.2,827.0 M78.7,430.6 99.3,827.0 M113.7,430.6 138.5,827.0 M148.7,430.6 177.6,827.0 M183.7,430.6 216.7,827.0 M218.7,430.6 255.9,827.0 M253.7,430.6 295.0,827.0 M288.6,430.6 334.1,827.0 M323.6,430.6 373.2,827.0 M8.7,890.9 37.1,890.0 65.5,888.9 93.9,887.6 122.3,886.1 150.7,884.3 179.0,882.4 207.4,880.2 235.8,877.9 264.2,875.3 292.6,872.5 M8.7,843.0 37.1,842.1 65.5,841.0 93.9,839.6 122.3,838.1 150.7,836.3 179.0,834.4 207.4,832.2 235.8,829.8 264.2,827.2 292.6,824.3 M8.7,795.0 37.1,794.1 65.5,793.0 93.9,791.7 122.3,790.1 150.7,788.3 179.0,786.3 207.4,784.1 235.8,781.7 264.2,779.0 292.6,776.2 M8.7,747.1 37.1,746.2 65.5,745.1 93.9,743.7 122.3,742.1 150.7,740.3 179.0,738.3 207.4,736.1 235.8,733.6 264.2,730.9 292.6,728.0 M8.7,699.2 37.1,698.3 65.5,697.1 93.9,695.7 122.3,694.1 150.7,692.3 179.0,690.3 207.4,688.0 235.8,685.5 264.2,682.8 292.6,679.8 M8.7,651.3 37.1,650.3 65.5,649.2 93.9,647.8 122.3,646.2 150.7,644.3 179.0,642.2 207.4,639.9 235.8,637.4 264.2,634.6 292.6,631.7 M8.7,603.4 37.1,602.4 65.5,601.2 93.9,599.8 122.3,598.2 150.7,596.3 179.0,594.2 207.4,591.9 235.8,589.3 264.2,586.5 292.6,583.5 M8.7,555.4 37.1,554.5 65.5,553.3 93.9,551.8 122.3,550.2 150.7,548.3 179.0,546.1 207.4,543.8 235.8,541.2 264.2,538.3 292.6,535.3 M8.7,507.5 37.1,506.5 65.5,505.3 93.9,503.9 122.3,502.2 150.7,500.3 179.0,498.1 207.4,495.7 235.8,493.1 264.2,490.2 292.6,487.1 M8.7,459.6 37.1,458.6 65.5,457.4 93.9,455.9 122.3,454.2 150.7,452.2 179.0,450.0 207.4,447.6 235.8,444.9 264.2,442.0 292.6,438.8 M8.7,411.7 37.1,410.7 65.5,409.4 93.9,407.9 122.3,406.2 150.7,404.2 179.0,402.0 207.4,399.5 235.8,396.8 264.2,393.8 292.6,390.6"/>
</g>
<rect x="12.7" y="432.6" width="275.9" height="392.4" fill="none" stroke="#2181ab" stroke-width="1.35"/>
<text class="g" x="21.0" y="831.2" text-anchor="middle">113°</text>
<text class="g" x="43.8" y="430.0" text-anchor="middle">114°</text>
<text class="g" x="60.1" y="831.2" text-anchor="middle">114°</text>
<text class="g" x="78.8" y="430.0" text-anchor="middle">115°</text>
<text class="g" x="99.2" y="831.2" text-anchor="middle">115°</text>
<text class="g" x="113.8" y="430.0" text-anchor="middle">116°</text>
<text class="g" x="138.3" y="831.2" text-anchor="middle">116°</text>
<text class="g" x="148.8" y="430.0" text-anchor="middle">117°</text>
<text class="g" x="177.5" y="831.2" text-anchor="middle">117°</text>
<text class="g" x="183.9" y="430.0" text-anchor="middle">118°</text>
<text class="g" x="216.6" y="831.2" text-anchor="middle">118°</text>
<text class="g" x="218.9" y="430.0" text-anchor="middle">119°</text>
<text class="g" x="255.7" y="831.2" text-anchor="middle">119°</text>
<text class="g" x="253.9" y="430.0" text-anchor="middle">120°</text>
<text class="g" transform="translate(295.2,824.7) rotate(-90)" text-anchor="middle">35°</text>
<text class="g" transform="translate(9.5,794.9) rotate(-90)" text-anchor="middle">36°</text>
<text class="g" transform="translate(295.2,776.6) rotate(-90)" text-anchor="middle">36°</text>
<text class="g" transform="translate(9.5,747.0) rotate(-90)" text-anchor="middle">37°</text>
<text class="g" transform="translate(295.2,728.4) rotate(-90)" text-anchor="middle">37°</text>
<text class="g" transform="translate(9.5,699.1) rotate(-90)" text-anchor="middle">38°</text>
<text class="g" transform="translate(295.2,680.3) rotate(-90)" text-anchor="middle">38°</text>
<text class="g" transform="translate(9.5,651.2) rotate(-90)" text-anchor="middle">39°</text>
<text class="g" transform="translate(295.2,632.1) rotate(-90)" text-anchor="middle">39°</text>
<text class="g" transform="translate(9.5,603.2) rotate(-90)" text-anchor="middle">40°</text>
<text class="g" transform="translate(295.2,583.9) rotate(-90)" text-anchor="middle">40°</text>
<text class="g" transform="translate(9.5,555.3) rotate(-90)" text-anchor="middle">41°</text>
<text class="g" transform="translate(295.2,535.7) rotate(-90)" text-anchor="middle">41°</text>
<text class="g" transform="translate(9.5,507.4) rotate(-90)" text-anchor="middle">42°</text>
<text class="g" transform="translate(295.2,487.5) rotate(-90)" text-anchor="middle">42°</text>
<text class="g" transform="translate(9.5,459.5) rotate(-90)" text-anchor="middle">43°</text>
<text class="g" transform="translate(295.2,439.3) rotate(-90)" text-anchor="middle">43°</text>
<text class="g" transform="translate(273.1,832.0) rotate(-90)" text-anchor="middle">35°</text>
<text class="g" x="292.0" y="762.7">120°</text>
<text class="lt" x="170.5" y="717.1" textLength="99.5" lengthAdjust="spacingAndGlyphs">BCE_2015 (10,000t)</text>
<rect x="186.0" y="728.6" width="15.5" height="7.5" fill="#fee5d9" stroke="#9a8f8c" stroke-width="0.5"/>
<text class="ll" x="204.4" y="736.1">0&lt;BCE≤10</text>
<rect x="186.0" y="744.3" width="15.5" height="7.5" fill="#fcbba1" stroke="#9a8f8c" stroke-width="0.5"/>
<text class="ll" x="204.4" y="751.8">10&lt;BCE≤20</text>
<rect x="186.0" y="759.9" width="15.5" height="7.5" fill="#fc9272" stroke="#9a8f8c" stroke-width="0.5"/>
<text class="ll" x="204.4" y="767.4">20&lt;BCE≤50</text>
<rect x="186.0" y="775.6" width="15.5" height="7.5" fill="#fb6a4a" stroke="#9a8f8c" stroke-width="0.5"/>
<text class="ll" x="204.4" y="783.1">50&lt;BCE≤80</text>
<rect x="186.0" y="791.2" width="15.5" height="7.5" fill="#de2d26" stroke="#9a8f8c" stroke-width="0.5"/>
<text class="ll" x="204.4" y="798.7">80&lt;BCE≤100</text>
<rect x="186.0" y="806.9" width="15.5" height="7.5" fill="#a50f15" stroke="#9a8f8c" stroke-width="0.5"/>
<text class="ll" x="204.4" y="814.4">100&lt;BCE≤966</text>
</g>
<g id="panel5">
<clipPath id="c4"><rect x="308.5" y="433.8" width="285.1" height="392.4"/></clipPath>
<rect x="308.5" y="433.8" width="285.1" height="392.4" fill="#fff"/>
<g transform="translate(301.30,417.35)">
<use href="#ob" fill="#fc9272"/>
<g fill="#fcbba1" stroke="#fcbba1" stroke-width="0.3"><use href="#k0"/><use href="#k3"/><use href="#k16"/><use href="#k17"/><use href="#k69"/><use href="#k96"/><use href="#k97"/><use href="#k102"/><use href="#k105"/><use href="#k108"/><use href="#k109"/><use href="#k113"/></g>
<g fill="#fc9272" stroke="#fc9272" stroke-width="0.3"><use href="#k1"/><use href="#k2"/><use href="#k6"/><use href="#k7"/><use href="#k9"/><use href="#k10"/><use href="#k11"/><use href="#k12"/><use href="#k13"/><use href="#k14"/><use href="#k15"/><use href="#k18"/><use href="#k19"/><use href="#k20"/><use href="#k21"/><use href="#k22"/><use href="#k23"/><use href="#k24"/><use href="#k25"/><use href="#k26"/><use href="#k27"/><use href="#k28"/><use href="#k29"/><use href="#k30"/><use href="#k31"/><use href="#k33"/><use href="#k35"/><use href="#k37"/><use href="#k41"/><use href="#k49"/><use href="#k71"/><use href="#k72"/><use href="#k74"/><use href="#k76"/><use href="#k77"/><use href="#k78"/><use href="#k79"/><use href="#k82"/><use href="#k84"/><use href="#k85"/><use href="#k87"/><use href="#k88"/><use href="#k90"/><use href="#k91"/><use href="#k93"/><use href="#k94"/><use href="#k98"/><use href="#k99"/><use href="#k100"/><use href="#k101"/><use href="#k103"/><use href="#k104"/><use href="#k106"/><use href="#k107"/><use href="#k110"/><use href="#k111"/><use href="#k112"/><use href="#k119"/><use href="#k120"/><use href="#k122"/><use href="#k124"/><use href="#k127"/><use href="#k128"/><use href="#k130"/><use href="#k131"/><use href="#k138"/><use href="#k139"/><use href="#k141"/><use href="#k142"/><use href="#k145"/><use href="#k152"/><use href="#k153"/><use href="#k154"/><use href="#k157"/><use href="#k158"/><use href="#k159"/><use href="#k160"/><use href="#k162"/><use href="#k164"/><use href="#k165"/><use href="#k172"/><use href="#k176"/><use href="#k179"/><use href="#k180"/><use href="#k181"/><use href="#k189"/><use href="#k204"/><use href="#k205"/><use href="#k206"/><use href="#k208"/></g>
<g fill="#fb6a4a" stroke="#fb6a4a" stroke-width="0.3"><use href="#k4"/><use href="#k5"/><use href="#k8"/><use href="#k32"/><use href="#k38"/><use href="#k39"/><use href="#k45"/><use href="#k47"/><use href="#k51"/><use href="#k52"/><use href="#k53"/><use href="#k54"/><use href="#k73"/><use href="#k75"/><use href="#k80"/><use href="#k81"/><use href="#k83"/><use href="#k86"/><use href="#k89"/><use href="#k92"/><use href="#k95"/><use href="#k118"/><use href="#k121"/><use href="#k123"/><use href="#k125"/><use href="#k126"/><use href="#k129"/><use href="#k132"/><use href="#k133"/><use href="#k140"/><use href="#k143"/><use href="#k144"/><use href="#k146"/><use href="#k147"/><use href="#k148"/><use href="#k149"/><use href="#k150"/><use href="#k151"/><use href="#k155"/><use href="#k161"/><use href="#k163"/><use href="#k166"/><use href="#k167"/><use href="#k168"/><use href="#k169"/><use href="#k170"/><use href="#k171"/><use href="#k173"/><use href="#k174"/><use href="#k175"/><use href="#k177"/><use href="#k178"/><use href="#k182"/><use href="#k198"/><use href="#k199"/><use href="#k200"/><use href="#k202"/><use href="#k203"/><use href="#k207"/></g>
<g fill="#de2d26" stroke="#de2d26" stroke-width="0.3"><use href="#k34"/><use href="#k40"/><use href="#k43"/><use href="#k44"/><use href="#k46"/><use href="#k48"/><use href="#k50"/><use href="#k68"/><use href="#k70"/><use href="#k116"/><use href="#k117"/><use href="#k137"/><use href="#k209"/></g>
<g fill="#a50f15" stroke="#a50f15" stroke-width="0.3"><use href="#k36"/><use href="#k42"/><use href="#k55"/><use href="#k56"/><use href="#k57"/><use href="#k58"/><use href="#k59"/><use href="#k60"/><use href="#k61"/><use href="#k62"/><use href="#k63"/><use href="#k64"/><use href="#k65"/><use href="#k66"/><use href="#k67"/><use href="#k114"/><use href="#k115"/><use href="#k134"/><use href="#k135"/><use href="#k136"/><use href="#k156"/><use href="#k183"/><use href="#k184"/><use href="#k185"/><use href="#k186"/><use href="#k187"/><use href="#k188"/><use href="#k190"/><use href="#k191"/><use href="#k192"/><use href="#k193"/><use href="#k194"/><use href="#k195"/><use href="#k196"/><use href="#k197"/><use href="#k201"/></g>
<use href="#cl"/>
<path d="M180.2,152.6 l2.6,-1.6 l1.6,0.8 l-1.4,1.9 l-2.4,0.6Z M185.6,149.6 l2.3,-1.3 l1.3,0.9 l-1.5,1.6 l-2,0.3Z" fill="#ffffff" stroke="#6a5a55" stroke-width="0.3"/>
<path d="M156.4,180.6 l1.8,-0.9 l1.6,0.9 l0.5,2.4 l1.2,2 l-1.8,0.7 l-2,-1 l-0.9,-2Z" fill="#ffffff" stroke="#6a5a55" stroke-width="0.3"/>
<path d="M93.6,158.6 l2.2,-2.6 l3.2,-1.2 l1.4,1.4 l-2.4,2.6 l-3.2,1.6Z" fill="#fee5d9" stroke="#7a6f6a" stroke-width="0.35"/>
<path class="cb" d="M117.2,102.5 118.0,105.0 118.3,106.7 119.2,109.1 119.6,112.0 121.2,114.1 123.9,116.6 125.2,118.1 126.5,119.7 127.2,123.2 128.2,125.6 128.3,126.7 129.2,129.2 130.6,130.6 131.2,132.4 132.2,135.2 134.5,137.3 135.2,139.2 133.2,136.1 135.2,138.1 M143.2,130.7 145.2,134.1 146.4,135.8 148.6,138.1 150.6,140.6 151.9,142.1 153.9,142.8 155.2,144.8 158.5,145.8 160.6,146.1 162.7,146.5 164.5,146.3 167.3,146.8 169.4,147.0 171.0,147.2 173.2,146.3 175.3,146.8 172.6,148.8 171.1,151.1 170.0,152.1 168.5,154.1 167.3,155.5 167.0,157.7 168.0,160.2 169.1,162.9 171.3,164.8 173.7,167.5 172.6,169.3 170.6,170.9 168.0,172.9 166.6,176.2 164.9,176.9 161.9,176.9 159.5,176.9 157.9,177.8 156.2,179.2 153.9,179.6 151.9,181.6 153.9,184.3 156.6,186.9 157.3,189.6 158.6,190.9 158.8,193.7 157.9,196.3 154.6,197.6 151.5,198.5 149.9,199.0 147.9,199.5 145.2,201.0 143.2,201.8 141.2,203.7 138.5,205.7 137.3,203.9 135.8,201.7 132.5,200.3 130.9,200.5 128.5,201.7 126.4,201.6 123.8,202.3 120.4,203.7 117.1,205.0 115.6,204.1 113.7,202.3 112.0,201.4 109.7,200.3 107.8,200.3 105.7,199.0 105.5,197.3 104.4,195.0 106.4,193.0 103.7,190.3 102.4,189.6 103.0,187.8 105.0,185.6 106.0,184.0 108.4,182.2 110.8,181.4 112.4,179.6 114.6,178.7 116.4,176.9 118.1,174.7 119.8,173.6 117.8,170.2 116.0,167.4 115.1,165.5 113.2,162.4 112.8,160.2 114.2,158.1 114.4,156.1 116.8,154.9 119.1,153.2 120.7,152.0 123.8,150.1 126.6,149.1 128.5,147.4 131.8,145.8 133.8,144.8 136.5,142.1 136.5,139.9 135.2,138.1 135.9,136.4 137.8,134.7 141.2,133.4 143.2,130.7 M71.1,204.3 73.4,203.2 76.1,203.3 78.5,202.1 80.8,201.7 82.1,200.3 84.1,200.3 86.1,198.3 88.1,198.3 91.4,197.8 93.2,197.3 95.6,195.1 97.2,193.3 99.0,191.4 100.6,191.6 102.4,189.6 M151.9,181.6 153.9,179.6 156.2,179.2 157.9,177.8 159.5,176.9 161.9,176.9 164.9,176.9 166.6,176.2 165.5,179.5 165.9,181.6 166.0,183.5 167.3,186.3 166.3,188.9 165.9,190.9 165.5,192.9 165.9,196.3 164.0,196.4 161.9,197.0 159.9,196.7 157.9,196.3 158.8,193.7 158.6,190.9 157.3,189.6 156.6,186.9 153.9,184.3 151.9,181.6 M173.7,167.5 175.4,168.8 177.3,169.5 179.9,170.2 182.0,171.5 184.1,172.4 187.4,174.2 188.0,177.6 186.2,178.1 183.3,178.9 181.7,179.8 178.7,180.9 179.1,183.3 179.3,185.6 180.8,189.1 182.0,190.9 183.4,192.6 184.0,195.6 186.1,197.4 186.7,199.0 190.1,197.6 192.6,196.9 194.1,197.0 194.5,198.6 194.7,201.7 194.4,203.6 194.1,205.7 194.7,209.0 197.4,211.0 198.6,212.8 200.8,213.7 M173.7,167.5 172.6,169.3 170.6,170.9 168.0,172.9 166.6,176.2 165.5,179.5 165.9,181.6 166.0,183.5 167.3,186.3 166.3,188.9 165.9,190.9 165.5,192.9 165.9,196.3 164.0,196.4 161.9,197.0 159.9,196.7 157.9,196.3 155.9,197.0 155.2,200.3 156.2,203.1 156.6,205.7 156.0,207.6 155.9,211.0 155.9,213.9 157.2,216.4 157.9,215.0 M157.9,215.0 157.9,217.4 158.6,219.0 157.9,222.4 155.9,225.0 153.9,228.4 152.6,231.1 152.6,232.6 153.2,235.1 153.1,237.1 152.6,239.1 153.3,240.6 153.9,243.1 155.2,241.5 156.6,239.8 158.7,237.9 160.0,235.7 161.1,234.1 162.8,235.2 164.1,237.1 166.3,238.6 168.1,240.1 169.1,242.2 170.1,245.1 173.1,246.1 175.1,245.0 177.1,244.1 178.9,242.7 181.1,242.1 183.1,240.9 186.2,240.1 188.4,239.7 190.2,240.1 M182.1,209.0 184.1,207.0 188.8,205.9 193.9,206.3 193.5,208.3 188.8,209.0 184.8,209.7 182.1,209.0 M173.7,167.5 177.4,167.5 179.9,167.3 182.1,166.2 184.0,165.3 186.8,164.2 188.9,162.7 192.1,162.2 194.3,160.8 197.5,159.5 198.8,157.8 201.5,156.1 204.2,154.8 205.9,154.8 208.2,155.5 209.9,156.4 212.2,156.1 214.9,156.8 216.2,154.1 217.9,152.6 219.6,151.5 222.0,149.9 224.3,148.8 226.4,147.3 229.6,146.1 231.8,144.7 233.6,144.1 236.3,142.8 M214.9,156.8 215.6,160.2 217.6,160.9 218.9,162.8 222.0,163.9 224.3,164.8 226.1,165.3 228.3,166.8 229.0,168.2 229.6,170.9 229.4,173.3 228.3,176.2 227.6,178.7 226.9,181.6 226.6,184.1 226.3,185.6 226.4,187.4 228.3,189.6 230.3,191.0 231.6,193.0 233.1,194.1 235.0,195.6 237.6,198.3 240.2,198.2 241.7,199.0 243.7,198.7 245.7,197.6 M133.2,215.0 134.1,218.2 133.8,220.3 134.9,223.0 135.8,224.4 135.5,226.4 136.5,228.4 135.4,230.6 133.8,232.4 135.2,235.1 137.8,237.8 140.5,240.4 141.6,242.8 141.8,244.4 142.4,246.5 143.9,248.5 145.9,251.8 149.2,252.5 151.2,249.1 153.2,246.5 153.9,243.1 M133.8,232.4 130.5,234.4 127.8,237.1 127.6,239.8 127.1,241.8 127.3,244.1 126.5,246.5 126.0,248.7 124.5,250.5 123.1,251.9 121.1,253.2 118.4,255.8 M47.1,245.1 50.3,246.0 51.8,247.1 53.8,247.4 57.1,247.8 59.1,248.2 61.6,247.2 63.1,247.1 65.3,247.7 67.8,247.1 71.2,249.1 72.0,251.1 73.9,253.2 76.5,255.8 79.9,257.2 83.2,258.5 84.0,260.2 85.9,261.9 87.9,265.2 89.3,265.9 91.9,266.5 94.2,265.7 97.3,265.9 98.8,266.2 101.3,266.5 104.0,264.5 106.7,262.5 109.7,262.1 112.0,261.9 115.3,261.5 117.4,261.2 119.4,257.8 118.4,255.8 M118.4,255.8 117.8,259.2 119.5,260.1 121.1,261.9 121.9,264.0 123.1,265.9 124.5,267.2 125.8,269.9 127.7,270.8 129.1,272.6 130.5,275.9 131.1,278.1 132.5,279.9 134.5,280.6 136.0,278.9 137.8,277.9 141.2,276.6 143.8,275.6 145.9,275.9 147.9,276.3 149.9,275.2 149.4,277.1 148.6,280.6 147.7,283.1 146.5,285.9 146.6,288.6 145.2,291.3 144.3,293.5 143.9,296.7 M104.0,264.5 104.5,266.0 105.3,268.6 106.8,269.9 108.0,272.6 108.5,274.8 108.7,277.9 107.7,279.7 106.7,281.9 106.8,284.5 106.0,287.3 106.0,290.1 105.3,292.0 103.3,294.1 102.0,295.3 100.0,298.0 M57.8,304.1 61.1,303.4 63.4,302.5 65.2,302.8 67.4,302.5 70.5,301.4 72.6,301.1 75.9,300.1 77.8,299.5 79.9,298.7 83.2,296.7 85.9,294.1 89.3,292.7 90.8,292.4 93.3,290.7 96.0,288.7 98.0,291.4 100.0,294.7 100.0,297.4 M100.0,297.4 103.1,298.4 105.3,299.4 108.0,302.1 106.7,304.1 109.2,305.6 110.7,307.4 112.6,308.5 114.7,310.8 116.2,312.4 118.7,313.5 121.2,315.0 122.7,315.5 123.8,317.5 125.4,318.8 125.7,320.2 M46.4,326.2 48.4,328.9 51.8,330.9 53.4,331.8 55.1,333.6 58.5,334.9 61.2,334.2 63.8,334.9 67.2,334.4 69.2,334.2 72.6,334.3 74.5,333.6 77.9,332.2 81.2,331.5 82.8,331.8 85.2,330.9 87.1,330.0 89.3,328.9 90.7,328.4 93.3,328.2 95.5,328.6 97.3,328.9 99.3,331.5 101.6,332.5 103.3,332.2 106.7,333.6 108.7,336.2 112.0,336.9 114.7,336.2 M138.5,205.7 135.2,207.0 132.7,208.2 131.1,208.3 130.8,210.9 130.5,212.4 133.2,215.0"/>
<use href="#ob" class="ob"/>
<path d="M221.2,219.6 l2.6,-2.4 l4.4,-0.6 l2.4,0.8 l-1,2.8 l-3.6,1.8 l-3.6,0.4Z" fill="#fff" stroke="#000" stroke-width="0.5"/>
<circle cx="223.6" cy="219.6" r="0.9"/><circle cx="226.8" cy="219.9" r="0.8"/><path d="M229.5,216.4 l3.6,-2.2 l0.8,1 l-3,2.3Z"/>
</g>
<g clip-path="url(#c4)" fill="none" stroke="#6cc9ec" stroke-width="0.85" stroke-opacity="0.72">
<path d="M274.1,431.8 282.3,828.2 M309.1,431.8 321.4,828.2 M344.0,431.8 360.5,828.2 M379.0,431.8 399.6,828.2 M414.0,431.8 438.8,828.2 M449.0,431.8 477.9,828.2 M484.0,431.8 517.0,828.2 M519.0,431.8 556.1,828.2 M553.9,431.8 595.3,828.2 M588.9,431.8 634.4,828.2 M623.9,431.8 673.5,828.2 M304.5,892.3 333.8,891.5 363.1,890.4 392.4,889.0 421.7,887.5 451.1,885.7 480.4,883.7 509.7,881.4 539.0,879.0 568.3,876.3 597.6,873.4 M304.5,844.4 333.8,843.5 363.1,842.4 392.4,841.1 421.7,839.5 451.1,837.7 480.4,835.7 509.7,833.4 539.0,830.9 568.3,828.2 597.6,825.2 M304.5,796.5 333.8,795.6 363.1,794.5 392.4,793.1 421.7,791.5 451.1,789.7 480.4,787.6 509.7,785.3 539.0,782.8 568.3,780.0 597.6,777.0 M304.5,748.6 333.8,747.7 363.1,746.5 392.4,745.1 421.7,743.5 451.1,741.7 480.4,739.6 509.7,737.3 539.0,734.7 568.3,731.9 597.6,728.9 M304.5,700.7 333.8,699.8 363.1,698.6 392.4,697.2 421.7,695.5 451.1,693.7 480.4,691.5 509.7,689.2 539.0,686.6 568.3,683.8 597.6,680.7 M304.5,652.8 333.8,651.8 363.1,650.6 392.4,649.2 421.7,647.6 451.1,645.7 480.4,643.5 509.7,641.1 539.0,638.5 568.3,635.6 597.6,632.5 M304.5,604.8 333.8,603.9 363.1,602.7 392.4,601.3 421.7,599.6 451.1,597.6 480.4,595.5 509.7,593.0 539.0,590.4 568.3,587.5 597.6,584.3 M304.5,556.9 333.8,556.0 363.1,554.7 392.4,553.3 421.7,551.6 451.1,549.6 480.4,547.4 509.7,545.0 539.0,542.2 568.3,539.3 597.6,536.1 M304.5,509.0 333.8,508.0 363.1,506.8 392.4,505.3 421.7,503.6 451.1,501.6 480.4,499.4 509.7,496.9 539.0,494.1 568.3,491.1 597.6,487.9 M304.5,461.1 333.8,460.1 363.1,458.8 392.4,457.3 421.7,455.6 451.1,453.6 480.4,451.3 509.7,448.8 539.0,446.0 568.3,442.9 597.6,439.6 M304.5,413.2 333.8,412.2 363.1,410.9 392.4,409.4 421.7,407.6 451.1,405.5 480.4,403.2 509.7,400.7 539.0,397.9 568.3,394.8 597.6,391.4"/>
</g>
<rect x="308.5" y="433.8" width="285.1" height="392.4" fill="none" stroke="#2181ab" stroke-width="1.35"/>
<text class="g" x="309.1" y="431.2" text-anchor="middle">113°</text>
<text class="g" x="321.3" y="832.4" text-anchor="middle">113°</text>
<text class="g" x="344.1" y="431.2" text-anchor="middle">114°</text>
<text class="g" x="360.4" y="832.4" text-anchor="middle">114°</text>
<text class="g" x="379.1" y="431.2" text-anchor="middle">115°</text>
<text class="g" x="399.5" y="832.4" text-anchor="middle">115°</text>
<text class="g" x="414.1" y="431.2" text-anchor="middle">116°</text>
<text class="g" x="438.6" y="832.4" text-anchor="middle">116°</text>
<text class="g" x="449.1" y="431.2" text-anchor="middle">117°</text>
<text class="g" x="477.7" y="832.4" text-anchor="middle">117°</text>
<text class="g" x="484.1" y="431.2" text-anchor="middle">118°</text>
<text class="g" x="516.9" y="832.4" text-anchor="middle">118°</text>
<text class="g" x="519.1" y="431.2" text-anchor="middle">119°</text>
<text class="g" x="556.0" y="832.4" text-anchor="middle">119°</text>
<text class="g" x="554.1" y="431.2" text-anchor="middle">120°</text>
<text class="g" x="589.2" y="431.2" text-anchor="middle">121°</text>
<text class="g" transform="translate(600.2,825.6) rotate(-90)" text-anchor="middle">35°</text>
<text class="g" transform="translate(305.3,796.4) rotate(-90)" text-anchor="middle">36°</text>
<text class="g" transform="translate(600.2,777.5) rotate(-90)" text-anchor="middle">36°</text>
<text class="g" transform="translate(305.3,748.5) rotate(-90)" text-anchor="middle">37°</text>
<text class="g" transform="translate(600.2,729.3) rotate(-90)" text-anchor="middle">37°</text>
<text class="g" transform="translate(305.3,700.6) rotate(-90)" text-anchor="middle">38°</text>
<text class="g" transform="translate(600.2,681.1) rotate(-90)" text-anchor="middle">38°</text>
<text class="g" transform="translate(305.3,652.6) rotate(-90)" text-anchor="middle">39°</text>
<text class="g" transform="translate(600.2,632.9) rotate(-90)" text-anchor="middle">39°</text>
<text class="g" transform="translate(305.3,604.7) rotate(-90)" text-anchor="middle">40°</text>
<text class="g" transform="translate(600.2,584.7) rotate(-90)" text-anchor="middle">40°</text>
<text class="g" transform="translate(305.3,556.8) rotate(-90)" text-anchor="middle">41°</text>
<text class="g" transform="translate(600.2,536.5) rotate(-90)" text-anchor="middle">41°</text>
<text class="g" transform="translate(305.3,508.9) rotate(-90)" text-anchor="middle">42°</text>
<text class="g" transform="translate(600.2,488.3) rotate(-90)" text-anchor="middle">42°</text>
<text class="g" transform="translate(305.3,461.0) rotate(-90)" text-anchor="middle">43°</text>
<text class="g" transform="translate(600.2,440.1) rotate(-90)" text-anchor="middle">43°</text>
<text class="g" transform="translate(578.1,833.2) rotate(-90)" text-anchor="middle">35°</text>
<text class="g" x="597.0" y="809.2">120°</text>
<text class="g" x="597.0" y="469.6">121°</text>
<text class="lt" x="476.8" y="717.1" textLength="100.2" lengthAdjust="spacingAndGlyphs">BCE_2019 (10,000t)</text>
<rect x="487.7" y="728.6" width="15.4" height="7.5" fill="#fee5d9" stroke="#9a8f8c" stroke-width="0.5"/>
<text class="ll" x="506.1" y="736.1">0&lt;BCE≤10</text>
<rect x="487.7" y="744.3" width="15.4" height="7.5" fill="#fcbba1" stroke="#9a8f8c" stroke-width="0.5"/>
<text class="ll" x="506.1" y="751.8">10&lt;BCE≤20</text>
<rect x="487.7" y="759.9" width="15.4" height="7.5" fill="#fc9272" stroke="#9a8f8c" stroke-width="0.5"/>
<text class="ll" x="506.1" y="767.4">20&lt;BCE≤50</text>
<rect x="487.7" y="775.6" width="15.4" height="7.5" fill="#fb6a4a" stroke="#9a8f8c" stroke-width="0.5"/>
<text class="ll" x="506.1" y="783.1">50&lt;BCE≤80</text>
<rect x="487.7" y="791.2" width="15.4" height="7.5" fill="#de2d26" stroke="#9a8f8c" stroke-width="0.5"/>
<text class="ll" x="506.1" y="798.7">80&lt;BCE≤100</text>
<rect x="487.7" y="806.9" width="15.4" height="7.5" fill="#a50f15" stroke="#9a8f8c" stroke-width="0.5"/>
<text class="ll" x="506.1" y="814.4">100&lt;BCE≤668</text>
</g>
<g id="panel6">
<clipPath id="c5"><rect x="616.3" y="434.0" width="284.5" height="392.5"/></clipPath>
<rect x="616.3" y="434.0" width="284.5" height="392.5" fill="#fff"/>
<g transform="translate(608.70,417.10)">
<use href="#ob" fill="#fee08b"/>
<g fill="#d9ef8b" stroke="#d9ef8b" stroke-width="0.3"><use href="#k0"/><use href="#k6"/><use href="#k7"/><use href="#k37"/><use href="#k96"/><use href="#k97"/><use href="#k209"/></g>
<g fill="#fee08b" stroke="#fee08b" stroke-width="0.3"><use href="#k1"/><use href="#k2"/><use href="#k3"/><use href="#k4"/><use href="#k5"/><use href="#k8"/><use href="#k9"/><use href="#k10"/><use href="#k11"/><use href="#k12"/><use href="#k13"/><use href="#k14"/><use href="#k15"/><use href="#k16"/><use href="#k17"/><use href="#k18"/><use href="#k19"/><use href="#k20"/><use href="#k21"/><use href="#k22"/><use href="#k23"/><use href="#k24"/><use href="#k25"/><use href="#k26"/><use href="#k27"/><use href="#k28"/><use href="#k29"/><use href="#k30"/><use href="#k31"/><use href="#k33"/><use href="#k41"/><use href="#k50"/><use href="#k69"/><use href="#k71"/><use href="#k72"/><use href="#k74"/><use href="#k76"/><use href="#k77"/><use href="#k78"/><use href="#k79"/><use href="#k82"/><use href="#k84"/><use href="#k85"/><use href="#k87"/><use href="#k88"/><use href="#k90"/><use href="#k91"/><use href="#k92"/><use href="#k93"/><use href="#k94"/><use href="#k98"/><use href="#k99"/><use href="#k100"/><use href="#k101"/><use href="#k103"/><use href="#k104"/><use href="#k106"/><use href="#k107"/><use href="#k110"/><use href="#k111"/><use href="#k112"/><use href="#k121"/><use href="#k123"/><use href="#k125"/><use href="#k129"/><use href="#k133"/><use href="#k144"/><use href="#k147"/><use href="#k148"/><use href="#k149"/><use href="#k150"/><use href="#k151"/><use href="#k155"/><use href="#k158"/><use href="#k159"/><use href="#k160"/><use href="#k162"/><use href="#k164"/><use href="#k165"/><use href="#k172"/><use href="#k173"/><use href="#k176"/><use href="#k179"/><use href="#k180"/><use href="#k181"/><use href="#k189"/><use href="#k204"/><use href="#k205"/><use href="#k206"/><use href="#k208"/></g>
<g fill="#fc8d59" stroke="#fc8d59" stroke-width="0.3"><use href="#k32"/><use href="#k34"/><use href="#k35"/><use href="#k36"/><use href="#k38"/><use href="#k39"/><use href="#k40"/><use href="#k44"/><use href="#k45"/><use href="#k47"/><use href="#k48"/><use href="#k49"/><use href="#k51"/><use href="#k52"/><use href="#k53"/><use href="#k54"/><use href="#k70"/><use href="#k73"/><use href="#k75"/><use href="#k80"/><use href="#k81"/><use href="#k83"/><use href="#k86"/><use href="#k89"/><use href="#k95"/><use href="#k102"/><use href="#k105"/><use href="#k108"/><use href="#k109"/><use href="#k113"/><use href="#k116"/><use href="#k118"/><use href="#k119"/><use href="#k120"/><use href="#k122"/><use href="#k124"/><use href="#k126"/><use href="#k127"/><use href="#k128"/><use href="#k130"/><use href="#k131"/><use href="#k132"/><use href="#k137"/><use href="#k138"/><use href="#k139"/><use href="#k140"/><use href="#k141"/><use href="#k142"/><use href="#k143"/><use href="#k145"/><use href="#k146"/><use href="#k152"/><use href="#k153"/><use href="#k154"/><use href="#k157"/><use href="#k161"/><use href="#k163"/><use href="#k166"/><use href="#k167"/><use href="#k168"/><use href="#k169"/><use href="#k170"/><use href="#k171"/><use href="#k174"/><use href="#k175"/><use href="#k177"/><use href="#k178"/><use href="#k182"/><use href="#k202"/><use href="#k203"/><use href="#k207"/></g>
<g fill="#d73027" stroke="#d73027" stroke-width="0.3"><use href="#k42"/><use href="#k43"/><use href="#k46"/><use href="#k55"/><use href="#k56"/><use href="#k57"/><use href="#k58"/><use href="#k59"/><use href="#k60"/><use href="#k61"/><use href="#k62"/><use href="#k63"/><use href="#k64"/><use href="#k65"/><use href="#k66"/><use href="#k67"/><use href="#k68"/><use href="#k114"/><use href="#k115"/><use href="#k117"/><use href="#k134"/><use href="#k135"/><use href="#k136"/><use href="#k156"/><use href="#k183"/><use href="#k184"/><use href="#k185"/><use href="#k186"/><use href="#k187"/><use href="#k188"/><use href="#k190"/><use href="#k191"/><use href="#k192"/><use href="#k193"/><use href="#k194"/><use href="#k195"/><use href="#k196"/><use href="#k197"/><use href="#k198"/><use href="#k199"/><use href="#k200"/><use href="#k201"/></g>
<use href="#cl"/>
<path d="M180.2,152.6 l2.6,-1.6 l1.6,0.8 l-1.4,1.9 l-2.4,0.6Z M185.6,149.6 l2.3,-1.3 l1.3,0.9 l-1.5,1.6 l-2,0.3Z" fill="#91cf60" stroke="#6a5a55" stroke-width="0.3"/>
<path d="M156.4,180.6 l1.8,-0.9 l1.6,0.9 l0.5,2.4 l1.2,2 l-1.8,0.7 l-2,-1 l-0.9,-2Z" fill="#f7f3b0" stroke="#6a5a55" stroke-width="0.3"/>
<path d="M93.6,158.6 l2.2,-2.6 l3.2,-1.2 l1.4,1.4 l-2.4,2.6 l-3.2,1.6Z" fill="#91cf60" stroke="#7a6f6a" stroke-width="0.35"/>
<path class="cb" d="M117.2,102.5 118.0,105.0 118.3,106.7 119.2,109.1 119.6,112.0 121.2,114.1 123.9,116.6 125.2,118.1 126.5,119.7 127.2,123.2 128.2,125.6 128.3,126.7 129.2,129.2 130.6,130.6 131.2,132.4 132.2,135.2 134.5,137.3 135.2,139.2 133.2,136.1 135.2,138.1 M143.2,130.7 145.2,134.1 146.4,135.8 148.6,138.1 150.6,140.6 151.9,142.1 153.9,142.8 155.2,144.8 158.5,145.8 160.6,146.1 162.7,146.5 164.5,146.3 167.3,146.8 169.4,147.0 171.0,147.2 173.2,146.3 175.3,146.8 172.6,148.8 171.1,151.1 170.0,152.1 168.5,154.1 167.3,155.5 167.0,157.7 168.0,160.2 169.1,162.9 171.3,164.8 173.7,167.5 172.6,169.3 170.6,170.9 168.0,172.9 166.6,176.2 164.9,176.9 161.9,176.9 159.5,176.9 157.9,177.8 156.2,179.2 153.9,179.6 151.9,181.6 153.9,184.3 156.6,186.9 157.3,189.6 158.6,190.9 158.8,193.7 157.9,196.3 154.6,197.6 151.5,198.5 149.9,199.0 147.9,199.5 145.2,201.0 143.2,201.8 141.2,203.7 138.5,205.7 137.3,203.9 135.8,201.7 132.5,200.3 130.9,200.5 128.5,201.7 126.4,201.6 123.8,202.3 120.4,203.7 117.1,205.0 115.6,204.1 113.7,202.3 112.0,201.4 109.7,200.3 107.8,200.3 105.7,199.0 105.5,197.3 104.4,195.0 106.4,193.0 103.7,190.3 102.4,189.6 103.0,187.8 105.0,185.6 106.0,184.0 108.4,182.2 110.8,181.4 112.4,179.6 114.6,178.7 116.4,176.9 118.1,174.7 119.8,173.6 117.8,170.2 116.0,167.4 115.1,165.5 113.2,162.4 112.8,160.2 114.2,158.1 114.4,156.1 116.8,154.9 119.1,153.2 120.7,152.0 123.8,150.1 126.6,149.1 128.5,147.4 131.8,145.8 133.8,144.8 136.5,142.1 136.5,139.9 135.2,138.1 135.9,136.4 137.8,134.7 141.2,133.4 143.2,130.7 M71.1,204.3 73.4,203.2 76.1,203.3 78.5,202.1 80.8,201.7 82.1,200.3 84.1,200.3 86.1,198.3 88.1,198.3 91.4,197.8 93.2,197.3 95.6,195.1 97.2,193.3 99.0,191.4 100.6,191.6 102.4,189.6 M151.9,181.6 153.9,179.6 156.2,179.2 157.9,177.8 159.5,176.9 161.9,176.9 164.9,176.9 166.6,176.2 165.5,179.5 165.9,181.6 166.0,183.5 167.3,186.3 166.3,188.9 165.9,190.9 165.5,192.9 165.9,196.3 164.0,196.4 161.9,197.0 159.9,196.7 157.9,196.3 158.8,193.7 158.6,190.9 157.3,189.6 156.6,186.9 153.9,184.3 151.9,181.6 M173.7,167.5 175.4,168.8 177.3,169.5 179.9,170.2 182.0,171.5 184.1,172.4 187.4,174.2 188.0,177.6 186.2,178.1 183.3,178.9 181.7,179.8 178.7,180.9 179.1,183.3 179.3,185.6 180.8,189.1 182.0,190.9 183.4,192.6 184.0,195.6 186.1,197.4 186.7,199.0 190.1,197.6 192.6,196.9 194.1,197.0 194.5,198.6 194.7,201.7 194.4,203.6 194.1,205.7 194.7,209.0 197.4,211.0 198.6,212.8 200.8,213.7 M173.7,167.5 172.6,169.3 170.6,170.9 168.0,172.9 166.6,176.2 165.5,179.5 165.9,181.6 166.0,183.5 167.3,186.3 166.3,188.9 165.9,190.9 165.5,192.9 165.9,196.3 164.0,196.4 161.9,197.0 159.9,196.7 157.9,196.3 155.9,197.0 155.2,200.3 156.2,203.1 156.6,205.7 156.0,207.6 155.9,211.0 155.9,213.9 157.2,216.4 157.9,215.0 M157.9,215.0 157.9,217.4 158.6,219.0 157.9,222.4 155.9,225.0 153.9,228.4 152.6,231.1 152.6,232.6 153.2,235.1 153.1,237.1 152.6,239.1 153.3,240.6 153.9,243.1 155.2,241.5 156.6,239.8 158.7,237.9 160.0,235.7 161.1,234.1 162.8,235.2 164.1,237.1 166.3,238.6 168.1,240.1 169.1,242.2 170.1,245.1 173.1,246.1 175.1,245.0 177.1,244.1 178.9,242.7 181.1,242.1 183.1,240.9 186.2,240.1 188.4,239.7 190.2,240.1 M182.1,209.0 184.1,207.0 188.8,205.9 193.9,206.3 193.5,208.3 188.8,209.0 184.8,209.7 182.1,209.0 M173.7,167.5 177.4,167.5 179.9,167.3 182.1,166.2 184.0,165.3 186.8,164.2 188.9,162.7 192.1,162.2 194.3,160.8 197.5,159.5 198.8,157.8 201.5,156.1 204.2,154.8 205.9,154.8 208.2,155.5 209.9,156.4 212.2,156.1 214.9,156.8 216.2,154.1 217.9,152.6 219.6,151.5 222.0,149.9 224.3,148.8 226.4,147.3 229.6,146.1 231.8,144.7 233.6,144.1 236.3,142.8 M214.9,156.8 215.6,160.2 217.6,160.9 218.9,162.8 222.0,163.9 224.3,164.8 226.1,165.3 228.3,166.8 229.0,168.2 229.6,170.9 229.4,173.3 228.3,176.2 227.6,178.7 226.9,181.6 226.6,184.1 226.3,185.6 226.4,187.4 228.3,189.6 230.3,191.0 231.6,193.0 233.1,194.1 235.0,195.6 237.6,198.3 240.2,198.2 241.7,199.0 243.7,198.7 245.7,197.6 M133.2,215.0 134.1,218.2 133.8,220.3 134.9,223.0 135.8,224.4 135.5,226.4 136.5,228.4 135.4,230.6 133.8,232.4 135.2,235.1 137.8,237.8 140.5,240.4 141.6,242.8 141.8,244.4 142.4,246.5 143.9,248.5 145.9,251.8 149.2,252.5 151.2,249.1 153.2,246.5 153.9,243.1 M133.8,232.4 130.5,234.4 127.8,237.1 127.6,239.8 127.1,241.8 127.3,244.1 126.5,246.5 126.0,248.7 124.5,250.5 123.1,251.9 121.1,253.2 118.4,255.8 M47.1,245.1 50.3,246.0 51.8,247.1 53.8,247.4 57.1,247.8 59.1,248.2 61.6,247.2 63.1,247.1 65.3,247.7 67.8,247.1 71.2,249.1 72.0,251.1 73.9,253.2 76.5,255.8 79.9,257.2 83.2,258.5 84.0,260.2 85.9,261.9 87.9,265.2 89.3,265.9 91.9,266.5 94.2,265.7 97.3,265.9 98.8,266.2 101.3,266.5 104.0,264.5 106.7,262.5 109.7,262.1 112.0,261.9 115.3,261.5 117.4,261.2 119.4,257.8 118.4,255.8 M118.4,255.8 117.8,259.2 119.5,260.1 121.1,261.9 121.9,264.0 123.1,265.9 124.5,267.2 125.8,269.9 127.7,270.8 129.1,272.6 130.5,275.9 131.1,278.1 132.5,279.9 134.5,280.6 136.0,278.9 137.8,277.9 141.2,276.6 143.8,275.6 145.9,275.9 147.9,276.3 149.9,275.2 149.4,277.1 148.6,280.6 147.7,283.1 146.5,285.9 146.6,288.6 145.2,291.3 144.3,293.5 143.9,296.7 M104.0,264.5 104.5,266.0 105.3,268.6 106.8,269.9 108.0,272.6 108.5,274.8 108.7,277.9 107.7,279.7 106.7,281.9 106.8,284.5 106.0,287.3 106.0,290.1 105.3,292.0 103.3,294.1 102.0,295.3 100.0,298.0 M57.8,304.1 61.1,303.4 63.4,302.5 65.2,302.8 67.4,302.5 70.5,301.4 72.6,301.1 75.9,300.1 77.8,299.5 79.9,298.7 83.2,296.7 85.9,294.1 89.3,292.7 90.8,292.4 93.3,290.7 96.0,288.7 98.0,291.4 100.0,294.7 100.0,297.4 M100.0,297.4 103.1,298.4 105.3,299.4 108.0,302.1 106.7,304.1 109.2,305.6 110.7,307.4 112.6,308.5 114.7,310.8 116.2,312.4 118.7,313.5 121.2,315.0 122.7,315.5 123.8,317.5 125.4,318.8 125.7,320.2 M46.4,326.2 48.4,328.9 51.8,330.9 53.4,331.8 55.1,333.6 58.5,334.9 61.2,334.2 63.8,334.9 67.2,334.4 69.2,334.2 72.6,334.3 74.5,333.6 77.9,332.2 81.2,331.5 82.8,331.8 85.2,330.9 87.1,330.0 89.3,328.9 90.7,328.4 93.3,328.2 95.5,328.6 97.3,328.9 99.3,331.5 101.6,332.5 103.3,332.2 106.7,333.6 108.7,336.2 112.0,336.9 114.7,336.2 M138.5,205.7 135.2,207.0 132.7,208.2 131.1,208.3 130.8,210.9 130.5,212.4 133.2,215.0"/>
<use href="#ob" class="ob"/>
<path d="M221.2,219.6 l2.6,-2.4 l4.4,-0.6 l2.4,0.8 l-1,2.8 l-3.6,1.8 l-3.6,0.4Z" fill="#fff" stroke="#000" stroke-width="0.5"/>
<circle cx="223.6" cy="219.6" r="0.9"/><circle cx="226.8" cy="219.9" r="0.8"/><path d="M229.5,216.4 l3.6,-2.2 l0.8,1 l-3,2.3Z"/>
</g>
<g clip-path="url(#c5)" fill="none" stroke="#6cc9ec" stroke-width="0.85" stroke-opacity="0.72">
<path d="M581.5,432.0 589.7,828.5 M616.5,432.0 628.8,828.5 M651.5,432.0 667.9,828.5 M686.4,432.0 707.1,828.5 M721.4,432.0 746.2,828.5 M756.4,432.0 785.3,828.5 M791.4,432.0 824.5,828.5 M826.4,432.0 863.6,828.5 M861.4,432.0 902.7,828.5 M896.4,432.0 941.9,828.5 M931.4,432.0 981.0,828.5 M612.3,892.1 641.5,891.2 670.8,890.1 700.0,888.8 729.3,887.2 758.5,885.4 787.8,883.4 817.0,881.2 846.3,878.7 875.5,876.0 904.8,873.1 M612.3,844.2 641.5,843.3 670.8,842.2 700.0,840.8 729.3,839.2 758.5,837.4 787.8,835.4 817.0,833.1 846.3,830.6 875.5,827.9 904.8,825.0 M612.3,796.3 641.5,795.4 670.8,794.2 700.0,792.9 729.3,791.3 758.5,789.4 787.8,787.4 817.0,785.1 846.3,782.5 875.5,779.8 904.8,776.8 M612.3,748.3 641.5,747.4 670.8,746.3 700.0,744.9 729.3,743.3 758.5,741.4 787.8,739.3 817.0,737.0 846.3,734.5 875.5,731.7 904.8,728.6 M612.3,700.4 641.5,699.5 670.8,698.3 700.0,696.9 729.3,695.3 758.5,693.4 787.8,691.3 817.0,688.9 846.3,686.3 875.5,683.5 904.8,680.4 M612.3,652.5 641.5,651.6 670.8,650.4 700.0,649.0 729.3,647.3 758.5,645.4 787.8,643.3 817.0,640.9 846.3,638.2 875.5,635.4 904.8,632.3 M612.3,604.6 641.5,603.6 670.8,602.4 700.0,601.0 729.3,599.3 758.5,597.4 787.8,595.2 817.0,592.8 846.3,590.1 875.5,587.2 904.8,584.1 M612.3,556.7 641.5,555.7 670.8,554.5 700.0,553.0 729.3,551.3 758.5,549.4 787.8,547.2 817.0,544.7 846.3,542.0 875.5,539.1 904.8,535.9 M612.3,508.7 641.5,507.8 670.8,506.5 700.0,505.1 729.3,503.3 758.5,501.3 787.8,499.1 817.0,496.6 846.3,493.9 875.5,490.9 904.8,487.6 M612.3,460.8 641.5,459.8 670.8,458.6 700.0,457.1 729.3,455.3 758.5,453.3 787.8,451.0 817.0,448.5 846.3,445.7 875.5,442.7 904.8,439.4 M612.3,412.9 641.5,411.9 670.8,410.6 700.0,409.1 729.3,407.3 758.5,405.3 787.8,403.0 817.0,400.4 846.3,397.6 875.5,394.5 904.8,391.2"/>
</g>
<rect x="616.3" y="434.0" width="284.5" height="392.5" fill="none" stroke="#2181ab" stroke-width="1.35"/>
<text class="g" x="616.5" y="431.4" text-anchor="middle">113°</text>
<text class="g" x="628.7" y="832.7" text-anchor="middle">113°</text>
<text class="g" x="651.5" y="431.4" text-anchor="middle">114°</text>
<text class="g" x="667.9" y="832.7" text-anchor="middle">114°</text>
<text class="g" x="686.5" y="431.4" text-anchor="middle">115°</text>
<text class="g" x="707.0" y="832.7" text-anchor="middle">115°</text>
<text class="g" x="721.6" y="431.4" text-anchor="middle">116°</text>
<text class="g" x="746.1" y="832.7" text-anchor="middle">116°</text>
<text class="g" x="756.6" y="431.4" text-anchor="middle">117°</text>
<text class="g" x="785.2" y="832.7" text-anchor="middle">117°</text>
<text class="g" x="791.6" y="431.4" text-anchor="middle">118°</text>
<text class="g" x="824.3" y="832.7" text-anchor="middle">118°</text>
<text class="g" x="826.6" y="431.4" text-anchor="middle">119°</text>
<text class="g" x="863.4" y="832.7" text-anchor="middle">119°</text>
<text class="g" x="861.6" y="431.4" text-anchor="middle">120°</text>
<text class="g" x="896.6" y="431.4" text-anchor="middle">121°</text>
<text class="g" transform="translate(907.4,825.4) rotate(-90)" text-anchor="middle">35°</text>
<text class="g" transform="translate(613.1,796.1) rotate(-90)" text-anchor="middle">36°</text>
<text class="g" transform="translate(907.4,777.2) rotate(-90)" text-anchor="middle">36°</text>
<text class="g" transform="translate(613.1,748.2) rotate(-90)" text-anchor="middle">37°</text>
<text class="g" transform="translate(907.4,729.1) rotate(-90)" text-anchor="middle">37°</text>
<text class="g" transform="translate(613.1,700.3) rotate(-90)" text-anchor="middle">38°</text>
<text class="g" transform="translate(907.4,680.9) rotate(-90)" text-anchor="middle">38°</text>
<text class="g" transform="translate(613.1,652.4) rotate(-90)" text-anchor="middle">39°</text>
<text class="g" transform="translate(907.4,632.7) rotate(-90)" text-anchor="middle">39°</text>
<text class="g" transform="translate(613.1,604.5) rotate(-90)" text-anchor="middle">40°</text>
<text class="g" transform="translate(907.4,584.5) rotate(-90)" text-anchor="middle">40°</text>
<text class="g" transform="translate(613.1,556.5) rotate(-90)" text-anchor="middle">41°</text>
<text class="g" transform="translate(907.4,536.3) rotate(-90)" text-anchor="middle">41°</text>
<text class="g" transform="translate(613.1,508.6) rotate(-90)" text-anchor="middle">42°</text>
<text class="g" transform="translate(907.4,488.1) rotate(-90)" text-anchor="middle">42°</text>
<text class="g" transform="translate(613.1,460.7) rotate(-90)" text-anchor="middle">43°</text>
<text class="g" transform="translate(907.4,439.9) rotate(-90)" text-anchor="middle">43°</text>
<text class="g" transform="translate(885.3,833.5) rotate(-90)" text-anchor="middle">35°</text>
<text class="g" x="904.2" y="807.0">120°</text>
<text class="g" x="904.2" y="467.6">121°</text>
<text class="lt" x="805.3" y="703.8" textLength="77.5" lengthAdjust="spacingAndGlyphs">Change in BCE</text>
<text class="lt" x="805.3" y="716.9" textLength="44.0" lengthAdjust="spacingAndGlyphs">(10,000t)</text>
<rect x="792.0" y="727.8" width="15.3" height="7.5" fill="#1a9850" stroke="#9a8f8c" stroke-width="0.5"/>
<text class="ll" x="810.2" y="735.3">BCE≤0</text>
<rect x="792.0" y="743.4" width="15.3" height="7.5" fill="#91cf60" stroke="#9a8f8c" stroke-width="0.5"/>
<text class="ll" x="810.2" y="750.9">0&lt;BCE≤5</text>
<rect x="792.0" y="759.0" width="15.3" height="7.5" fill="#d9ef8b" stroke="#9a8f8c" stroke-width="0.5"/>
<text class="ll" x="810.2" y="766.5">5&lt;BCE≤10</text>
<rect x="792.0" y="774.6" width="15.3" height="7.5" fill="#fee08b" stroke="#9a8f8c" stroke-width="0.5"/>
<text class="ll" x="810.2" y="782.1">10&lt;BCE≤30</text>
<rect x="792.0" y="790.2" width="15.3" height="7.5" fill="#fc8d59" stroke="#9a8f8c" stroke-width="0.5"/>
<text class="ll" x="810.2" y="797.7">30&lt;BCE≤50</text>
<rect x="792.0" y="805.8" width="15.3" height="7.5" fill="#d73027" stroke="#9a8f8c" stroke-width="0.5"/>
<text class="ll" x="810.2" y="813.3">50&lt;BCE≤286</text>
</g>
<g id="compass" transform="translate(880.6,455.5)">
<circle r="11.9" fill="#fff" stroke="#111" stroke-width="1.7"/>
<path d="M0.0,-14.1 L-2.7,-0.0 L0,0Z" fill="#111"/>
<path d="M0.0,-14.1 L2.7,0.0 L0,0Z" fill="#666" stroke="#111" stroke-width="0.3"/>
<path d="M7.2,-7.2 L-1.4,-1.4 L0,0Z" fill="#111"/>
<path d="M7.2,-7.2 L1.4,1.4 L0,0Z" fill="#666" stroke="#111" stroke-width="0.3"/>
<path d="M14.1,-0.0 L0.0,-2.7 L0,0Z" fill="#111"/>
<path d="M14.1,-0.0 L-0.0,2.7 L0,0Z" fill="#666" stroke="#111" stroke-width="0.3"/>
<path d="M7.2,7.2 L1.4,-1.4 L0,0Z" fill="#111"/>
<path d="M7.2,7.2 L-1.4,1.4 L0,0Z" fill="#666" stroke="#111" stroke-width="0.3"/>
<path d="M0.0,14.1 L2.7,-0.0 L0,0Z" fill="#111"/>
<path d="M0.0,14.1 L-2.7,0.0 L0,0Z" fill="#666" stroke="#111" stroke-width="0.3"/>
<path d="M-7.2,7.2 L1.4,1.4 L0,0Z" fill="#111"/>
<path d="M-7.2,7.2 L-1.4,-1.4 L0,0Z" fill="#666" stroke="#111" stroke-width="0.3"/>
<path d="M-14.1,0.0 L0.0,2.7 L0,0Z" fill="#111"/>
<path d="M-14.1,0.0 L-0.0,-2.7 L0,0Z" fill="#666" stroke="#111" stroke-width="0.3"/>
<path d="M-7.2,-7.2 L-1.4,1.4 L0,0Z" fill="#111"/>
<path d="M-7.2,-7.2 L1.4,-1.4 L0,0Z" fill="#666" stroke="#111" stroke-width="0.3"/>
<circle r="1.2" fill="#777"/>
<text x="0" y="-15.9" text-anchor="middle" style="font-family:'Liberation Serif',serif;font-size:7.2px;font-weight:bold;fill:#222">N</text>
<text x="0" y="21.2" text-anchor="middle" style="font-family:'Liberation Serif',serif;font-size:7.2px;font-weight:bold;fill:#222">S</text>
<text x="-18.4" y="2.4" text-anchor="middle" style="font-family:'Liberation Serif',serif;font-size:7.2px;font-weight:bold;fill:#222">W</text>
<text x="17.3" y="2.4" text-anchor="middle" style="font-family:'Liberation Serif',serif;font-size:7.2px;font-weight:bold;fill:#222">E</text>
</g>
</svg></body></html>
